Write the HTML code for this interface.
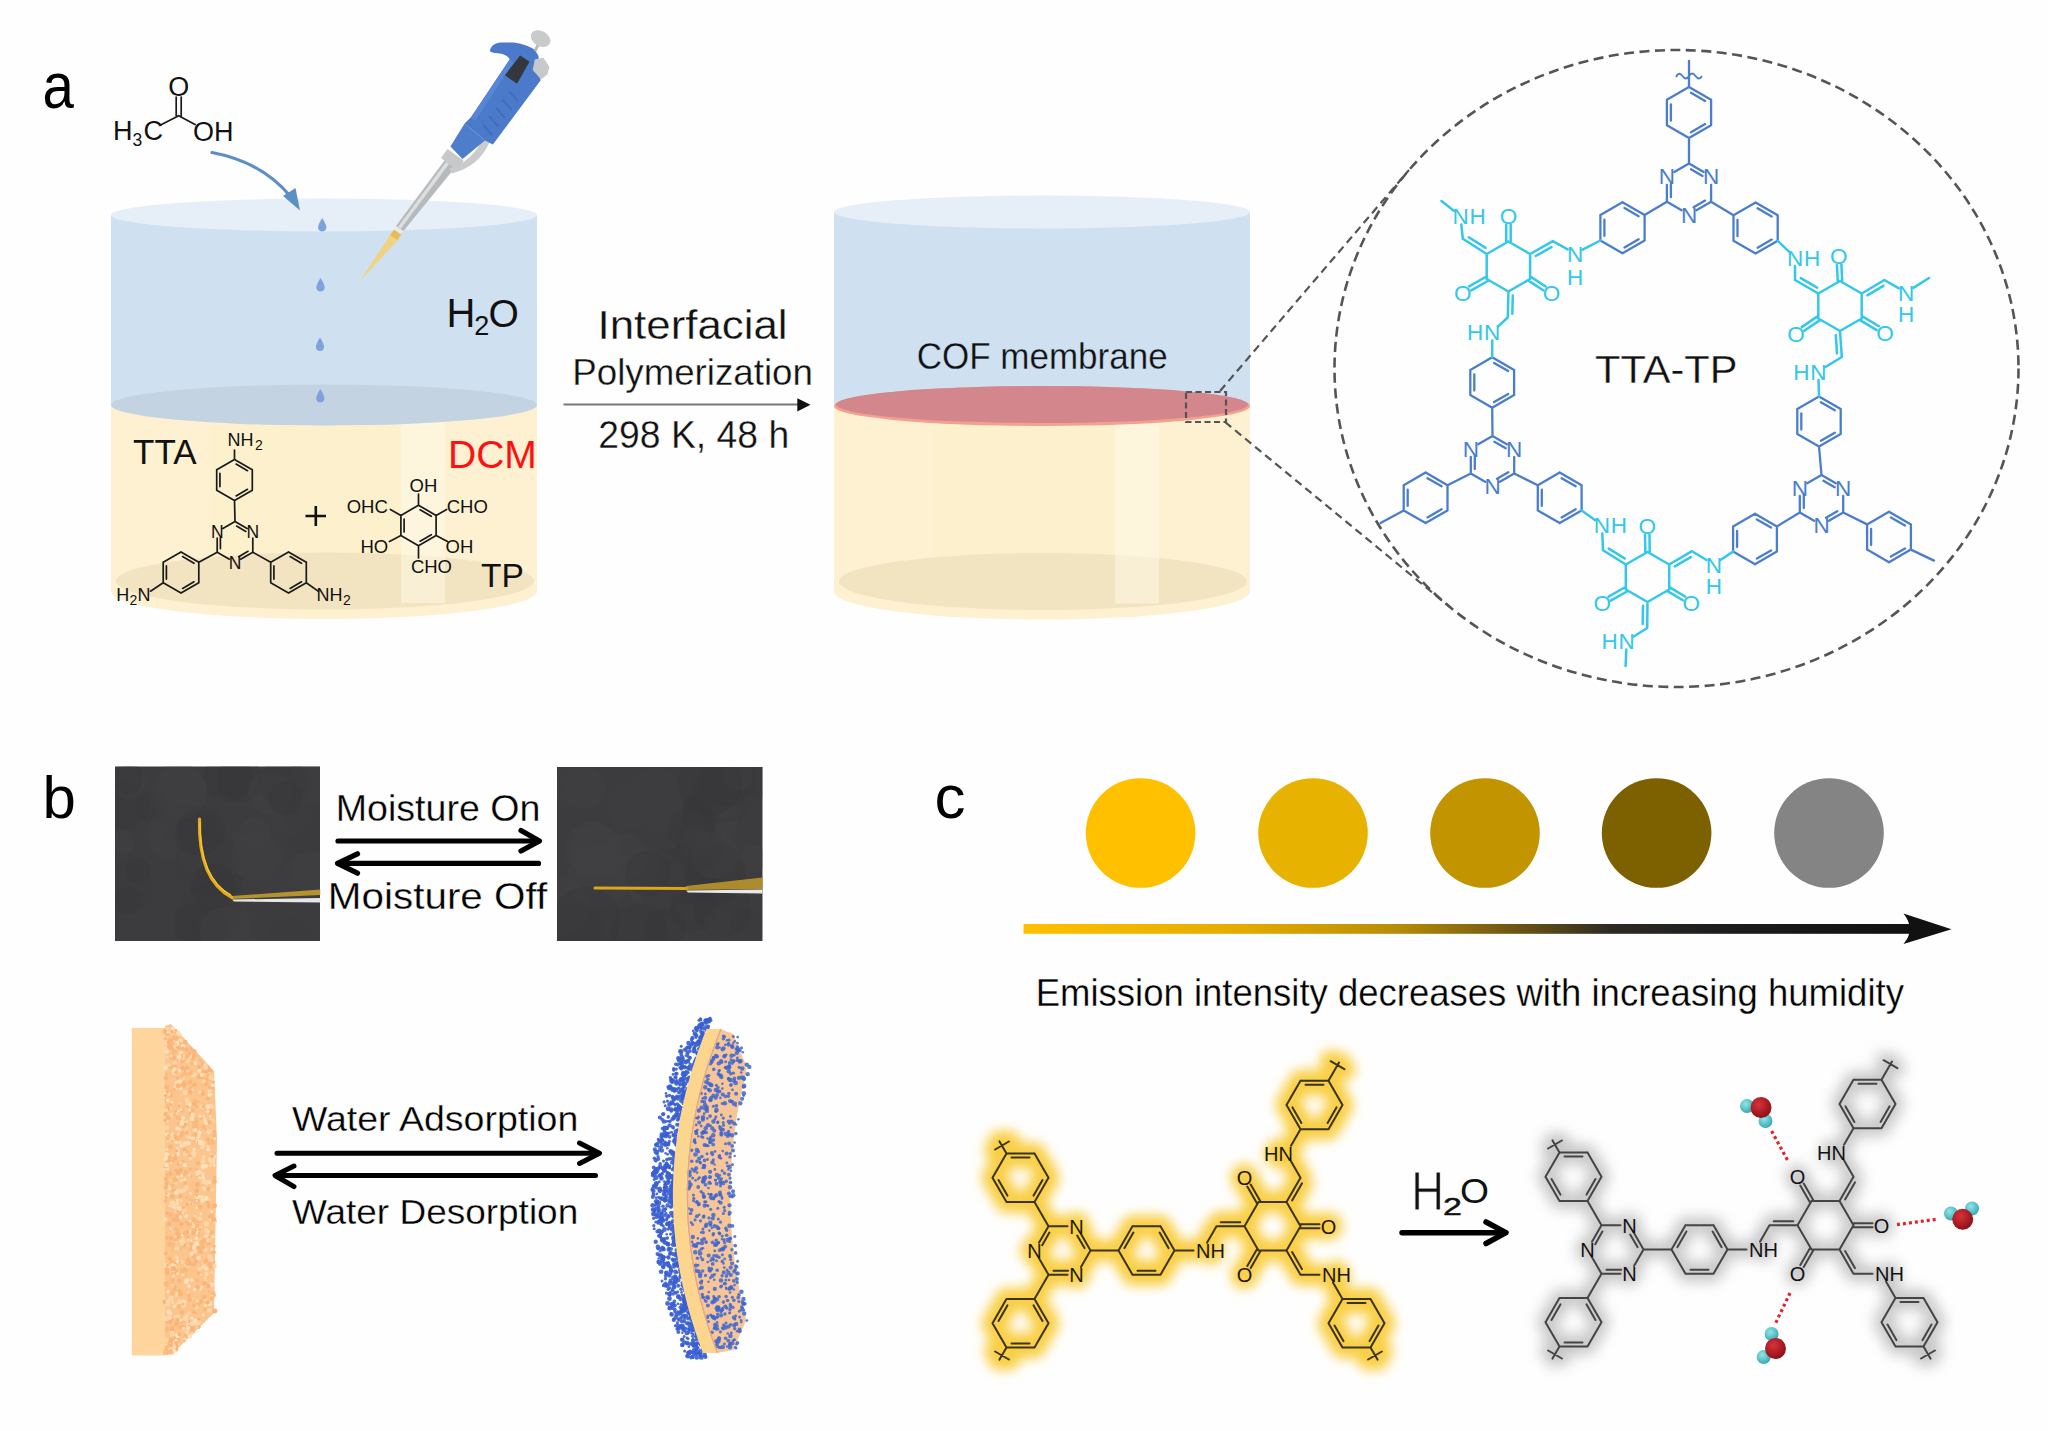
<!DOCTYPE html>
<html><head><meta charset="utf-8"><style>html,body{margin:0;padding:0;background:#fff;overflow:hidden}svg{display:block}</style></head>
<body><svg width="2048" height="1431" viewBox="0 0 2048 1431"><defs>
<linearGradient id="grad" x1="0" y1="0" x2="1" y2="0">
<stop offset="0" stop-color="#ffc000"/><stop offset="0.25" stop-color="#e4aa00"/><stop offset="0.42" stop-color="#b88c08"/><stop offset="0.55" stop-color="#6e5614"/><stop offset="0.66" stop-color="#2e2a22"/><stop offset="0.8" stop-color="#1c1c1c"/><stop offset="1" stop-color="#111"/>
</linearGradient>
<filter id="glowY" x="-20%" y="-20%" width="140%" height="140%"><feGaussianBlur stdDeviation="6"/></filter>
<filter id="glowG" x="-20%" y="-20%" width="140%" height="140%"><feGaussianBlur stdDeviation="7"/></filter>
<filter id="soft" x="-10%" y="-10%" width="120%" height="120%"><feGaussianBlur stdDeviation="0.6"/></filter>
<radialGradient id="photoG" cx="0.5" cy="0.5" r="0.7"><stop offset="0" stop-color="#3a3a3b"/><stop offset="1" stop-color="#3f3f41"/></radialGradient>
<radialGradient id="oG" cx="0.4" cy="0.35" r="0.65"><stop offset="0" stop-color="#d8323a"/><stop offset="1" stop-color="#8e1018"/></radialGradient>
<radialGradient id="hG" cx="0.4" cy="0.35" r="0.65"><stop offset="0" stop-color="#8fe6e6"/><stop offset="1" stop-color="#3aa9b4"/></radialGradient>
</defs><rect x="0" y="0" width="2048" height="1431" fill="#fefefe"/><path d="M111 405L111 591A213 28 0 0 0 537 591L537 405Z" fill="#fdf1d2"/><rect x="211" y="405" width="190" height="186" fill="#fcefcc" opacity="0.9"/><ellipse cx="325" cy="581" rx="209" ry="28.5" fill="#f1e3bf" opacity="0.95"/><rect x="401" y="405" width="44" height="198" fill="#fff8e6" opacity="0.55"/><path d="M111 215L111 405L537 405L537 215Z" fill="#cfe0f1"/><ellipse cx="324" cy="215" rx="213" ry="16.5" fill="#e6eef8"/><ellipse cx="324" cy="405" rx="213" ry="20.5" fill="#c3d3e1"/><path d="M834 405L834 591.5A208 28 0 0 0 1250 591.5L1250 405Z" fill="#fdf1d2"/><rect x="934" y="405" width="181" height="186.5" fill="#fcefcc" opacity="0.9"/><ellipse cx="1043" cy="581.5" rx="204" ry="28.5" fill="#f1e3bf" opacity="0.95"/><rect x="1115" y="405" width="44" height="198.5" fill="#fff8e6" opacity="0.55"/><path d="M834 212L834 405L1250 405L1250 212Z" fill="#cfe0f1"/><ellipse cx="1042" cy="212" rx="208" ry="16.5" fill="#e6eef8"/><ellipse cx="1042" cy="406" rx="208" ry="20" fill="#f2a08f"/><ellipse cx="1042" cy="404.5" rx="206" ry="18.5" fill="#d4868d"/><g font-family="'Liberation Sans', sans-serif"><text transform="matrix(0.94 0 0 1.08 42.6 108.2)" font-size="60">a</text><text x="42.5" y="818" font-size="60" fill="#000" text-anchor="start" >b</text><text x="934.5" y="818.2" font-size="62" fill="#000" text-anchor="start" >c</text></g><rect x="115" y="766.5" width="205" height="174.5" fill="#3c3c3e"/><rect x="557" y="767" width="205.5" height="174" fill="#3c3c3e"/><circle cx="1140.6" cy="833" r="54.8" fill="#ffc000"/><circle cx="1313" cy="833" r="54.8" fill="#e8b300"/><circle cx="1485" cy="833" r="54.8" fill="#c29400"/><circle cx="1656.6" cy="833" r="54.8" fill="#7d6000"/><circle cx="1829" cy="833" r="54.8" fill="#848484"/><rect x="1023.5" y="924" width="890" height="9.8" fill="url(#grad)"/><path d="M1951.5 929.2L1903.5 913.5Q1916 929.2 1903.5 944Z" fill="#111"/><g font-family="'Liberation Sans', sans-serif"><text transform="matrix(1.0923 0 0 1 597.55 339.20)" x="0" y="0" font-size="40.14" fill="#111" stroke="#fefefe" stroke-width="0.3">Interfacial</text><text transform="matrix(1.0131 0 0 1 572.26 385.30)" x="0" y="0" font-size="36.23" fill="#111" stroke="#fefefe" stroke-width="0.3">Polymerization</text><text transform="matrix(0.9717 0 0 1 598.33 448.00)" x="0" y="0" font-size="38.41" fill="#111" stroke="#fefefe" stroke-width="0.3">298 K, 48 h</text><text transform="matrix(0.9290 0 0 1 916.75 369.00)" x="0" y="0" font-size="37.68" fill="#111" stroke="#cfe0f1" stroke-width="0.3">COF membrane</text><text transform="matrix(1.0794 0 0 1 1594.97 383.20)" x="0" y="0" font-size="38.55" fill="#111" stroke="#fefefe" stroke-width="0.3">TTA-TP</text><text transform="matrix(1.0054 0 0 1 335.74 821.00)" x="0" y="0" font-size="37.39" fill="#000" stroke="#fefefe" stroke-width="0.3">Moisture On</text><text transform="matrix(1.0813 0 0 1 327.87 908.90)" x="0" y="0" font-size="37.39" fill="#000" stroke="#fefefe" stroke-width="0.3">Moisture Off</text><text transform="matrix(1.0441 0 0 1 291.92 1131.00)" x="0" y="0" font-size="35.94" fill="#000" stroke="#fefefe" stroke-width="0.3">Water Adsorption</text><text transform="matrix(1.0291 0 0 1 291.93 1224.20)" x="0" y="0" font-size="35.94" fill="#000" stroke="#fefefe" stroke-width="0.3">Water Desorption</text><text transform="matrix(0.9616 0 0 1 1035.68 1005.50)" x="0" y="0" font-size="37.97" fill="#000" stroke="#fefefe" stroke-width="0.3">Emission intensity decreases with increasing humidity</text></g><path d="M563.5 404.5H800" stroke="#777" stroke-width="2"/><path d="M810.5 404.8L797.3 398.3V411.5Z" fill="#111"/><g stroke="#000" stroke-width="5.2" fill="none" stroke-linecap="round" stroke-linejoin="round"><path d="M338 841H538"/><path d="M521 830.5L539.5 841L521 851"/><path d="M339 863.4H538.5"/><path d="M357.5 853.8L337.5 863.4L357.5 873.2"/></g><g stroke="#000" stroke-width="5" fill="none" stroke-linecap="round" stroke-linejoin="round"><path d="M277 1153.2H598"/><path d="M579.5 1143L599.5 1153.2L579.5 1163.5"/><path d="M276 1175.5H595.5"/><path d="M294 1166L275 1175.5L294 1186.6"/></g><g stroke="#000" stroke-width="5.5" fill="none" stroke-linecap="round" stroke-linejoin="round"><path d="M1402 1232.7H1504"/><path d="M1486 1222L1506 1232.7L1486 1243.5"/></g><path d="M1689 163.5L1703.7 172M1691 169.3L1702.5 175.9M1711.1 184.8L1711.1 201.8M1711.1 201.8L1696.4 210.2M1705.1 200.6L1693.6 207.2M1681.6 210.2L1666.9 201.8M1666.9 201.8L1666.9 184.8M1670.9 197.2L1670.9 183.9M1674.3 172L1689 163.5M1689 87L1711.1 99.8M1691 92.8L1705.1 100.9M1711.1 99.8L1711.1 125.2M1711.1 125.2L1689 138M1705.1 124.1L1691 132.2M1689 138L1666.9 125.2M1666.9 125.2L1666.9 99.8M1670.9 120.7L1670.9 104.3M1666.9 99.8L1689 87M1689 163.5L1689 138M1689 87L1689 61M1622.5 202.2L1644.6 215M1624.5 208L1638.6 216.2M1644.6 215L1644.6 240.5M1644.6 240.5L1622.5 253.2M1638.6 239.3L1624.5 247.5M1622.5 253.2L1600.4 240.5M1600.4 240.5L1600.4 215M1604.4 235.9L1604.4 219.6M1600.4 215L1622.5 202.2M1666.9 201.8L1644.6 215M1755.6 202.5L1777.7 215.2M1757.6 208.3L1771.7 216.4M1777.7 215.2L1777.7 240.8M1777.7 240.8L1755.6 253.5M1771.7 239.6L1757.6 247.7M1755.6 253.5L1733.5 240.8M1733.5 240.8L1733.5 215.2M1737.5 236.2L1737.5 219.8M1733.5 215.2L1755.6 202.5M1711.1 201.8L1733.5 215.2M1492.2 357.2L1514.1 369.9M1494.1 362.9L1508.2 371M1514.1 369.9L1514.1 395.1M1514.1 395.1L1492.2 407.8M1508.2 394L1494.1 402.1M1492.2 407.8L1470.3 395.1M1470.3 395.1L1470.3 369.9M1474.3 390.6L1474.3 374.4M1470.3 369.9L1492.2 357.2M1492.5 436L1506.8 444.2M1494.4 441.7L1505.7 448.2M1514.2 457L1514.2 473.5M1514.2 473.5L1499.9 481.8M1508.3 472.3L1497 478.8M1485.1 481.8L1470.8 473.5M1470.8 473.5L1470.8 457M1474.8 469L1474.8 456M1478.2 444.2L1492.5 436M1492.2 407.8L1492.5 436M1425.6 472.5L1447.5 485.2M1427.5 478.2L1441.6 486.3M1447.5 485.2L1447.5 510.4M1447.5 510.4L1425.6 523.1M1441.6 509.3L1427.5 517.4M1425.6 523.1L1403.7 510.4M1403.7 510.4L1403.7 485.2M1407.7 505.9L1407.7 489.7M1403.7 485.2L1425.6 472.5M1470.8 473.5L1447.5 485.2M1403.7 510.4L1380.6 523M1559.7 472.5L1581.6 485.2M1561.6 478.2L1575.7 486.3M1581.6 485.2L1581.6 510.4M1581.6 510.4L1559.7 523.1M1575.7 509.3L1561.6 517.4M1559.7 523.1L1537.8 510.4M1537.8 510.4L1537.8 485.2M1541.8 505.9L1541.8 489.7M1537.8 485.2L1559.7 472.5M1514.2 473.5L1537.8 485.2M1755 513.7L1776.9 526.4M1756.9 519.4L1771 527.5M1776.9 526.4L1776.9 551.6M1776.9 551.6L1755 564.3M1771 550.5L1756.9 558.6M1755 564.3L1733.1 551.6M1733.1 551.6L1733.1 526.4M1737.1 547.1L1737.1 530.9M1733.1 526.4L1755 513.7M1821.5 475L1835.8 483.2M1823.4 480.7L1834.7 487.2M1843.2 496L1843.2 512.5M1843.2 512.5L1828.9 520.8M1837.3 511.3L1826 517.8M1814.1 520.8L1799.8 512.5M1799.8 512.5L1799.8 496M1803.8 508L1803.8 495M1807.2 483.2L1821.5 475M1776.9 526.4L1799.8 512.5M1889 511.7L1910.9 524.4M1890.9 517.4L1905 525.5M1910.9 524.4L1910.9 549.6M1910.9 549.6L1889 562.3M1905 548.5L1890.9 556.6M1889 562.3L1867.1 549.6M1867.1 549.6L1867.1 524.4M1871.1 545.1L1871.1 528.9M1867.1 524.4L1889 511.7M1843.2 512.5L1867.1 524.4M1910.9 549.6L1934 560.6M1819 396.5L1840.7 409M1820.9 402.2L1834.8 410.2M1840.7 409L1840.7 434M1840.7 434L1819 446.5M1834.8 432.8L1820.9 440.8M1819 446.5L1797.3 434M1797.3 434L1797.3 409M1801.3 429.5L1801.3 413.5M1797.3 409L1819 396.5M1819 446.5L1821.5 475" stroke="#4a7ecd" stroke-width="2.3" fill="none" stroke-linecap="round"/><path d="M1508.4 241.5L1530.1 254M1530.1 254L1530.1 279M1530.1 279L1508.4 291.5M1508.4 291.5L1486.7 279M1486.7 279L1486.7 254M1486.7 254L1508.4 241.5M1600.4 240.5L1582.6 249.6M1552.8 241.2L1567.6 249.4M1530.1 254L1552.8 241.2M1535.7 256L1551.5 247.1M1510.7 241.5L1510.7 224.5M1506.2 241.5L1506.2 224.5M1485.6 277L1469.1 286.4M1487.9 281L1471.3 290.3M1528.8 280.9L1543.2 290.2M1531.3 277.1L1545.6 286.5M1486.7 254L1462.8 238.8M1485.6 247.9L1468.8 237.2M1462.8 238.8L1461.3 224.5M1453.8 210.7L1441.5 201M1508.4 291.5L1507.8 317.5M1512.8 295.5L1512.3 313.7M1507.8 317.5L1498.4 326.2M1492.2 340.5L1492.2 357.2M1581.6 510.4L1595 520M1647.5 552L1669.2 564.5M1669.2 564.5L1669.2 589.5M1669.2 589.5L1647.5 602M1647.5 602L1625.8 589.5M1625.8 589.5L1625.8 564.5M1625.8 564.5L1647.5 552M1602.3 533.5L1603 550.3M1625.8 564.5L1603 550.3M1624.8 558.5L1608.8 548.6M1649.7 552L1649.5 534.5M1645.3 552L1645 534.5M1624.7 587.5L1608.5 596.7M1627 591.5L1610.7 600.6M1668 591.4L1682.8 600.3M1670.3 587.6L1685.1 596.5M1669.2 564.5L1692 551.2M1674.8 566.4L1690.8 557.1M1692 551.2L1706.5 560M1647.5 602L1647.2 628M1643 605.8L1642.7 624M1647.2 628L1633.8 636.5M1626.3 649.5L1625.6 666M1720.8 559.7L1733.1 551.6M1819 396.5L1818.5 380M1840 281L1861.7 293.5M1861.7 293.5L1861.7 318.5M1861.7 318.5L1840 331M1840 331L1818.3 318.5M1818.3 318.5L1818.3 293.5M1818.3 293.5L1840 281M1825.5 367L1841.8 357M1840 331L1841.8 357M1835.8 335.2L1837 353.4M1842.2 280.9L1841.4 264.6M1837.8 281.1L1836.9 264.9M1817.1 316.6L1801.8 327.1M1819.6 320.4L1804.3 330.8M1860.5 320.4L1876.6 330.1M1862.8 316.6L1878.9 326.2M1818.3 293.5L1795 280M1817.1 287.6L1800.8 278.1M1795 280L1795 266M1777.7 240.8L1788.9 251.6M1861.7 293.5L1884.4 280M1867.4 295.3L1883.3 285.9M1884.4 280L1898.9 288.3M1913.4 287.9L1929 278" stroke="#33c7e9" stroke-width="2.5" fill="none" stroke-linecap="round"/><path d="M1676 77Q1679 71 1682.5 76T1689 76T1695.5 76T1702 76" stroke="#4a7ecd" stroke-width="1.8" fill="none"/><g font-family="'Liberation Sans', sans-serif" font-size="22.5" text-anchor="middle"><text x="1711.1" y="184.3" fill="#4a7ecd">N</text><text x="1689" y="222.6" fill="#4a7ecd">N</text><text x="1666.9" y="184.3" fill="#4a7ecd">N</text><text x="1575" y="261.6" fill="#33c7e9">N</text><text x="1575" y="284.6" fill="#33c7e9">H</text><text x="1508.4" y="224.1" fill="#33c7e9">O</text><text x="1462.8" y="300.6" fill="#33c7e9">O</text><text x="1551.5" y="301.1" fill="#33c7e9">O</text><text x="1460.5" y="224.1" fill="#33c7e9">N</text><text x="1477.5" y="224.1" fill="#33c7e9">H</text><text x="1492.2" y="340.1" fill="#33c7e9">N</text><text x="1475.2" y="340.1" fill="#33c7e9">H</text><text x="1514.2" y="456.6" fill="#4a7ecd">N</text><text x="1492.5" y="494.1" fill="#4a7ecd">N</text><text x="1470.8" y="456.6" fill="#4a7ecd">N</text><text x="1601.9" y="533.1" fill="#33c7e9">N</text><text x="1618.9" y="533.1" fill="#33c7e9">H</text><text x="1647.2" y="534.1" fill="#33c7e9">O</text><text x="1602.2" y="610.9" fill="#33c7e9">O</text><text x="1691.2" y="610.9" fill="#33c7e9">O</text><text x="1713.8" y="572.5" fill="#33c7e9">N</text><text x="1713.8" y="593.5" fill="#33c7e9">H</text><text x="1626.6" y="649.1" fill="#33c7e9">N</text><text x="1609.6" y="649.1" fill="#33c7e9">H</text><text x="1843.2" y="495.6" fill="#4a7ecd">N</text><text x="1821.5" y="533.1" fill="#4a7ecd">N</text><text x="1799.8" y="495.6" fill="#4a7ecd">N</text><text x="1818.3" y="379.6" fill="#33c7e9">N</text><text x="1801.3" y="379.6" fill="#33c7e9">H</text><text x="1838.8" y="264.4" fill="#33c7e9">O</text><text x="1796" y="341.9" fill="#33c7e9">O</text><text x="1885" y="340.6" fill="#33c7e9">O</text><text x="1795" y="265.6" fill="#33c7e9">N</text><text x="1812" y="265.6" fill="#33c7e9">H</text><text x="1906.2" y="300.6" fill="#33c7e9">N</text><text x="1906.2" y="321.6" fill="#33c7e9">H</text></g><ellipse cx="1676.5" cy="368.5" rx="342" ry="318.5" fill="none" stroke="#555" stroke-width="2.6" stroke-dasharray="10 5.5"/><rect x="1186" y="392" width="40" height="30" fill="none" stroke="#555" stroke-width="2.2" stroke-dasharray="6 3.5"/><path d="M1220 391L1409 170M1225 422L1450.1 607.2" stroke="#555" stroke-width="2.2" stroke-dasharray="8 5" fill="none"/><path d="M161.5 124.5L178.7 115.7M178.7 115.7L195 124.5M181.2 115.7L181.2 97M176.2 115.7L176.2 97M235 521.5L247.1 528.5M236.6 526.1L245.8 531.4M252.8 538.2L252.8 552.2M252.8 552.2L240.6 559.2M248 551.3L238.7 556.7M229.4 559.2L217.2 552.2M217.2 552.2L217.2 538.2M220.4 548.6L220.4 537.9M222.9 528.5L235 521.5M234.5 459.5L252.3 469.8M236.1 464.1L247.5 470.7M252.3 469.8L252.3 490.2M252.3 490.2L234.5 500.5M247.5 489.3L236.1 495.9M234.5 500.5L216.7 490.2M216.7 490.2L216.7 469.8M219.9 486.6L219.9 473.4M216.7 469.8L234.5 459.5M235 521.5L234.5 500.5M234.5 459.5L234.5 450M181 552L198.8 562.2M182.6 556.6L194 563.2M198.8 562.2L198.8 582.8M198.8 582.8L181 593M194 581.8L182.6 588.4M181 593L163.2 582.8M163.2 582.8L163.2 562.2M166.4 579.1L166.4 565.9M163.2 562.2L181 552M217.2 552.2L198.8 562.2M163.2 582.8L150.5 591.2M288.5 552L306.3 562.2M290.1 556.6L301.5 563.2M306.3 562.2L306.3 582.8M306.3 582.8L288.5 593M301.5 581.8L290.1 588.4M288.5 593L270.7 582.8M270.7 582.8L270.7 562.2M273.9 579.1L273.9 565.9M270.7 562.2L288.5 552M252.8 552.2L270.7 562.2M306.3 582.8L318.1 591.1M418.5 505.2L436.1 515.4M420.1 509.8L431.3 516.3M436.1 515.4L436.1 535.6M436.1 535.6L418.5 545.8M431.3 534.7L420.1 541.2M418.5 545.8L400.9 535.6M400.9 535.6L400.9 515.4M404.1 532L404.1 519M400.9 515.4L418.5 505.2M418.5 505.2L418.5 494M400.9 515.4L390.4 509.5M436.1 515.4L446.6 509.5M400.9 535.6L389.5 541.5M436.1 535.6L447.5 541.5M418.5 545.8L418.5 558" stroke="#1a1a1a" stroke-width="1.7" fill="none" stroke-linecap="round"/><g font-family="'Liberation Sans', sans-serif" fill="#111"><text x="113" y="140" font-size="27" text-anchor="start">H</text><text x="132.5" y="145.5" font-size="17.5" text-anchor="start">3</text><text x="143.5" y="140" font-size="27" text-anchor="start">C</text><text x="178.7" y="96" font-size="27" text-anchor="middle">O</text><text x="193" y="140.5" font-size="27" text-anchor="start">OH</text><text x="252.8" y="538" font-size="17.5" text-anchor="middle">N</text><text x="235" y="568.7" font-size="17.5" text-anchor="middle">N</text><text x="217.2" y="538" font-size="17.5" text-anchor="middle">N</text><text x="227.4" y="446.1" font-size="18" text-anchor="start">NH</text><text x="255" y="450.2" font-size="14" text-anchor="start">2</text><text x="116.3" y="600.8" font-size="18" text-anchor="start">H</text><text x="129.5" y="604.5" font-size="14" text-anchor="start">2</text><text x="137.5" y="600.8" font-size="18" text-anchor="start">N</text><text x="316.6" y="600.8" font-size="18" text-anchor="start">NH</text><text x="343" y="604.5" font-size="14" text-anchor="start">2</text><text x="409.6" y="491.5" font-size="18.5" text-anchor="start">OH</text><text x="346.7" y="512.8" font-size="18.5" text-anchor="start">OHC</text><text x="446.7" y="512.8" font-size="18.5" text-anchor="start">CHO</text><text x="360.5" y="552.5" font-size="18.5" text-anchor="start">HO</text><text x="445.5" y="552.5" font-size="18.5" text-anchor="start">OH</text><text x="410.9" y="573.3" font-size="18.5" text-anchor="start">CHO</text><text x="133" y="463.5" font-size="35" text-anchor="start">TTA</text><text x="481" y="587" font-size="33.5" text-anchor="start">TP</text><text x="448" y="467.5" font-size="39" fill="#ff1010">DCM</text><text x="446.4" y="326.8" font-size="40" text-anchor="start">H</text><text x="474.2" y="335.3" font-size="27" text-anchor="start">2</text><text x="488.5" y="326.8" font-size="39" text-anchor="start">O</text></g><path d="M305.5 516H326M315.8 506V526" stroke="#111" stroke-width="2.6"/><path d="M212 152.5Q262 162 290 196" stroke="#5d8fc6" stroke-width="3.2" fill="none" stroke-linecap="round"/><path d="M300 210.5L283 196L295.5 188Z" fill="#5d8fc6"/><path d="M322.2 218Q327.2 226 326.2 228.5A4.2 4.2 0 0 1 318.2 228.5Q317.2 226 322.2 218Z" fill="#7ea2dc"/><path d="M320.5 278Q325.5 286 324.5 288.5A4.2 4.2 0 0 1 316.5 288.5Q315.5 286 320.5 278Z" fill="#7ea2dc"/><path d="M320 337.5Q325 345.5 324 348A4.2 4.2 0 0 1 316 348Q315 345.5 320 337.5Z" fill="#7ea2dc"/><path d="M320.3 389Q325.3 397 324.3 399.5A4.2 4.2 0 0 1 316.3 399.5Q315.3 397 320.3 389Z" fill="#7ea2dc"/><path d="M359.6 281.5L391.5 233L399 238.5Z" fill="#f1d27e"/><path d="M390 235L395.5 228L402.5 233L397.5 240Z" fill="#e6bd55"/><path d="M394 229.5L397 225.5L404 230.5L401 234.5Z" fill="#e9e9e9"/><path d="M396 226L444.5 160.5L455.5 167L403.5 231Z" fill="#b7babd"/><path d="M398 227L446 162L449 164L400.5 229Z" fill="#dcdee0"/><path d="M490 141Q480 166 452 173.5L449.5 168.5Q473 161 483.5 137.5Z" fill="#c9cbcd"/><path d="M441 158L447.5 149L463.5 160.5L457 170Z" fill="#c6c8ca"/><path d="M450.4 146.6L464.6 123.5L485 140.5L462.5 159.1Z" fill="#4e7ecb"/><path d="M470.9 117.2L509.6 59.6Q508 54.5 498 53.3Q491 52.5 489.7 51.2Q491 44 500 42.6L514 42.6Q528 45 535 50.1L538.5 56L540.5 80.5L492.9 144.5L485 140.5L464.6 123.5Z" fill="#4b7acb"/><path d="M471 117.5L509.6 59.6L514 62L475 121Z" fill="#5b8ad6" opacity="0.8"/><path d="M520.1 55.4L529.5 61.7L517 83.7L504.9 75.3Z" fill="#34383d"/><path d="M483.0 125.0L492.0 135.0" stroke="#3e68b4" stroke-width="2.2" opacity="0.7"/><path d="M489.5 116.5L498.5 126.5" stroke="#3e68b4" stroke-width="2.2" opacity="0.7"/><path d="M496.0 108.0L505.0 118.0" stroke="#3e68b4" stroke-width="2.2" opacity="0.7"/><path d="M502.5 99.5L511.5 109.5" stroke="#3e68b4" stroke-width="2.2" opacity="0.7"/><path d="M509.0 91.0L518.0 101.0" stroke="#3e68b4" stroke-width="2.2" opacity="0.7"/><path d="M534.8 59.6L543.2 57.5L549.5 66.9L547.4 74.3L541.1 79.5L532.7 70.1Z" fill="#c8c9cb"/><path d="M535 51L540 41" stroke="#b9b9b9" stroke-width="3"/><ellipse cx="540.6" cy="38.6" rx="10.5" ry="7.5" transform="rotate(30 540.6 38.6)" fill="#c9cacc"/><defs><clipPath id="clip115"><rect x="115" y="766.5" width="205" height="174.5"/></clipPath><clipPath id="clip557"><rect x="557" y="767" width="205.5" height="174"/></clipPath></defs><g clip-path="url(#clip115)"><circle cx="181.4" cy="792.7" r="26.3" fill="#434345" opacity="0.35"/><circle cx="283.4" cy="782.9" r="24.6" fill="#363638" opacity="0.35"/><circle cx="122.7" cy="842" r="11.7" fill="#434345" opacity="0.35"/><circle cx="228" cy="776.8" r="24.1" fill="#363638" opacity="0.35"/><circle cx="244.3" cy="867.9" r="11.5" fill="#39393b" opacity="0.35"/><circle cx="125.2" cy="805" r="23.9" fill="#363638" opacity="0.35"/><circle cx="174.4" cy="791.6" r="12.9" fill="#404042" opacity="0.35"/><circle cx="229.9" cy="885.2" r="12.6" fill="#363638" opacity="0.35"/><circle cx="191.3" cy="861.8" r="11.6" fill="#434345" opacity="0.35"/><circle cx="241.9" cy="852.9" r="23.3" fill="#404042" opacity="0.35"/><circle cx="210.4" cy="927.2" r="19" fill="#363638" opacity="0.35"/><circle cx="277.8" cy="888.1" r="16.1" fill="#404042" opacity="0.35"/><circle cx="222.7" cy="918.8" r="28.2" fill="#404042" opacity="0.35"/><circle cx="239.8" cy="779.2" r="22.8" fill="#363638" opacity="0.35"/><circle cx="270.2" cy="792.9" r="22.2" fill="#434345" opacity="0.35"/><circle cx="312.2" cy="780" r="24" fill="#404042" opacity="0.35"/><circle cx="184.7" cy="827.4" r="22.4" fill="#39393b" opacity="0.35"/><circle cx="129.1" cy="782.8" r="16.7" fill="#434345" opacity="0.35"/><circle cx="127.4" cy="888.6" r="26.2" fill="#39393b" opacity="0.35"/><circle cx="173.3" cy="833.6" r="26.7" fill="#434345" opacity="0.35"/><circle cx="307.8" cy="828.4" r="25.3" fill="#39393b" opacity="0.35"/><circle cx="127.1" cy="900.2" r="13.2" fill="#363638" opacity="0.35"/><circle cx="196.6" cy="926" r="22.4" fill="#363638" opacity="0.35"/><circle cx="207.1" cy="862.1" r="32.1" fill="#39393b" opacity="0.35"/><circle cx="292.1" cy="814.9" r="20.4" fill="#404042" opacity="0.35"/><circle cx="255" cy="832.7" r="15.8" fill="#434345" opacity="0.35"/><circle cx="151.1" cy="806.9" r="15.8" fill="#39393b" opacity="0.35"/><circle cx="285.4" cy="798.2" r="17" fill="#363638" opacity="0.35"/><circle cx="200.9" cy="830.8" r="24.2" fill="#363638" opacity="0.35"/><circle cx="256.6" cy="856.2" r="25.4" fill="#434345" opacity="0.35"/><circle cx="208.6" cy="918.1" r="33.8" fill="#39393b" opacity="0.35"/><circle cx="196.6" cy="835.1" r="22" fill="#39393b" opacity="0.35"/><circle cx="127.8" cy="778.2" r="15.2" fill="#363638" opacity="0.35"/><circle cx="137.5" cy="871" r="12.6" fill="#363638" opacity="0.35"/><circle cx="225" cy="931.6" r="25.3" fill="#434345" opacity="0.35"/><circle cx="294.2" cy="873.3" r="13.7" fill="#404042" opacity="0.35"/><circle cx="310.9" cy="871.3" r="21.9" fill="#434345" opacity="0.35"/><circle cx="289" cy="939.3" r="21.6" fill="#39393b" opacity="0.35"/><circle cx="178.9" cy="791.6" r="28.7" fill="#404042" opacity="0.35"/><circle cx="213.1" cy="886.9" r="22.9" fill="#363638" opacity="0.35"/></g><g clip-path="url(#clip557)"><circle cx="752" cy="858.9" r="13.7" fill="#434345" opacity="0.35"/><circle cx="712.4" cy="818.9" r="26.1" fill="#434345" opacity="0.35"/><circle cx="699.7" cy="812.4" r="19.2" fill="#363638" opacity="0.35"/><circle cx="629.9" cy="805.8" r="23.5" fill="#404042" opacity="0.35"/><circle cx="687.5" cy="873.7" r="29.7" fill="#363638" opacity="0.35"/><circle cx="722.2" cy="909.4" r="28.5" fill="#363638" opacity="0.35"/><circle cx="598" cy="852.7" r="28.3" fill="#434345" opacity="0.35"/><circle cx="719" cy="849.2" r="14.8" fill="#404042" opacity="0.35"/><circle cx="648.7" cy="930" r="34.7" fill="#404042" opacity="0.35"/><circle cx="573.5" cy="784.8" r="21.8" fill="#404042" opacity="0.35"/><circle cx="598.9" cy="875.6" r="32.5" fill="#434345" opacity="0.35"/><circle cx="655.3" cy="880.6" r="30" fill="#434345" opacity="0.35"/><circle cx="728.1" cy="787.9" r="19.7" fill="#363638" opacity="0.35"/><circle cx="655" cy="798.1" r="29.7" fill="#404042" opacity="0.35"/><circle cx="574.8" cy="931.6" r="28" fill="#39393b" opacity="0.35"/><circle cx="639.3" cy="931.7" r="28.1" fill="#363638" opacity="0.35"/><circle cx="760.6" cy="771.8" r="24.8" fill="#39393b" opacity="0.35"/><circle cx="722.3" cy="792.4" r="30.7" fill="#39393b" opacity="0.35"/><circle cx="691.7" cy="828" r="23.7" fill="#363638" opacity="0.35"/><circle cx="561.4" cy="906.1" r="28.2" fill="#434345" opacity="0.35"/><circle cx="664.9" cy="929.5" r="20.8" fill="#363638" opacity="0.35"/><circle cx="726.4" cy="803.7" r="16.3" fill="#404042" opacity="0.35"/><circle cx="659.7" cy="899.9" r="18.1" fill="#39393b" opacity="0.35"/><circle cx="728" cy="777.6" r="28.5" fill="#39393b" opacity="0.35"/><circle cx="692.8" cy="908.8" r="22.9" fill="#363638" opacity="0.35"/><circle cx="666" cy="858.1" r="10.5" fill="#39393b" opacity="0.35"/><circle cx="716.2" cy="872.9" r="29.4" fill="#363638" opacity="0.35"/><circle cx="592.3" cy="849.4" r="28.1" fill="#434345" opacity="0.35"/><circle cx="623.8" cy="857.2" r="23.9" fill="#434345" opacity="0.35"/><circle cx="738.1" cy="776.9" r="14.8" fill="#434345" opacity="0.35"/><circle cx="715.3" cy="855.3" r="24" fill="#434345" opacity="0.35"/><circle cx="647.9" cy="873.6" r="22.6" fill="#363638" opacity="0.35"/><circle cx="699" cy="845.7" r="23.3" fill="#39393b" opacity="0.35"/><circle cx="661.1" cy="810.1" r="23.1" fill="#404042" opacity="0.35"/><circle cx="746.2" cy="922.3" r="15.1" fill="#39393b" opacity="0.35"/><circle cx="585.1" cy="788.2" r="21.1" fill="#434345" opacity="0.35"/><circle cx="694.6" cy="841.5" r="15.3" fill="#404042" opacity="0.35"/><circle cx="717.7" cy="923.1" r="13.9" fill="#404042" opacity="0.35"/><circle cx="586.3" cy="920.6" r="34.2" fill="#363638" opacity="0.35"/><circle cx="710.1" cy="783.4" r="32.1" fill="#363638" opacity="0.35"/></g><path d="M232 896L320.3 889.5L320.3 895L232 899Z" fill="#c9a12a" opacity="0.85"/><path d="M232 899.5L320.3 898L320.3 902.5L234 901.5Z" fill="#e6e6e6"/><path d="M199.5 819Q198 880 232 897.5" stroke="#e3a91a" stroke-width="3.2" fill="none" stroke-linecap="round"/><path d="M200 822Q199.5 878 231 895" stroke="#f7c838" stroke-width="1.2" fill="none"/><path d="M595 888L687 888.5" stroke="#d9a61c" stroke-width="3.2" stroke-linecap="round"/><path d="M686 886L762.4 877.5L762.4 889L686 890Z" fill="#c19a2c" opacity="0.85"/><path d="M686 890.5L762.4 889.5L762.4 893.5L688 892.5Z" fill="#e8e8e8"/><rect x="131.8" y="1028" width="33.5" height="327.5" fill="#fdd59d"/><polygon points="165,1026 171,1024 214,1071 217,1140 214,1313 172,1354 165,1355" fill="#fcc58e"/><circle cx="173.6" cy="1350.7" r="2.2" fill="#fdd7a8"/><circle cx="168.6" cy="1352.1" r="1.5" fill="#fee1bb"/><circle cx="201.1" cy="1131.8" r="1.7" fill="#fbb87d"/><circle cx="200.2" cy="1177.5" r="1.7" fill="#fee1bb"/><circle cx="190.6" cy="1231.4" r="1.4" fill="#fbb87d"/><circle cx="172.8" cy="1327.4" r="1.3" fill="#fbb87d"/><circle cx="210.3" cy="1116.6" r="1.6" fill="#fdd7a8"/><circle cx="185.4" cy="1070.2" r="1.8" fill="#f9b47a"/><circle cx="190.7" cy="1202.9" r="2.2" fill="#fee1bb"/><circle cx="167.1" cy="1057.2" r="1.8" fill="#fdd7a8"/><circle cx="194.3" cy="1051.6" r="2.3" fill="#fbb87d"/><circle cx="194.7" cy="1055.3" r="1.6" fill="#fbb87d"/><circle cx="165.5" cy="1067.7" r="2.5" fill="#fee1bb"/><circle cx="171.5" cy="1115.3" r="2.5" fill="#fdd7a8"/><circle cx="169.5" cy="1344" r="1.5" fill="#fdd7a8"/><circle cx="180.3" cy="1129.7" r="1.6" fill="#fdd7a8"/><circle cx="173.9" cy="1191" r="2.3" fill="#f9b47a"/><circle cx="165.3" cy="1352.2" r="2.2" fill="#fbb87d"/><circle cx="174.5" cy="1207.6" r="1.5" fill="#fee1bb"/><circle cx="197.9" cy="1173.7" r="2.1" fill="#fee1bb"/><circle cx="209.4" cy="1206" r="2.2" fill="#f9b47a"/><circle cx="169.4" cy="1348.3" r="1.8" fill="#fdd7a8"/><circle cx="167.7" cy="1141.3" r="1.2" fill="#fdd7a8"/><circle cx="209" cy="1231.9" r="1.4" fill="#fee1bb"/><circle cx="194.3" cy="1055.5" r="2" fill="#f9b47a"/><circle cx="167.3" cy="1253.8" r="1.4" fill="#fdd7a8"/><circle cx="178.2" cy="1173.3" r="2.6" fill="#f9b47a"/><circle cx="177.2" cy="1206.3" r="1.5" fill="#f9b47a"/><circle cx="181.8" cy="1087.6" r="1.9" fill="#fbb87d"/><circle cx="175" cy="1191.9" r="1.3" fill="#fbb87d"/><circle cx="172.2" cy="1294.4" r="1.8" fill="#fbb87d"/><circle cx="196.5" cy="1125.7" r="2" fill="#fbb87d"/><circle cx="202.5" cy="1200.5" r="2.3" fill="#fee1bb"/><circle cx="189.7" cy="1262.9" r="2.2" fill="#f9b47a"/><circle cx="167.2" cy="1237.7" r="2.2" fill="#fee1bb"/><circle cx="172" cy="1292.8" r="2.4" fill="#fbb87d"/><circle cx="209.6" cy="1218.4" r="1.3" fill="#fdd7a8"/><circle cx="179.1" cy="1041.6" r="1.7" fill="#fbb87d"/><circle cx="167.5" cy="1175.2" r="2.1" fill="#fbb87d"/><circle cx="189.5" cy="1249.9" r="1.8" fill="#fbb87d"/><circle cx="193.5" cy="1050.9" r="2.1" fill="#fbb87d"/><circle cx="186.6" cy="1049.5" r="2.3" fill="#f9b47a"/><circle cx="176.7" cy="1303.8" r="1.5" fill="#fdd7a8"/><circle cx="188" cy="1239.9" r="1.3" fill="#fee1bb"/><circle cx="175.6" cy="1324.8" r="2.1" fill="#fbb87d"/><circle cx="168.9" cy="1237.5" r="1.7" fill="#fdd7a8"/><circle cx="199.6" cy="1240.4" r="1.2" fill="#fdd7a8"/><circle cx="172.5" cy="1047.8" r="2.2" fill="#fbb87d"/><circle cx="179.5" cy="1248.3" r="1.9" fill="#f9b47a"/><circle cx="170.9" cy="1180" r="1.6" fill="#fdd7a8"/><circle cx="181.7" cy="1056" r="1.8" fill="#f9b47a"/><circle cx="213.4" cy="1295.3" r="2.6" fill="#fee1bb"/><circle cx="210.8" cy="1154.1" r="1.3" fill="#fdd7a8"/><circle cx="192.4" cy="1057.4" r="2.5" fill="#f9b47a"/><circle cx="206" cy="1071.2" r="2.4" fill="#f9b47a"/><circle cx="176.6" cy="1257.3" r="1.8" fill="#fee1bb"/><circle cx="212.5" cy="1079.9" r="1.8" fill="#fee1bb"/><circle cx="185.8" cy="1265.1" r="1.6" fill="#fee1bb"/><circle cx="165.1" cy="1301.9" r="2.4" fill="#f9b47a"/><circle cx="207.1" cy="1067.1" r="2.5" fill="#fbb87d"/><circle cx="183.6" cy="1122.5" r="1.7" fill="#fee1bb"/><circle cx="168.8" cy="1311.6" r="2.3" fill="#fee1bb"/><circle cx="179" cy="1306.5" r="2.4" fill="#fbb87d"/><circle cx="211.8" cy="1121.1" r="2.6" fill="#fdd7a8"/><circle cx="180.8" cy="1170.2" r="2.3" fill="#f9b47a"/><circle cx="166.5" cy="1167.4" r="2.5" fill="#fee1bb"/><circle cx="179.7" cy="1334.7" r="1.3" fill="#fbb87d"/><circle cx="187.5" cy="1266.7" r="2.1" fill="#fdd7a8"/><circle cx="167.4" cy="1121.3" r="1.4" fill="#fdd7a8"/><circle cx="179.1" cy="1163.2" r="2.2" fill="#f9b47a"/><circle cx="168.9" cy="1346.3" r="1.6" fill="#fdd7a8"/><circle cx="184.7" cy="1209.7" r="2.1" fill="#fdd7a8"/><circle cx="181.1" cy="1052.5" r="2" fill="#fee1bb"/><circle cx="181.6" cy="1175.7" r="1.8" fill="#fee1bb"/><circle cx="177.2" cy="1206.6" r="1.7" fill="#fdd7a8"/><circle cx="173.8" cy="1057.7" r="2.3" fill="#f9b47a"/><circle cx="166" cy="1093.9" r="1.7" fill="#fee1bb"/><circle cx="175.5" cy="1271.1" r="1.7" fill="#f9b47a"/><circle cx="172.8" cy="1048.2" r="1.4" fill="#f9b47a"/><circle cx="196.5" cy="1192.1" r="1.3" fill="#fdd7a8"/><circle cx="180.9" cy="1320.4" r="1.8" fill="#fee1bb"/><circle cx="205.7" cy="1129.7" r="1.4" fill="#fbb87d"/><circle cx="203.2" cy="1166.6" r="2.6" fill="#fee1bb"/><circle cx="168.7" cy="1187.7" r="2.6" fill="#fee1bb"/><circle cx="170.5" cy="1109" r="1.4" fill="#fdd7a8"/><circle cx="166.8" cy="1344.8" r="1.3" fill="#fee1bb"/><circle cx="165.1" cy="1281.3" r="1.5" fill="#fdd7a8"/><circle cx="186.8" cy="1327.9" r="2.5" fill="#f9b47a"/><circle cx="191.4" cy="1232.2" r="2.2" fill="#fee1bb"/><circle cx="168" cy="1064.6" r="1.7" fill="#fdd7a8"/><circle cx="195.1" cy="1100.9" r="2" fill="#fbb87d"/><circle cx="167.3" cy="1352.8" r="2.1" fill="#f9b47a"/><circle cx="186.8" cy="1316.1" r="2" fill="#fdd7a8"/><circle cx="172.6" cy="1037.5" r="1.3" fill="#f9b47a"/><circle cx="209.2" cy="1091.3" r="1.3" fill="#fee1bb"/><circle cx="186.2" cy="1102.3" r="1.5" fill="#f9b47a"/><circle cx="171.7" cy="1039.1" r="1.7" fill="#fee1bb"/><circle cx="165.3" cy="1157.2" r="2.2" fill="#f9b47a"/><circle cx="175.3" cy="1192.6" r="1.6" fill="#fdd7a8"/><circle cx="176.5" cy="1295.3" r="1.6" fill="#fdd7a8"/><circle cx="169.8" cy="1317.9" r="2.1" fill="#fee1bb"/><circle cx="185.2" cy="1320.3" r="2.5" fill="#fbb87d"/><circle cx="184.7" cy="1075.7" r="1.2" fill="#fdd7a8"/><circle cx="185.8" cy="1222.3" r="1.5" fill="#fbb87d"/><circle cx="200.6" cy="1174.6" r="2.2" fill="#f9b47a"/><circle cx="172.3" cy="1353.2" r="1.5" fill="#f9b47a"/><circle cx="191.2" cy="1240.7" r="1.2" fill="#fee1bb"/><circle cx="183.9" cy="1244.6" r="2.6" fill="#f9b47a"/><circle cx="170.4" cy="1172.2" r="1.6" fill="#fbb87d"/><circle cx="212.8" cy="1142.6" r="2" fill="#fbb87d"/><circle cx="184" cy="1275.4" r="2.4" fill="#f9b47a"/><circle cx="167.5" cy="1169" r="1.5" fill="#fee1bb"/><circle cx="187.3" cy="1204.5" r="1.7" fill="#f9b47a"/><circle cx="166.3" cy="1320.4" r="1.5" fill="#fee1bb"/><circle cx="185.2" cy="1231.9" r="1.2" fill="#fee1bb"/><circle cx="191.1" cy="1048.4" r="1.5" fill="#f9b47a"/><circle cx="182.2" cy="1048.5" r="1.6" fill="#f9b47a"/><circle cx="178" cy="1340.2" r="2.2" fill="#f9b47a"/><circle cx="211.2" cy="1252.8" r="1.2" fill="#f9b47a"/><circle cx="210.8" cy="1274.3" r="1.2" fill="#fbb87d"/><circle cx="188.8" cy="1104.2" r="2.5" fill="#fee1bb"/><circle cx="177.6" cy="1154" r="2.3" fill="#fee1bb"/><circle cx="189.8" cy="1071.3" r="2.3" fill="#fbb87d"/><circle cx="206.1" cy="1268.7" r="2.1" fill="#fdd7a8"/><circle cx="181" cy="1134.9" r="2.3" fill="#f9b47a"/><circle cx="190.6" cy="1222.2" r="2.3" fill="#fee1bb"/><circle cx="168.2" cy="1108.6" r="1.9" fill="#fbb87d"/><circle cx="173" cy="1205.5" r="2.4" fill="#fee1bb"/><circle cx="167.9" cy="1350" r="1.5" fill="#fbb87d"/><circle cx="214.4" cy="1165.3" r="1.4" fill="#fee1bb"/><circle cx="188" cy="1071.3" r="2.2" fill="#fdd7a8"/><circle cx="198.2" cy="1304.1" r="2.3" fill="#fbb87d"/><circle cx="179" cy="1123.8" r="1.7" fill="#f9b47a"/><circle cx="175" cy="1268.6" r="1.5" fill="#fdd7a8"/><circle cx="179.1" cy="1104.8" r="1.7" fill="#fdd7a8"/><circle cx="214.6" cy="1157.1" r="2.1" fill="#fdd7a8"/><circle cx="183.4" cy="1060.8" r="1.3" fill="#fbb87d"/><circle cx="206" cy="1182.8" r="2.5" fill="#fee1bb"/><circle cx="171.4" cy="1041.2" r="1.3" fill="#fbb87d"/><circle cx="206.4" cy="1223.8" r="2.5" fill="#fdd7a8"/><circle cx="208.3" cy="1149.3" r="2" fill="#fee1bb"/><circle cx="198.2" cy="1280.6" r="1.3" fill="#fbb87d"/><circle cx="196" cy="1222.3" r="1.3" fill="#fdd7a8"/><circle cx="167.2" cy="1138.8" r="1.3" fill="#f9b47a"/><circle cx="210.7" cy="1266.7" r="2.3" fill="#fbb87d"/><circle cx="183.6" cy="1161.3" r="1.3" fill="#f9b47a"/><circle cx="174.4" cy="1038.3" r="1.3" fill="#fee1bb"/><circle cx="180.8" cy="1061.1" r="2.1" fill="#fdd7a8"/><circle cx="171" cy="1057.7" r="1.8" fill="#f9b47a"/><circle cx="180.4" cy="1120.4" r="1.6" fill="#fbb87d"/><circle cx="182.9" cy="1212.7" r="1.2" fill="#fee1bb"/><circle cx="205.1" cy="1277.9" r="1.7" fill="#fdd7a8"/><circle cx="212.1" cy="1160" r="2.5" fill="#fee1bb"/><circle cx="206" cy="1166.1" r="2" fill="#fee1bb"/><circle cx="203.7" cy="1146.9" r="1.2" fill="#fdd7a8"/><circle cx="197" cy="1207.8" r="1.3" fill="#fee1bb"/><circle cx="183.5" cy="1230.8" r="1.4" fill="#fdd7a8"/><circle cx="191.1" cy="1120.4" r="1.4" fill="#fbb87d"/><circle cx="205.2" cy="1187.9" r="1.6" fill="#fdd7a8"/><circle cx="167.2" cy="1301" r="1.6" fill="#fee1bb"/><circle cx="196.8" cy="1226.1" r="2.5" fill="#fbb87d"/><circle cx="206.2" cy="1230.2" r="2.1" fill="#fdd7a8"/><circle cx="196.1" cy="1307.2" r="2.4" fill="#fdd7a8"/><circle cx="175.9" cy="1087.6" r="2.5" fill="#fee1bb"/><circle cx="183" cy="1079" r="1.5" fill="#fdd7a8"/><circle cx="209.9" cy="1264.3" r="2.4" fill="#fbb87d"/><circle cx="198.6" cy="1302.7" r="1.4" fill="#f9b47a"/><circle cx="192.5" cy="1223.4" r="2.1" fill="#f9b47a"/><circle cx="177.5" cy="1128.5" r="2.1" fill="#fee1bb"/><circle cx="186.9" cy="1173.7" r="1.2" fill="#fbb87d"/><circle cx="170.4" cy="1349.5" r="2.3" fill="#fee1bb"/><circle cx="187.9" cy="1282.3" r="2.3" fill="#fdd7a8"/><circle cx="168.4" cy="1158.5" r="1.8" fill="#f9b47a"/><circle cx="181.4" cy="1057.9" r="1.3" fill="#fbb87d"/><circle cx="209.7" cy="1070.5" r="2.3" fill="#f9b47a"/><circle cx="167.7" cy="1194.7" r="2.1" fill="#fee1bb"/><circle cx="166.3" cy="1283.7" r="2.6" fill="#fbb87d"/><circle cx="205.7" cy="1266.7" r="1.4" fill="#fdd7a8"/><circle cx="178" cy="1316.7" r="2.2" fill="#fdd7a8"/><circle cx="176.1" cy="1263.1" r="2.1" fill="#f9b47a"/><circle cx="181.2" cy="1110.2" r="2.5" fill="#f9b47a"/><circle cx="177.7" cy="1176.8" r="1.5" fill="#fee1bb"/><circle cx="190.3" cy="1113.7" r="1.7" fill="#f9b47a"/><circle cx="185.2" cy="1092.9" r="2.2" fill="#f9b47a"/><circle cx="172.1" cy="1319.9" r="1.4" fill="#f9b47a"/><circle cx="196.8" cy="1201" r="2.6" fill="#f9b47a"/><circle cx="191.1" cy="1175.7" r="1.6" fill="#fbb87d"/><circle cx="207.8" cy="1202.6" r="1.6" fill="#f9b47a"/><circle cx="170.9" cy="1350.9" r="1.7" fill="#f9b47a"/><circle cx="172.8" cy="1054.5" r="1.6" fill="#fbb87d"/><circle cx="180.5" cy="1196.3" r="2.2" fill="#f9b47a"/><circle cx="176.1" cy="1271.6" r="2.1" fill="#f9b47a"/><circle cx="190.6" cy="1168.9" r="1.4" fill="#fbb87d"/><circle cx="197.7" cy="1102.1" r="1.3" fill="#fbb87d"/><circle cx="180.2" cy="1212.9" r="1.9" fill="#f9b47a"/><circle cx="180.1" cy="1162.7" r="1.5" fill="#fdd7a8"/><circle cx="188.7" cy="1231.4" r="1.2" fill="#fdd7a8"/><circle cx="200.4" cy="1289.3" r="1.3" fill="#fee1bb"/><circle cx="208.6" cy="1236.1" r="1.8" fill="#f9b47a"/><circle cx="165.6" cy="1114.1" r="2" fill="#f9b47a"/><circle cx="195.1" cy="1216.6" r="1.5" fill="#fee1bb"/><circle cx="166.7" cy="1322.5" r="1.8" fill="#fbb87d"/><circle cx="167.9" cy="1105.5" r="1.2" fill="#fbb87d"/><circle cx="212" cy="1207.6" r="1.8" fill="#fdd7a8"/><circle cx="197.1" cy="1197" r="2.3" fill="#fee1bb"/><circle cx="180.5" cy="1084.9" r="2.1" fill="#f9b47a"/><circle cx="171.5" cy="1352.1" r="2.2" fill="#fee1bb"/><circle cx="174.8" cy="1030.1" r="1.3" fill="#fee1bb"/><circle cx="173.8" cy="1241.7" r="1.6" fill="#fbb87d"/><circle cx="171.2" cy="1238" r="2.2" fill="#f9b47a"/><circle cx="192.7" cy="1114.7" r="2.2" fill="#fee1bb"/><circle cx="198.7" cy="1327" r="2.1" fill="#f9b47a"/><circle cx="169" cy="1342.6" r="1.4" fill="#fbb87d"/><circle cx="197.7" cy="1322.9" r="2.5" fill="#fdd7a8"/><circle cx="181.3" cy="1271.2" r="1.7" fill="#fee1bb"/><circle cx="210.4" cy="1106" r="1.9" fill="#fee1bb"/><circle cx="165.3" cy="1201" r="1.8" fill="#fbb87d"/><circle cx="193.5" cy="1264.2" r="2.3" fill="#f9b47a"/><circle cx="194.3" cy="1155.6" r="1.4" fill="#fdd7a8"/><circle cx="166.9" cy="1036.8" r="1.7" fill="#fdd7a8"/><circle cx="166.4" cy="1074.2" r="1.4" fill="#fbb87d"/><circle cx="167.1" cy="1237.8" r="2.2" fill="#fbb87d"/><circle cx="182.3" cy="1049.4" r="1.5" fill="#f9b47a"/><circle cx="176.8" cy="1339.2" r="2.4" fill="#fbb87d"/><circle cx="200.6" cy="1274.4" r="1.3" fill="#fee1bb"/><circle cx="170.6" cy="1095.1" r="2.5" fill="#fbb87d"/><circle cx="192.7" cy="1325" r="2.4" fill="#fbb87d"/><circle cx="179.4" cy="1233.9" r="1.4" fill="#fbb87d"/><circle cx="197.3" cy="1286.2" r="1.6" fill="#f9b47a"/><circle cx="166" cy="1166.1" r="2.5" fill="#f9b47a"/><circle cx="183.3" cy="1043.8" r="2.3" fill="#f9b47a"/><circle cx="188.8" cy="1224.3" r="2.1" fill="#f9b47a"/><circle cx="172.8" cy="1038.1" r="1.9" fill="#fee1bb"/><circle cx="183.3" cy="1060" r="2" fill="#fbb87d"/><circle cx="208.1" cy="1098.6" r="2" fill="#fbb87d"/><circle cx="186.8" cy="1121.6" r="1.6" fill="#fdd7a8"/><circle cx="167.7" cy="1272.7" r="1.9" fill="#f9b47a"/><circle cx="204.8" cy="1188.2" r="2.6" fill="#fdd7a8"/><circle cx="212.9" cy="1221.2" r="2" fill="#f9b47a"/><circle cx="205.8" cy="1079.8" r="1.9" fill="#fdd7a8"/><circle cx="192" cy="1063.8" r="1.9" fill="#fbb87d"/><circle cx="170.6" cy="1351.1" r="2.1" fill="#fbb87d"/><circle cx="185.1" cy="1143.9" r="2.4" fill="#fee1bb"/><circle cx="186.1" cy="1270.9" r="1.7" fill="#fbb87d"/><circle cx="186.4" cy="1126.8" r="1.7" fill="#fdd7a8"/><circle cx="175.7" cy="1316.2" r="1.4" fill="#fee1bb"/><circle cx="199.5" cy="1221.7" r="1.7" fill="#fbb87d"/><circle cx="172.8" cy="1134.5" r="2.1" fill="#fee1bb"/><circle cx="173.5" cy="1269.9" r="2.2" fill="#fee1bb"/><circle cx="176.6" cy="1111.9" r="1.8" fill="#f9b47a"/><circle cx="175.8" cy="1316.6" r="1.6" fill="#fdd7a8"/><circle cx="206.3" cy="1274" r="2.2" fill="#fdd7a8"/><circle cx="176.2" cy="1345.8" r="1.4" fill="#f9b47a"/><circle cx="174.5" cy="1135" r="1.4" fill="#fbb87d"/><circle cx="174.8" cy="1242.5" r="2.6" fill="#fdd7a8"/><circle cx="201.7" cy="1287.1" r="1.6" fill="#fee1bb"/><circle cx="203.5" cy="1063.6" r="1.5" fill="#f9b47a"/><circle cx="166.7" cy="1154.6" r="2.4" fill="#fee1bb"/><circle cx="176.1" cy="1170.3" r="1.8" fill="#f9b47a"/><circle cx="195.2" cy="1074.2" r="1.2" fill="#fee1bb"/><circle cx="207.6" cy="1107" r="2.4" fill="#fee1bb"/><circle cx="197.6" cy="1245.7" r="2.2" fill="#fdd7a8"/><circle cx="187.7" cy="1237.1" r="1.6" fill="#f9b47a"/><circle cx="209.7" cy="1256.4" r="2.3" fill="#fdd7a8"/><circle cx="196.5" cy="1260.5" r="2.4" fill="#f9b47a"/><circle cx="166" cy="1185.4" r="1.9" fill="#fee1bb"/><circle cx="208.6" cy="1243.5" r="2.3" fill="#f9b47a"/><circle cx="189.5" cy="1154.7" r="1.3" fill="#fbb87d"/><circle cx="173" cy="1205.1" r="1.9" fill="#fdd7a8"/><circle cx="187.9" cy="1061" r="2.2" fill="#fdd7a8"/><circle cx="197" cy="1195" r="1.9" fill="#f9b47a"/><circle cx="212.4" cy="1161.8" r="2.6" fill="#fdd7a8"/><circle cx="190.7" cy="1087.9" r="2.2" fill="#fbb87d"/><circle cx="196.9" cy="1228.2" r="1.6" fill="#f9b47a"/><circle cx="165.7" cy="1158.3" r="2.5" fill="#fee1bb"/><circle cx="198.7" cy="1232.9" r="1.4" fill="#f9b47a"/><circle cx="185" cy="1126.9" r="2.6" fill="#fdd7a8"/><circle cx="174.3" cy="1341.2" r="1.4" fill="#fdd7a8"/><circle cx="205.5" cy="1281.2" r="1.9" fill="#fdd7a8"/><circle cx="176.3" cy="1211.2" r="1.7" fill="#fdd7a8"/><circle cx="205.9" cy="1236.2" r="1.9" fill="#fee1bb"/><circle cx="192.4" cy="1124" r="2.3" fill="#fdd7a8"/><circle cx="204.2" cy="1181" r="1.6" fill="#fdd7a8"/><circle cx="177.7" cy="1150.6" r="2.2" fill="#fee1bb"/><circle cx="205.3" cy="1185" r="1.7" fill="#f9b47a"/><circle cx="181" cy="1241.3" r="1.8" fill="#fee1bb"/><circle cx="198" cy="1235.8" r="1.4" fill="#f9b47a"/><circle cx="184.3" cy="1126.8" r="2.4" fill="#fbb87d"/><circle cx="195.2" cy="1323.3" r="1.9" fill="#fdd7a8"/><circle cx="194.1" cy="1140.5" r="1.5" fill="#fbb87d"/><circle cx="174.1" cy="1051.5" r="2" fill="#fbb87d"/><circle cx="174.3" cy="1306.5" r="1.7" fill="#fee1bb"/><circle cx="210.2" cy="1077.8" r="2.1" fill="#fdd7a8"/><circle cx="213.9" cy="1252.3" r="2.1" fill="#fbb87d"/><circle cx="198.4" cy="1319.4" r="1.5" fill="#f9b47a"/><circle cx="191.5" cy="1253.9" r="2.1" fill="#fee1bb"/><circle cx="170.3" cy="1066.1" r="1.5" fill="#fee1bb"/><circle cx="189.7" cy="1073.4" r="1.9" fill="#fbb87d"/><circle cx="192" cy="1323.2" r="1.9" fill="#fdd7a8"/><circle cx="208.1" cy="1203.9" r="1.4" fill="#fbb87d"/><circle cx="199.8" cy="1132.5" r="2.1" fill="#fee1bb"/><circle cx="183.7" cy="1302" r="2.6" fill="#fee1bb"/><circle cx="174" cy="1248.4" r="2.1" fill="#f9b47a"/><circle cx="176.1" cy="1037.3" r="2.3" fill="#f9b47a"/><circle cx="183.2" cy="1058.6" r="1.2" fill="#fdd7a8"/><circle cx="196.3" cy="1262.1" r="1.3" fill="#f9b47a"/><circle cx="182.1" cy="1242.8" r="1.6" fill="#fdd7a8"/><circle cx="177.6" cy="1139.5" r="2.4" fill="#fbb87d"/><circle cx="206.4" cy="1123.5" r="1.7" fill="#fee1bb"/><circle cx="175.7" cy="1348.9" r="2.6" fill="#f9b47a"/><circle cx="204.6" cy="1241.4" r="1.5" fill="#f9b47a"/><circle cx="171.4" cy="1260.5" r="2.3" fill="#fbb87d"/><circle cx="180.6" cy="1041.1" r="2" fill="#fee1bb"/><circle cx="172.4" cy="1044.2" r="1.3" fill="#fbb87d"/><circle cx="188.8" cy="1296" r="2.3" fill="#fbb87d"/><circle cx="187.7" cy="1324.6" r="2.1" fill="#fdd7a8"/><circle cx="194.8" cy="1255" r="1.5" fill="#fbb87d"/><circle cx="187.9" cy="1245.4" r="1.3" fill="#fdd7a8"/><circle cx="166.8" cy="1087.1" r="2.5" fill="#fbb87d"/><circle cx="183.4" cy="1241.8" r="2.3" fill="#fdd7a8"/><circle cx="177.9" cy="1211.2" r="1.5" fill="#f9b47a"/><circle cx="165.4" cy="1039.2" r="1.9" fill="#fbb87d"/><circle cx="206.2" cy="1198.2" r="2" fill="#fee1bb"/><circle cx="180.3" cy="1327.5" r="2.2" fill="#fbb87d"/><circle cx="214.7" cy="1221.6" r="1.9" fill="#fdd7a8"/><circle cx="170.1" cy="1162.4" r="1.5" fill="#fee1bb"/><circle cx="165.8" cy="1077.5" r="1.2" fill="#fbb87d"/><circle cx="214.3" cy="1246.2" r="1.5" fill="#fbb87d"/><circle cx="186.7" cy="1067.6" r="2.2" fill="#f9b47a"/><circle cx="201.7" cy="1107" r="2.5" fill="#fdd7a8"/><circle cx="202.4" cy="1147.3" r="2.2" fill="#fdd7a8"/><circle cx="186.9" cy="1055.5" r="1.8" fill="#fee1bb"/><circle cx="172.5" cy="1331.9" r="2.2" fill="#fbb87d"/><circle cx="165.2" cy="1031.7" r="1.7" fill="#fbb87d"/><circle cx="195" cy="1129.9" r="2.1" fill="#fee1bb"/><circle cx="212.4" cy="1131.1" r="1.9" fill="#fee1bb"/><circle cx="213.3" cy="1082.3" r="1.7" fill="#fbb87d"/><circle cx="196.5" cy="1238.2" r="1.9" fill="#fee1bb"/><circle cx="187.6" cy="1281.7" r="2.3" fill="#f9b47a"/><circle cx="179.6" cy="1212.8" r="2.1" fill="#fbb87d"/><circle cx="205.1" cy="1240.2" r="2.4" fill="#f9b47a"/><circle cx="165.8" cy="1264.6" r="2" fill="#fdd7a8"/><circle cx="186.4" cy="1128.6" r="1.7" fill="#fdd7a8"/><circle cx="195.1" cy="1251.3" r="2.3" fill="#fdd7a8"/><circle cx="165.1" cy="1120.4" r="1.6" fill="#f9b47a"/><circle cx="211" cy="1079.3" r="1.6" fill="#fbb87d"/><circle cx="209.5" cy="1073.9" r="1.6" fill="#fdd7a8"/><circle cx="205.4" cy="1305.5" r="1.7" fill="#fee1bb"/><circle cx="184.4" cy="1055.7" r="1.5" fill="#fee1bb"/><circle cx="211.6" cy="1272.6" r="1.6" fill="#fdd7a8"/><circle cx="175.6" cy="1046.8" r="2.5" fill="#fdd7a8"/><circle cx="165.5" cy="1219.2" r="1.8" fill="#fee1bb"/><circle cx="193.9" cy="1056.6" r="1.5" fill="#fbb87d"/><circle cx="209.8" cy="1216.9" r="1.9" fill="#f9b47a"/><circle cx="174.5" cy="1220.1" r="1.3" fill="#fdd7a8"/><circle cx="179.5" cy="1290.7" r="1.8" fill="#f9b47a"/><circle cx="172.5" cy="1196.6" r="2.5" fill="#fbb87d"/><circle cx="208.3" cy="1188.8" r="2.1" fill="#f9b47a"/><circle cx="172.8" cy="1284.7" r="1.7" fill="#fbb87d"/><circle cx="166" cy="1197.3" r="1.5" fill="#fbb87d"/><circle cx="193.3" cy="1311.9" r="1.6" fill="#fdd7a8"/><circle cx="186.3" cy="1282" r="2.3" fill="#fee1bb"/><circle cx="213.2" cy="1294.9" r="2.4" fill="#f9b47a"/><circle cx="214.7" cy="1138.5" r="1.3" fill="#fee1bb"/><circle cx="178.9" cy="1044.6" r="1.9" fill="#fee1bb"/><circle cx="209.7" cy="1303.7" r="2.5" fill="#fee1bb"/><circle cx="169.5" cy="1258.3" r="2" fill="#f9b47a"/><circle cx="212.8" cy="1236.8" r="1.5" fill="#fee1bb"/><circle cx="183.5" cy="1305" r="2.6" fill="#fdd7a8"/><circle cx="166.9" cy="1100.3" r="2.5" fill="#f9b47a"/><circle cx="180.1" cy="1047.3" r="2.4" fill="#fbb87d"/><circle cx="183.6" cy="1043.3" r="1.3" fill="#fee1bb"/><circle cx="202.7" cy="1075.2" r="2.1" fill="#fdd7a8"/><circle cx="194.6" cy="1125.4" r="1.9" fill="#fbb87d"/><circle cx="184.5" cy="1149.2" r="1.9" fill="#f9b47a"/><circle cx="176.9" cy="1083" r="2.5" fill="#fdd7a8"/><circle cx="185.1" cy="1318.8" r="2.3" fill="#fdd7a8"/><circle cx="206.6" cy="1079.2" r="2.5" fill="#fbb87d"/><circle cx="209.4" cy="1310.6" r="2.3" fill="#fdd7a8"/><circle cx="184.5" cy="1340.3" r="2.4" fill="#fee1bb"/><circle cx="187.6" cy="1232.8" r="1.7" fill="#f9b47a"/><circle cx="170.8" cy="1104.2" r="1.4" fill="#f9b47a"/><circle cx="167.8" cy="1100.3" r="2" fill="#fee1bb"/><circle cx="208.5" cy="1075.2" r="1.8" fill="#f9b47a"/><circle cx="166.3" cy="1108.4" r="1.7" fill="#f9b47a"/><circle cx="189.6" cy="1082.7" r="1.8" fill="#f9b47a"/><circle cx="172.7" cy="1185.3" r="2.1" fill="#fbb87d"/><circle cx="211.3" cy="1284.8" r="2.4" fill="#fee1bb"/><circle cx="199.1" cy="1066.9" r="1.8" fill="#f9b47a"/><circle cx="176.9" cy="1113.3" r="1.3" fill="#fdd7a8"/><circle cx="209.8" cy="1122.4" r="2.4" fill="#fbb87d"/><circle cx="167" cy="1347" r="1.8" fill="#fbb87d"/><circle cx="190.5" cy="1193.5" r="1.2" fill="#fee1bb"/><circle cx="191.3" cy="1299.3" r="1.7" fill="#fdd7a8"/><circle cx="173.9" cy="1041.2" r="2" fill="#f9b47a"/><circle cx="174" cy="1073" r="2.2" fill="#fdd7a8"/><circle cx="169" cy="1092.1" r="2.4" fill="#fbb87d"/><circle cx="203.1" cy="1266.3" r="1.5" fill="#fdd7a8"/><circle cx="200.4" cy="1227.7" r="2" fill="#fdd7a8"/><circle cx="168.3" cy="1093.9" r="2.4" fill="#fee1bb"/><circle cx="183.1" cy="1326.7" r="1.7" fill="#f9b47a"/><circle cx="208.2" cy="1302.5" r="1.3" fill="#fee1bb"/><circle cx="203.1" cy="1161.5" r="2.4" fill="#fdd7a8"/><circle cx="174.3" cy="1114.8" r="1.3" fill="#f9b47a"/><circle cx="193.7" cy="1256.9" r="1.7" fill="#fbb87d"/><circle cx="193.7" cy="1331.9" r="1.4" fill="#fbb87d"/><circle cx="205.8" cy="1261" r="2.3" fill="#f9b47a"/><circle cx="193.8" cy="1311" r="1.6" fill="#fbb87d"/><circle cx="195.5" cy="1063.1" r="1.9" fill="#fee1bb"/><circle cx="191.9" cy="1200.9" r="1.5" fill="#fbb87d"/><circle cx="187.3" cy="1056.9" r="1.3" fill="#fdd7a8"/><circle cx="205.9" cy="1109.6" r="1.2" fill="#fbb87d"/><circle cx="188.4" cy="1330" r="1.2" fill="#f9b47a"/><circle cx="193.8" cy="1223.4" r="2.2" fill="#fdd7a8"/><circle cx="200.1" cy="1061.5" r="1.3" fill="#fdd7a8"/><circle cx="187.9" cy="1068.1" r="1.4" fill="#f9b47a"/><circle cx="205.6" cy="1067.6" r="2.4" fill="#fdd7a8"/><circle cx="193.6" cy="1076" r="1.4" fill="#fee1bb"/><circle cx="211.9" cy="1297.3" r="2.2" fill="#fee1bb"/><circle cx="195.1" cy="1222.6" r="1.8" fill="#fbb87d"/><circle cx="185.7" cy="1334.9" r="1.8" fill="#f9b47a"/><circle cx="200.8" cy="1301.4" r="2.3" fill="#f9b47a"/><circle cx="167.7" cy="1304.3" r="2.5" fill="#fdd7a8"/><circle cx="172.2" cy="1332.6" r="2.1" fill="#fee1bb"/><circle cx="166.4" cy="1031.8" r="1.3" fill="#fdd7a8"/><circle cx="190.2" cy="1169.2" r="1.5" fill="#fbb87d"/><circle cx="184.9" cy="1165.2" r="2.1" fill="#fee1bb"/><circle cx="209.2" cy="1291.8" r="1.2" fill="#fbb87d"/><circle cx="178.3" cy="1237.2" r="2.1" fill="#f9b47a"/><circle cx="166.8" cy="1290.9" r="1.6" fill="#fbb87d"/><circle cx="186.7" cy="1197.6" r="1.6" fill="#fbb87d"/><circle cx="197.4" cy="1127.6" r="1.3" fill="#fbb87d"/><circle cx="184" cy="1340.7" r="1.3" fill="#f9b47a"/><circle cx="211.6" cy="1220.4" r="1.4" fill="#fee1bb"/><circle cx="179.3" cy="1070.8" r="2" fill="#fee1bb"/><circle cx="201.8" cy="1117.4" r="2.4" fill="#f9b47a"/><circle cx="193.5" cy="1226.8" r="1.5" fill="#fee1bb"/><circle cx="188" cy="1259.6" r="2.1" fill="#f9b47a"/><circle cx="180.5" cy="1180.9" r="1.7" fill="#fdd7a8"/><circle cx="192.3" cy="1089.6" r="1.2" fill="#fee1bb"/><circle cx="208.1" cy="1143" r="1.7" fill="#fdd7a8"/><circle cx="178.5" cy="1134.1" r="1.6" fill="#fdd7a8"/><circle cx="172.9" cy="1279.7" r="2" fill="#fbb87d"/><circle cx="197.9" cy="1141.4" r="2.4" fill="#fee1bb"/><circle cx="203.1" cy="1143.4" r="2.6" fill="#fdd7a8"/><circle cx="211.7" cy="1248.9" r="1.7" fill="#fee1bb"/><circle cx="198.8" cy="1142.9" r="2.3" fill="#f9b47a"/><circle cx="201.9" cy="1196.8" r="1.6" fill="#fee1bb"/><circle cx="196.6" cy="1233.6" r="1.8" fill="#fdd7a8"/><circle cx="181.6" cy="1061.7" r="1.9" fill="#fbb87d"/><circle cx="176.1" cy="1341.9" r="2.4" fill="#fee1bb"/><circle cx="196.1" cy="1119.1" r="1.7" fill="#fbb87d"/><circle cx="187.9" cy="1175.4" r="1.6" fill="#f9b47a"/><circle cx="192.8" cy="1155.4" r="2.1" fill="#fee1bb"/><circle cx="173.7" cy="1030.2" r="1.7" fill="#fee1bb"/><circle cx="191.8" cy="1125.8" r="1.8" fill="#fdd7a8"/><circle cx="176.6" cy="1150.9" r="1.7" fill="#f9b47a"/><circle cx="206.9" cy="1302.9" r="1.5" fill="#f9b47a"/><circle cx="210.5" cy="1167" r="1.2" fill="#fbb87d"/><circle cx="209.8" cy="1111.6" r="2.5" fill="#f9b47a"/><circle cx="191.9" cy="1280.2" r="1.9" fill="#fee1bb"/><circle cx="199.3" cy="1196.6" r="1.8" fill="#fee1bb"/><circle cx="179.7" cy="1041.3" r="2.5" fill="#fee1bb"/><circle cx="191.3" cy="1248.5" r="1.8" fill="#fbb87d"/><circle cx="197.4" cy="1191.3" r="2.4" fill="#fdd7a8"/><circle cx="174.2" cy="1342.4" r="2.3" fill="#fee1bb"/><circle cx="188.9" cy="1321.1" r="1.4" fill="#fbb87d"/><circle cx="213.9" cy="1131.7" r="1.9" fill="#f9b47a"/><circle cx="203.1" cy="1064" r="2.3" fill="#f9b47a"/><circle cx="174.1" cy="1350.8" r="2.1" fill="#fee1bb"/><circle cx="205.8" cy="1198.8" r="1.9" fill="#fdd7a8"/><circle cx="174.1" cy="1089.3" r="1.7" fill="#fbb87d"/><circle cx="170.8" cy="1352" r="2.2" fill="#fbb87d"/><circle cx="165" cy="1031.5" r="2.5" fill="#fbb87d"/><circle cx="169.9" cy="1157.6" r="2.1" fill="#fbb87d"/><circle cx="189.9" cy="1092.1" r="2.4" fill="#f9b47a"/><circle cx="186.5" cy="1320" r="2" fill="#fdd7a8"/><circle cx="171.1" cy="1162" r="1.9" fill="#fdd7a8"/><circle cx="166.5" cy="1194.1" r="1.4" fill="#fbb87d"/><circle cx="206.2" cy="1198.3" r="2.3" fill="#fee1bb"/><circle cx="165.4" cy="1048.2" r="1.4" fill="#f9b47a"/><circle cx="178.8" cy="1105.7" r="1.6" fill="#fbb87d"/><circle cx="200.5" cy="1060.4" r="1.7" fill="#fbb87d"/><circle cx="184.3" cy="1174.6" r="1.5" fill="#fbb87d"/><circle cx="203.2" cy="1157.1" r="1.8" fill="#fbb87d"/><circle cx="177.5" cy="1230.2" r="1.4" fill="#fbb87d"/><circle cx="173.7" cy="1219.4" r="2.5" fill="#fbb87d"/><circle cx="180.2" cy="1294" r="2.5" fill="#f9b47a"/><circle cx="212.5" cy="1189.5" r="2.1" fill="#fdd7a8"/><circle cx="194.2" cy="1248" r="1.6" fill="#fee1bb"/><circle cx="188.6" cy="1313.4" r="1.3" fill="#fdd7a8"/><circle cx="184" cy="1083.4" r="2.6" fill="#fbb87d"/><circle cx="193.1" cy="1122.8" r="1.7" fill="#fbb87d"/><circle cx="181.8" cy="1312.1" r="2.5" fill="#fbb87d"/><circle cx="210.6" cy="1165.7" r="1.7" fill="#fdd7a8"/><circle cx="182.2" cy="1180.2" r="1.2" fill="#fee1bb"/><circle cx="182.1" cy="1244.6" r="1.5" fill="#fdd7a8"/><circle cx="174.5" cy="1070.3" r="2" fill="#fdd7a8"/><circle cx="204.7" cy="1180.3" r="1.4" fill="#fdd7a8"/><circle cx="201.1" cy="1143.1" r="2.1" fill="#fee1bb"/><circle cx="179.9" cy="1217.3" r="1.9" fill="#fee1bb"/><circle cx="187.6" cy="1102.1" r="2.5" fill="#fdd7a8"/><circle cx="169.6" cy="1353.3" r="2" fill="#fee1bb"/><circle cx="177.3" cy="1148" r="1.4" fill="#fdd7a8"/><circle cx="198.9" cy="1272.7" r="2" fill="#fbb87d"/><circle cx="203.6" cy="1116.2" r="1.2" fill="#fee1bb"/><circle cx="172.3" cy="1262.1" r="1.7" fill="#fbb87d"/><circle cx="171.3" cy="1056" r="1.6" fill="#fdd7a8"/><circle cx="170.4" cy="1244.1" r="2.3" fill="#f9b47a"/><circle cx="174.6" cy="1275.3" r="1.3" fill="#f9b47a"/><circle cx="205.8" cy="1122.1" r="1.6" fill="#fee1bb"/><circle cx="210.4" cy="1159.5" r="2.5" fill="#fdd7a8"/><circle cx="183.3" cy="1085.5" r="2.5" fill="#f9b47a"/><circle cx="177.1" cy="1036.2" r="1.5" fill="#fee1bb"/><circle cx="182.6" cy="1304" r="1.5" fill="#fbb87d"/><circle cx="205.2" cy="1065.6" r="2.2" fill="#fdd7a8"/><circle cx="165.9" cy="1041.2" r="1.8" fill="#fdd7a8"/><circle cx="172.8" cy="1274.8" r="2" fill="#fbb87d"/><circle cx="212.1" cy="1233.2" r="2" fill="#fdd7a8"/><circle cx="177.7" cy="1261.6" r="2.1" fill="#fee1bb"/><circle cx="211.8" cy="1215.5" r="2.4" fill="#fbb87d"/><circle cx="179.3" cy="1281.1" r="2.4" fill="#fbb87d"/><circle cx="199.8" cy="1218.8" r="2.2" fill="#fdd7a8"/><circle cx="171.6" cy="1040.1" r="2.2" fill="#f9b47a"/><circle cx="189.6" cy="1056.1" r="2.6" fill="#fee1bb"/><circle cx="176" cy="1228.6" r="1.7" fill="#fbb87d"/><circle cx="175.5" cy="1337.6" r="2.2" fill="#f9b47a"/><circle cx="206.5" cy="1268.8" r="1.9" fill="#fee1bb"/><circle cx="175.3" cy="1248.6" r="1.9" fill="#fdd7a8"/><circle cx="212.6" cy="1089.7" r="1.4" fill="#f9b47a"/><circle cx="204" cy="1081.4" r="2" fill="#fdd7a8"/><circle cx="168" cy="1109.4" r="1.7" fill="#f9b47a"/><circle cx="188.7" cy="1058.2" r="1.4" fill="#fdd7a8"/><circle cx="198.5" cy="1258.5" r="2.2" fill="#fdd7a8"/><circle cx="172.9" cy="1029.9" r="2.5" fill="#fdd7a8"/><circle cx="180" cy="1142.6" r="2" fill="#fdd7a8"/><circle cx="196.5" cy="1106.5" r="2" fill="#fbb87d"/><circle cx="173.5" cy="1275.9" r="2" fill="#fdd7a8"/><circle cx="203.3" cy="1178.3" r="1.4" fill="#fdd7a8"/><circle cx="183" cy="1122.3" r="1.3" fill="#fdd7a8"/><circle cx="177.7" cy="1320" r="2.2" fill="#fbb87d"/><circle cx="170.6" cy="1174.1" r="1.8" fill="#f9b47a"/><circle cx="179.5" cy="1213.6" r="1.3" fill="#fbb87d"/><circle cx="214" cy="1180.7" r="1.3" fill="#fee1bb"/><circle cx="214" cy="1261.8" r="1.4" fill="#f9b47a"/><circle cx="186.7" cy="1187.4" r="2.3" fill="#fdd7a8"/><circle cx="183" cy="1132.9" r="2.1" fill="#fbb87d"/><circle cx="211.8" cy="1232.6" r="2.1" fill="#f9b47a"/><circle cx="189.6" cy="1053.5" r="2.3" fill="#fbb87d"/><circle cx="179.8" cy="1301.7" r="2.5" fill="#fdd7a8"/><circle cx="209.8" cy="1199.3" r="1.3" fill="#fdd7a8"/><circle cx="180.5" cy="1262.3" r="1.7" fill="#f9b47a"/><circle cx="182.8" cy="1239" r="1.7" fill="#fdd7a8"/><circle cx="183.5" cy="1207.7" r="1.5" fill="#f9b47a"/><circle cx="177.5" cy="1041.4" r="2.5" fill="#fee1bb"/><circle cx="177.6" cy="1336" r="2.2" fill="#fee1bb"/><circle cx="170.1" cy="1352.6" r="1.4" fill="#fbb87d"/><circle cx="171.9" cy="1102.2" r="1.3" fill="#fee1bb"/><circle cx="174.5" cy="1041" r="1.5" fill="#fdd7a8"/><circle cx="166.6" cy="1149.4" r="1.4" fill="#fee1bb"/><circle cx="166.7" cy="1051.5" r="2.4" fill="#fee1bb"/><circle cx="165.2" cy="1048.4" r="2.5" fill="#fdd7a8"/><circle cx="179.8" cy="1081.6" r="2.3" fill="#fee1bb"/><circle cx="193.4" cy="1248.1" r="1.3" fill="#fee1bb"/><circle cx="188" cy="1133.5" r="2.6" fill="#fdd7a8"/><circle cx="177.2" cy="1341.6" r="2.2" fill="#fbb87d"/><circle cx="197.9" cy="1136.1" r="2.5" fill="#fee1bb"/><circle cx="197.4" cy="1184.7" r="2.4" fill="#f9b47a"/><circle cx="196.7" cy="1200.9" r="1.5" fill="#fdd7a8"/><circle cx="199.6" cy="1269.1" r="2.1" fill="#fdd7a8"/><circle cx="194" cy="1149.3" r="1.7" fill="#fee1bb"/><circle cx="187.1" cy="1106.3" r="1.4" fill="#f9b47a"/><circle cx="209.5" cy="1086.8" r="1.5" fill="#fbb87d"/><circle cx="197.5" cy="1301" r="1.9" fill="#fdd7a8"/><circle cx="189.5" cy="1110" r="1.5" fill="#fee1bb"/><circle cx="170.7" cy="1214.7" r="2.4" fill="#fbb87d"/><circle cx="205" cy="1249.5" r="2.4" fill="#fdd7a8"/><circle cx="200.7" cy="1207.5" r="2.1" fill="#fbb87d"/><circle cx="175.4" cy="1341.1" r="2.4" fill="#fee1bb"/><circle cx="173.6" cy="1155.8" r="2" fill="#fdd7a8"/><circle cx="171.8" cy="1280.6" r="1.8" fill="#fbb87d"/><circle cx="166" cy="1043.4" r="1.8" fill="#fdd7a8"/><circle cx="171.2" cy="1067.3" r="2.1" fill="#fbb87d"/><circle cx="193.1" cy="1312.3" r="1.4" fill="#f9b47a"/><circle cx="182.1" cy="1271" r="2.4" fill="#fbb87d"/><circle cx="182.3" cy="1068" r="2.2" fill="#f9b47a"/><circle cx="178.7" cy="1042.2" r="1.7" fill="#fbb87d"/><circle cx="195.2" cy="1134.7" r="2.5" fill="#fbb87d"/><circle cx="177.7" cy="1248.1" r="2.2" fill="#fdd7a8"/><circle cx="180.8" cy="1034.9" r="1.4" fill="#fee1bb"/><circle cx="166.8" cy="1034.8" r="1.5" fill="#f9b47a"/><circle cx="179.5" cy="1208.7" r="2.4" fill="#fee1bb"/><circle cx="177.5" cy="1219.8" r="2.5" fill="#f9b47a"/><circle cx="169.7" cy="1032.5" r="1.9" fill="#fdd7a8"/><circle cx="166.6" cy="1185.8" r="1.3" fill="#fbb87d"/><circle cx="197.2" cy="1230.3" r="2.4" fill="#fee1bb"/><circle cx="177.4" cy="1343.4" r="1.8" fill="#fee1bb"/><circle cx="195.5" cy="1312.6" r="1.7" fill="#fbb87d"/><circle cx="180.6" cy="1200.2" r="2" fill="#fdd7a8"/><circle cx="168.8" cy="1042.2" r="2.2" fill="#f9b47a"/><circle cx="188.4" cy="1136" r="1.6" fill="#f9b47a"/><circle cx="189.2" cy="1137.4" r="1.2" fill="#fdd7a8"/><circle cx="214.3" cy="1177.8" r="2.1" fill="#fbb87d"/><circle cx="172.2" cy="1265" r="1.6" fill="#fee1bb"/><circle cx="178.1" cy="1191" r="2.6" fill="#fdd7a8"/><circle cx="176.1" cy="1039.1" r="2.4" fill="#fbb87d"/><circle cx="196.7" cy="1280.4" r="1.7" fill="#fbb87d"/><circle cx="204.8" cy="1119.8" r="2.2" fill="#fdd7a8"/><circle cx="203.2" cy="1127.1" r="1.9" fill="#f9b47a"/><circle cx="182.5" cy="1235.1" r="1.7" fill="#fee1bb"/><circle cx="198.6" cy="1257.6" r="1.9" fill="#fee1bb"/><circle cx="199.3" cy="1319.5" r="1.4" fill="#f9b47a"/><circle cx="209.4" cy="1094.9" r="1.8" fill="#fee1bb"/><circle cx="203.6" cy="1157.1" r="2" fill="#fdd7a8"/><circle cx="201" cy="1074.9" r="2.2" fill="#f9b47a"/><circle cx="211.9" cy="1207.7" r="1.3" fill="#f9b47a"/><circle cx="211.2" cy="1090" r="1.6" fill="#fdd7a8"/><circle cx="188.4" cy="1143.2" r="2.2" fill="#fee1bb"/><circle cx="192.7" cy="1328.6" r="2.5" fill="#f9b47a"/><circle cx="177.9" cy="1117.9" r="2.3" fill="#fbb87d"/><circle cx="176.8" cy="1232.2" r="1.5" fill="#fbb87d"/><circle cx="175" cy="1158.3" r="2.4" fill="#f9b47a"/><circle cx="174.8" cy="1239.3" r="2.5" fill="#fbb87d"/><circle cx="169" cy="1223.9" r="2.2" fill="#f9b47a"/><circle cx="168" cy="1029.6" r="2.1" fill="#fbb87d"/><circle cx="172" cy="1328.9" r="2.4" fill="#f9b47a"/><circle cx="173.6" cy="1036.8" r="1.4" fill="#f9b47a"/><circle cx="204.8" cy="1309.4" r="2.1" fill="#fbb87d"/><circle cx="189.7" cy="1137.1" r="1.6" fill="#fee1bb"/><circle cx="165.7" cy="1179.1" r="2" fill="#f9b47a"/><circle cx="165.6" cy="1349.9" r="1.4" fill="#f9b47a"/><circle cx="168.2" cy="1034.1" r="1.7" fill="#fbb87d"/><circle cx="182.2" cy="1145.9" r="2.1" fill="#fdd7a8"/><circle cx="181.5" cy="1224.1" r="2.3" fill="#f9b47a"/><circle cx="166.6" cy="1183.7" r="2.1" fill="#f9b47a"/><circle cx="200.3" cy="1207.1" r="1.7" fill="#f9b47a"/><circle cx="178.7" cy="1200.7" r="1.2" fill="#f9b47a"/><circle cx="197.8" cy="1183.1" r="1.4" fill="#f9b47a"/><circle cx="185" cy="1233" r="2.5" fill="#fbb87d"/><circle cx="171.1" cy="1231.6" r="2" fill="#fdd7a8"/><circle cx="212" cy="1087.3" r="2.2" fill="#f9b47a"/><circle cx="199.3" cy="1322.3" r="1.9" fill="#fdd7a8"/><circle cx="200.5" cy="1142.4" r="2.6" fill="#fee1bb"/><circle cx="196.8" cy="1190.7" r="2.5" fill="#f9b47a"/><circle cx="175.6" cy="1154.8" r="1.4" fill="#fbb87d"/><circle cx="168.3" cy="1267.1" r="2.1" fill="#fee1bb"/><circle cx="176.4" cy="1142.3" r="1.8" fill="#fee1bb"/><circle cx="197.1" cy="1327.6" r="1.2" fill="#fdd7a8"/><circle cx="176.2" cy="1034.8" r="1.5" fill="#fdd7a8"/><circle cx="203" cy="1094.2" r="1.6" fill="#f9b47a"/><circle cx="166.9" cy="1352.1" r="1.9" fill="#fdd7a8"/><circle cx="187.4" cy="1332.4" r="2.4" fill="#fdd7a8"/><circle cx="181.6" cy="1120.1" r="2.4" fill="#fee1bb"/><circle cx="181" cy="1109.4" r="1.5" fill="#fee1bb"/><circle cx="184.7" cy="1045" r="1.3" fill="#f9b47a"/><circle cx="187" cy="1280.3" r="2.4" fill="#fee1bb"/><circle cx="167.6" cy="1352.3" r="2.3" fill="#fbb87d"/><circle cx="210.6" cy="1077.5" r="2.5" fill="#fdd7a8"/><circle cx="201.8" cy="1077.2" r="2.3" fill="#fbb87d"/><circle cx="184.9" cy="1179.4" r="1.7" fill="#fee1bb"/><circle cx="189.5" cy="1327.4" r="2.6" fill="#f9b47a"/><circle cx="169.6" cy="1038.7" r="1.3" fill="#fbb87d"/><circle cx="176.6" cy="1192.6" r="2.2" fill="#fee1bb"/><circle cx="167.4" cy="1265.5" r="1.3" fill="#f9b47a"/><circle cx="205.7" cy="1064" r="1.9" fill="#fdd7a8"/><circle cx="167.3" cy="1028.8" r="2.1" fill="#fdd7a8"/><circle cx="214.7" cy="1205.8" r="2.4" fill="#f9b47a"/><circle cx="166.6" cy="1340.1" r="2.4" fill="#fdd7a8"/><circle cx="168.7" cy="1344.9" r="1.6" fill="#fbb87d"/><circle cx="178.2" cy="1085.8" r="2.6" fill="#fbb87d"/><circle cx="167.4" cy="1092" r="1.6" fill="#f9b47a"/><circle cx="167.1" cy="1134.2" r="2" fill="#fee1bb"/><circle cx="199.5" cy="1206.9" r="1.8" fill="#f9b47a"/><circle cx="186" cy="1131.8" r="1.7" fill="#fdd7a8"/><circle cx="185.5" cy="1153.6" r="2.5" fill="#fdd7a8"/><circle cx="177" cy="1235" r="2.2" fill="#f9b47a"/><circle cx="214.6" cy="1266" r="2.1" fill="#fdd7a8"/><circle cx="187.1" cy="1056.3" r="2.5" fill="#fbb87d"/><circle cx="182" cy="1044.1" r="2.2" fill="#f9b47a"/><circle cx="198.4" cy="1172.2" r="2.6" fill="#fee1bb"/><circle cx="172.4" cy="1028.3" r="1.9" fill="#fee1bb"/><circle cx="214.7" cy="1221.1" r="2.4" fill="#fdd7a8"/><circle cx="208.5" cy="1286" r="2.2" fill="#f9b47a"/><circle cx="191.3" cy="1156.3" r="1.3" fill="#f9b47a"/><circle cx="198.2" cy="1287.9" r="1.6" fill="#f9b47a"/><circle cx="207.9" cy="1302.2" r="1.9" fill="#f9b47a"/><circle cx="176.1" cy="1183.4" r="1.3" fill="#fdd7a8"/><circle cx="183.2" cy="1274.9" r="1.9" fill="#fdd7a8"/><circle cx="176.9" cy="1293.2" r="1.4" fill="#fdd7a8"/><circle cx="173.9" cy="1243.8" r="1.7" fill="#fbb87d"/><circle cx="208.2" cy="1145.9" r="1.4" fill="#fee1bb"/><circle cx="177.6" cy="1078.2" r="1.7" fill="#fbb87d"/><circle cx="191.1" cy="1244.1" r="1.8" fill="#f9b47a"/><circle cx="179.2" cy="1056.7" r="2.2" fill="#fee1bb"/><circle cx="188.9" cy="1174.5" r="2.3" fill="#fdd7a8"/><circle cx="199" cy="1076.9" r="1.9" fill="#f9b47a"/><circle cx="196.1" cy="1243.2" r="2.3" fill="#f9b47a"/><circle cx="192.8" cy="1110.4" r="2" fill="#fbb87d"/><circle cx="169.8" cy="1046.8" r="2.5" fill="#f9b47a"/><circle cx="178.3" cy="1111.3" r="1.3" fill="#fee1bb"/><circle cx="207.9" cy="1235.4" r="1.4" fill="#fdd7a8"/><circle cx="171.1" cy="1340.4" r="2.5" fill="#f9b47a"/><circle cx="183.8" cy="1261.9" r="2.2" fill="#fbb87d"/><circle cx="185.4" cy="1124.3" r="1.7" fill="#f9b47a"/><circle cx="193.9" cy="1153.6" r="2.6" fill="#fdd7a8"/><circle cx="194" cy="1305.7" r="2.1" fill="#fbb87d"/><circle cx="168.5" cy="1135.4" r="1.7" fill="#fee1bb"/><circle cx="189.8" cy="1199.4" r="1.4" fill="#fbb87d"/><circle cx="211.8" cy="1211.7" r="1.8" fill="#fee1bb"/><circle cx="209.5" cy="1182.4" r="1.8" fill="#fee1bb"/><circle cx="202.6" cy="1072.1" r="2.1" fill="#fbb87d"/><circle cx="185.1" cy="1269.4" r="2.5" fill="#fbb87d"/><circle cx="181.5" cy="1123.8" r="2.3" fill="#fee1bb"/><circle cx="174.9" cy="1066.5" r="2" fill="#fbb87d"/><circle cx="172.1" cy="1033" r="2" fill="#fdd7a8"/><circle cx="182.7" cy="1045.9" r="1.9" fill="#f9b47a"/><circle cx="183" cy="1045.9" r="2.4" fill="#fee1bb"/><circle cx="185.3" cy="1073.7" r="2.4" fill="#fbb87d"/><circle cx="181.7" cy="1075.4" r="1.5" fill="#fbb87d"/><circle cx="191" cy="1203.7" r="1.6" fill="#fbb87d"/><circle cx="207.9" cy="1111.1" r="1.9" fill="#fee1bb"/><circle cx="167.6" cy="1165" r="1.5" fill="#f9b47a"/><circle cx="186.8" cy="1152" r="1.6" fill="#f9b47a"/><circle cx="175.2" cy="1071" r="2.5" fill="#f9b47a"/><circle cx="200.5" cy="1242" r="1.7" fill="#fdd7a8"/><circle cx="175" cy="1289.3" r="2.2" fill="#fbb87d"/><circle cx="165.8" cy="1030.8" r="1.2" fill="#f9b47a"/><circle cx="187" cy="1099.6" r="2.2" fill="#fdd7a8"/><circle cx="194.6" cy="1289.6" r="1.8" fill="#fee1bb"/><circle cx="175.2" cy="1265.3" r="1.3" fill="#fdd7a8"/><circle cx="197" cy="1169.4" r="1.4" fill="#fbb87d"/><circle cx="203.3" cy="1314.9" r="1.5" fill="#fee1bb"/><circle cx="183.5" cy="1328.7" r="1.9" fill="#fdd7a8"/><circle cx="198.7" cy="1247.7" r="2.3" fill="#f9b47a"/><circle cx="172.9" cy="1202.2" r="1.9" fill="#fdd7a8"/><circle cx="175.1" cy="1179.8" r="2.5" fill="#fbb87d"/><circle cx="197.9" cy="1163.2" r="2.2" fill="#f9b47a"/><circle cx="186.2" cy="1172.2" r="2.5" fill="#fbb87d"/><circle cx="173" cy="1071.5" r="1.6" fill="#fee1bb"/><circle cx="194.1" cy="1103.8" r="2.2" fill="#f9b47a"/><circle cx="180.5" cy="1262.5" r="1.7" fill="#f9b47a"/><circle cx="172.6" cy="1302.3" r="1.7" fill="#fdd7a8"/><circle cx="172.4" cy="1038.7" r="1.5" fill="#f9b47a"/><circle cx="169.7" cy="1205.9" r="1.4" fill="#fee1bb"/><circle cx="181.7" cy="1088" r="1.4" fill="#fee1bb"/><circle cx="171.1" cy="1298.1" r="2.6" fill="#fdd7a8"/><circle cx="179.3" cy="1334.3" r="1.9" fill="#f9b47a"/><circle cx="176.7" cy="1033.8" r="1.5" fill="#fbb87d"/><circle cx="180.1" cy="1119.3" r="1.5" fill="#fbb87d"/><circle cx="203.4" cy="1181.4" r="2" fill="#fdd7a8"/><circle cx="194" cy="1125.8" r="2.6" fill="#fbb87d"/><circle cx="212.2" cy="1140.2" r="1.3" fill="#f9b47a"/><circle cx="187.5" cy="1136.6" r="1.7" fill="#fdd7a8"/><circle cx="170.5" cy="1146.7" r="2.3" fill="#f9b47a"/><circle cx="187.7" cy="1263.9" r="2.3" fill="#fbb87d"/><circle cx="188.1" cy="1222.2" r="1.3" fill="#fbb87d"/><circle cx="185.7" cy="1216.8" r="1.8" fill="#fdd7a8"/><circle cx="168.8" cy="1300.9" r="1.7" fill="#fdd7a8"/><circle cx="169.5" cy="1244.1" r="2.4" fill="#fbb87d"/><circle cx="189" cy="1312.7" r="1.6" fill="#fdd7a8"/><circle cx="174.9" cy="1062.7" r="1.9" fill="#fdd7a8"/><circle cx="170.9" cy="1202.7" r="1.5" fill="#fee1bb"/><circle cx="167.1" cy="1213.3" r="1.7" fill="#f9b47a"/><circle cx="185.2" cy="1092.5" r="2.6" fill="#fdd7a8"/><circle cx="192.3" cy="1324.1" r="2.4" fill="#fdd7a8"/><circle cx="178.4" cy="1032.9" r="2.3" fill="#fee1bb"/><circle cx="175.5" cy="1256.7" r="1.3" fill="#fdd7a8"/><circle cx="207.1" cy="1083.8" r="1.8" fill="#fbb87d"/><circle cx="170.5" cy="1231.5" r="1.3" fill="#fbb87d"/><circle cx="176.7" cy="1216.6" r="2.3" fill="#fbb87d"/><circle cx="175.6" cy="1051.8" r="1.3" fill="#fbb87d"/><circle cx="199.6" cy="1229.5" r="1.7" fill="#f9b47a"/><circle cx="188.1" cy="1292.2" r="1.2" fill="#fdd7a8"/><circle cx="176.1" cy="1334.5" r="1.2" fill="#fee1bb"/><circle cx="172.4" cy="1285.1" r="1.4" fill="#fdd7a8"/><circle cx="172" cy="1140.2" r="2.5" fill="#fdd7a8"/><circle cx="200.4" cy="1251.6" r="2.6" fill="#fbb87d"/><circle cx="189" cy="1286.1" r="1.9" fill="#fee1bb"/><circle cx="168.5" cy="1135.6" r="1.5" fill="#fbb87d"/><circle cx="207.3" cy="1231.8" r="1.3" fill="#fee1bb"/><circle cx="182.5" cy="1261.9" r="2.3" fill="#fdd7a8"/><circle cx="203.6" cy="1188.6" r="1.4" fill="#fee1bb"/><circle cx="211.9" cy="1298.1" r="2.2" fill="#fbb87d"/><circle cx="205.1" cy="1299.4" r="1.8" fill="#fdd7a8"/><circle cx="204.2" cy="1297" r="2.2" fill="#f9b47a"/><circle cx="197.8" cy="1221.5" r="1.3" fill="#fbb87d"/><circle cx="205.1" cy="1283.3" r="1.5" fill="#fdd7a8"/><circle cx="193.1" cy="1219.6" r="2" fill="#fee1bb"/><circle cx="191.1" cy="1332.2" r="1.7" fill="#fbb87d"/><circle cx="204.7" cy="1283.5" r="2.4" fill="#f9b47a"/><circle cx="169.4" cy="1160.4" r="2.1" fill="#f9b47a"/><circle cx="181.6" cy="1322.7" r="1.2" fill="#f9b47a"/><circle cx="165.8" cy="1187.4" r="2.4" fill="#fbb87d"/><circle cx="185.5" cy="1183" r="1.8" fill="#f9b47a"/><circle cx="175.7" cy="1137.3" r="1.8" fill="#f9b47a"/><circle cx="166.6" cy="1179.9" r="1.3" fill="#f9b47a"/><circle cx="200.1" cy="1116.3" r="1.8" fill="#fee1bb"/><circle cx="177.1" cy="1203.4" r="2.2" fill="#fdd7a8"/><circle cx="183.1" cy="1041.5" r="1.7" fill="#fdd7a8"/><circle cx="172.5" cy="1136.4" r="1.5" fill="#fdd7a8"/><circle cx="191.7" cy="1318.1" r="1.6" fill="#fee1bb"/><circle cx="208.8" cy="1131.8" r="2.4" fill="#fdd7a8"/><circle cx="171.9" cy="1343.7" r="1.2" fill="#fbb87d"/><circle cx="212.3" cy="1085.2" r="2" fill="#fee1bb"/><circle cx="201.8" cy="1242.2" r="2.6" fill="#fbb87d"/><circle cx="202.7" cy="1267.5" r="1.4" fill="#fee1bb"/><circle cx="177.7" cy="1273.6" r="1.3" fill="#fee1bb"/><circle cx="187.2" cy="1231.4" r="1.7" fill="#f9b47a"/><circle cx="196.6" cy="1243.5" r="2.5" fill="#fee1bb"/><circle cx="168" cy="1291.6" r="1.9" fill="#fee1bb"/><circle cx="165.9" cy="1253.5" r="2" fill="#fbb87d"/><circle cx="202.6" cy="1174" r="2.2" fill="#fdd7a8"/><circle cx="166.8" cy="1272.4" r="1.9" fill="#f9b47a"/><circle cx="176" cy="1030.3" r="1.4" fill="#f9b47a"/><circle cx="193.8" cy="1219.5" r="2.6" fill="#fbb87d"/><circle cx="194.5" cy="1084.6" r="2.1" fill="#f9b47a"/><circle cx="203.6" cy="1106.8" r="1.8" fill="#fbb87d"/><circle cx="174.3" cy="1346.9" r="1.9" fill="#fee1bb"/><circle cx="170.6" cy="1345.7" r="1.7" fill="#f9b47a"/><circle cx="189.8" cy="1299.7" r="2.3" fill="#fbb87d"/><circle cx="172" cy="1141.2" r="1.4" fill="#fbb87d"/><circle cx="173.5" cy="1268.7" r="2.5" fill="#f9b47a"/><circle cx="213.6" cy="1219.5" r="2.5" fill="#f9b47a"/><circle cx="180.5" cy="1089" r="1.5" fill="#fee1bb"/><circle cx="186.9" cy="1132.6" r="2.2" fill="#fbb87d"/><circle cx="181" cy="1145.9" r="1.6" fill="#fee1bb"/><circle cx="210.4" cy="1094.5" r="1.9" fill="#fee1bb"/><circle cx="173" cy="1161.1" r="1.3" fill="#f9b47a"/><circle cx="191.8" cy="1118.9" r="2.3" fill="#fee1bb"/><circle cx="183.1" cy="1117.8" r="1.9" fill="#fee1bb"/><circle cx="196.5" cy="1122" r="1.8" fill="#f9b47a"/><circle cx="172" cy="1031.8" r="1.7" fill="#f9b47a"/><circle cx="172.2" cy="1334.4" r="2.4" fill="#fdd7a8"/><circle cx="169.7" cy="1313.4" r="2.4" fill="#fee1bb"/><circle cx="211.5" cy="1260" r="2.1" fill="#fdd7a8"/><circle cx="176.4" cy="1343.3" r="2.3" fill="#fbb87d"/><circle cx="212" cy="1156.6" r="1.8" fill="#f9b47a"/><circle cx="181.8" cy="1190.9" r="2.2" fill="#fdd7a8"/><circle cx="201.8" cy="1074.8" r="2.1" fill="#fee1bb"/><circle cx="170.3" cy="1321.9" r="2.2" fill="#f9b47a"/><circle cx="167.2" cy="1329.4" r="2.4" fill="#fbb87d"/><circle cx="193.9" cy="1245.7" r="1.5" fill="#fee1bb"/><circle cx="204.3" cy="1265.6" r="1.4" fill="#fdd7a8"/><circle cx="202.7" cy="1246.9" r="2.5" fill="#fbb87d"/><circle cx="195.3" cy="1321" r="2.4" fill="#fee1bb"/><circle cx="199.4" cy="1070.8" r="2.1" fill="#fee1bb"/><circle cx="168.4" cy="1117.7" r="2.1" fill="#f9b47a"/><circle cx="177.1" cy="1322.7" r="2.1" fill="#f9b47a"/><circle cx="177.4" cy="1345.8" r="1.2" fill="#f9b47a"/><circle cx="171.1" cy="1196.6" r="1.5" fill="#f9b47a"/><circle cx="203.2" cy="1177.2" r="1.6" fill="#fee1bb"/><circle cx="177.2" cy="1047.3" r="1.3" fill="#fbb87d"/><circle cx="170.5" cy="1297.7" r="1.6" fill="#fdd7a8"/><circle cx="192.3" cy="1333.2" r="1.5" fill="#fdd7a8"/><circle cx="175.4" cy="1286.7" r="1.5" fill="#fbb87d"/><circle cx="205.5" cy="1084.4" r="1.8" fill="#f9b47a"/><circle cx="182.9" cy="1048.6" r="2" fill="#fbb87d"/><circle cx="190.6" cy="1158.4" r="1.5" fill="#fee1bb"/><circle cx="214.8" cy="1310.9" r="2.5" fill="#f9b47a"/><circle cx="214.3" cy="1135.4" r="2.1" fill="#fbb87d"/><circle cx="186.6" cy="1215.6" r="1.5" fill="#fee1bb"/><circle cx="170.6" cy="1228.7" r="1.6" fill="#fdd7a8"/><circle cx="201.8" cy="1091.3" r="1.8" fill="#fbb87d"/><circle cx="200.2" cy="1092.5" r="2.3" fill="#fdd7a8"/><circle cx="202.8" cy="1093.6" r="2.2" fill="#f9b47a"/><circle cx="187.3" cy="1337.1" r="1.3" fill="#fbb87d"/><circle cx="165.7" cy="1095" r="2" fill="#f9b47a"/><circle cx="193.3" cy="1232.6" r="2.6" fill="#f9b47a"/><circle cx="167.2" cy="1127.7" r="2.2" fill="#fdd7a8"/><circle cx="166.5" cy="1165.3" r="2.3" fill="#fee1bb"/><circle cx="207.9" cy="1139.8" r="2.3" fill="#f9b47a"/><circle cx="214.5" cy="1181.6" r="2.3" fill="#f9b47a"/><circle cx="206.1" cy="1183.3" r="2.4" fill="#fdd7a8"/><circle cx="177.6" cy="1200.2" r="1.5" fill="#fee1bb"/><circle cx="166.1" cy="1110.1" r="2.2" fill="#fdd7a8"/><circle cx="189.8" cy="1336.2" r="2.3" fill="#fee1bb"/><circle cx="173" cy="1264.6" r="1.4" fill="#fee1bb"/><circle cx="167.9" cy="1032.2" r="1.2" fill="#fee1bb"/><circle cx="213.7" cy="1293.1" r="1.8" fill="#fbb87d"/><circle cx="185.1" cy="1042.1" r="2.4" fill="#fbb87d"/><circle cx="193" cy="1138.3" r="1.9" fill="#fee1bb"/><circle cx="175.3" cy="1236.5" r="1.5" fill="#fdd7a8"/><circle cx="209" cy="1143.6" r="2" fill="#fbb87d"/><circle cx="174.5" cy="1069.2" r="2" fill="#fee1bb"/><circle cx="188" cy="1328.1" r="2.3" fill="#fee1bb"/><circle cx="201" cy="1213.9" r="1.4" fill="#fee1bb"/><circle cx="208.1" cy="1240.5" r="2.2" fill="#fdd7a8"/><circle cx="209" cy="1181.1" r="1.4" fill="#fdd7a8"/><circle cx="184.1" cy="1190.3" r="2.3" fill="#fdd7a8"/><circle cx="165.2" cy="1317.9" r="2.1" fill="#fdd7a8"/><circle cx="166.9" cy="1269.8" r="2.5" fill="#fbb87d"/><circle cx="165" cy="1093.2" r="1.3" fill="#fee1bb"/><circle cx="211.5" cy="1106.4" r="2.3" fill="#fdd7a8"/><circle cx="177.7" cy="1042.4" r="1.6" fill="#fee1bb"/><circle cx="165.9" cy="1078" r="2.3" fill="#fbb87d"/><circle cx="169.5" cy="1315.6" r="2.3" fill="#fdd7a8"/><circle cx="190.6" cy="1081.1" r="1.9" fill="#fbb87d"/><circle cx="173.2" cy="1339.9" r="1.3" fill="#fbb87d"/><circle cx="177" cy="1037.7" r="1.9" fill="#fbb87d"/><circle cx="194.7" cy="1230.1" r="2.2" fill="#fbb87d"/><polygon points="720,1029 716.8,1037.1 713.8,1045.2 710.9,1053.3 708.2,1061.4 705.6,1069.5 703.2,1077.6 701,1085.7 698.9,1093.8 697,1101.9 695.2,1110 693.6,1118.1 692.2,1126.2 690.9,1134.3 689.8,1142.4 688.8,1150.5 688,1158.6 687.4,1166.7 686.9,1174.8 686.6,1182.9 686.4,1191 686.4,1199.1 686.6,1207.2 686.9,1215.3 687.3,1223.4 688,1231.5 688.8,1239.6 689.7,1247.7 690.8,1255.8 692.1,1263.9 693.5,1272 695.1,1280.1 696.8,1288.2 698.7,1296.3 700.8,1304.4 703,1312.5 705.4,1320.6 707.9,1328.7 710.6,1336.8 713.5,1344.9 716.5,1353 733.6,1350 736.7,1342.1 740.1,1334.2 743.8,1326.3 746,1318.4 744,1310.5 742.2,1302.6 740.5,1294.7 738.9,1286.8 737.5,1278.9 736.2,1271 735,1263.1 734,1255.2 733.1,1247.3 732.3,1239.4 731.7,1231.5 731.2,1223.6 730.8,1215.7 730.5,1207.8 730.4,1199.9 730.4,1192 730.5,1184.1 730.8,1176.2 731.2,1168.3 731.7,1160.4 732.4,1152.5 733.1,1144.6 734,1136.7 735.1,1128.8 736.2,1120.9 737.5,1113 739,1105.1 740.6,1097.2 742.3,1089.3 744.1,1081.4 746.1,1073.5 746.5,1065.6 742.9,1057.7 739.5,1049.8 736.4,1041.9 733.6,1034" fill="#f6c699"/><circle cx="718.4" cy="1242.4" r="1.7" fill="#3f66cf" opacity="0.85"/><circle cx="716.3" cy="1245.3" r="1.4" fill="#3f66cf" opacity="0.85"/><circle cx="722.8" cy="1094.5" r="2.1" fill="#3f66cf" opacity="0.85"/><circle cx="730" cy="1101.1" r="2" fill="#3f66cf" opacity="0.85"/><circle cx="735.2" cy="1245.6" r="1.9" fill="#3f66cf" opacity="0.85"/><circle cx="729.7" cy="1062.9" r="1.9" fill="#3f66cf" opacity="0.85"/><circle cx="718.8" cy="1063.4" r="2.2" fill="#3f66cf" opacity="0.85"/><circle cx="717" cy="1342.9" r="1.5" fill="#3f66cf" opacity="0.85"/><circle cx="706.3" cy="1132.5" r="1.7" fill="#3f66cf" opacity="0.85"/><circle cx="703.9" cy="1215.8" r="1.4" fill="#3f66cf" opacity="0.85"/><circle cx="712" cy="1060.6" r="2" fill="#3f66cf" opacity="0.85"/><circle cx="705.5" cy="1275.4" r="1.6" fill="#3f66cf" opacity="0.85"/><circle cx="737.5" cy="1342.9" r="1.8" fill="#3f66cf" opacity="0.85"/><circle cx="732.1" cy="1101.8" r="2" fill="#3f66cf" opacity="0.85"/><circle cx="711.1" cy="1060.9" r="1.3" fill="#3f66cf" opacity="0.85"/><circle cx="723.5" cy="1263.5" r="1.3" fill="#3f66cf" opacity="0.85"/><circle cx="741.1" cy="1320.3" r="1.3" fill="#3f66cf" opacity="0.85"/><circle cx="702.9" cy="1229" r="1.5" fill="#3f66cf" opacity="0.85"/><circle cx="738.9" cy="1077.9" r="2.1" fill="#3f66cf" opacity="0.85"/><circle cx="725.3" cy="1044.8" r="1.4" fill="#3f66cf" opacity="0.85"/><circle cx="743.5" cy="1086.8" r="1.9" fill="#3f66cf" opacity="0.85"/><circle cx="716.6" cy="1183.7" r="2" fill="#3f66cf" opacity="0.85"/><circle cx="709.5" cy="1270.1" r="2.1" fill="#3f66cf" opacity="0.85"/><circle cx="729" cy="1040.1" r="1.6" fill="#3f66cf" opacity="0.85"/><circle cx="704.6" cy="1205.7" r="2.1" fill="#3f66cf" opacity="0.85"/><circle cx="733.3" cy="1036.5" r="1.5" fill="#3f66cf" opacity="0.85"/><circle cx="695.3" cy="1142.9" r="1.4" fill="#3f66cf" opacity="0.85"/><circle cx="737.5" cy="1047" r="1.7" fill="#3f66cf" opacity="0.85"/><circle cx="694.8" cy="1141.1" r="1.3" fill="#3f66cf" opacity="0.85"/><circle cx="698.2" cy="1178.9" r="1.3" fill="#3f66cf" opacity="0.85"/><circle cx="702" cy="1243" r="2.2" fill="#3f66cf" opacity="0.85"/><circle cx="728.6" cy="1326.6" r="2.1" fill="#3f66cf" opacity="0.85"/><circle cx="719" cy="1233" r="1.4" fill="#3f66cf" opacity="0.85"/><circle cx="734.2" cy="1271.6" r="2" fill="#3f66cf" opacity="0.85"/><circle cx="694.5" cy="1170.6" r="2.2" fill="#3f66cf" opacity="0.85"/><circle cx="717.1" cy="1226.5" r="1.4" fill="#3f66cf" opacity="0.85"/><circle cx="720.4" cy="1331.8" r="1.6" fill="#3f66cf" opacity="0.85"/><circle cx="734.6" cy="1142.6" r="1.3" fill="#3f66cf" opacity="0.85"/><circle cx="730.7" cy="1306.3" r="1.9" fill="#3f66cf" opacity="0.85"/><circle cx="723.9" cy="1240.7" r="1.4" fill="#3f66cf" opacity="0.85"/><circle cx="713.8" cy="1057.7" r="1.6" fill="#3f66cf" opacity="0.85"/><circle cx="737.2" cy="1060.3" r="1.8" fill="#3f66cf" opacity="0.85"/><circle cx="713.6" cy="1058.9" r="1.8" fill="#3f66cf" opacity="0.85"/><circle cx="722.3" cy="1261.4" r="1.8" fill="#3f66cf" opacity="0.85"/><circle cx="743.5" cy="1309.9" r="1.7" fill="#3f66cf" opacity="0.85"/><circle cx="717" cy="1316.8" r="1.6" fill="#3f66cf" opacity="0.85"/><circle cx="700.1" cy="1253.4" r="2.3" fill="#3f66cf" opacity="0.85"/><circle cx="741" cy="1310" r="1.7" fill="#3f66cf" opacity="0.85"/><circle cx="701.7" cy="1136.7" r="1.6" fill="#3f66cf" opacity="0.85"/><circle cx="701.9" cy="1280.8" r="1.4" fill="#3f66cf" opacity="0.85"/><circle cx="706.4" cy="1145.4" r="1.9" fill="#3f66cf" opacity="0.85"/><circle cx="704.7" cy="1299.8" r="1.3" fill="#3f66cf" opacity="0.85"/><circle cx="725.9" cy="1280.1" r="1.5" fill="#3f66cf" opacity="0.85"/><circle cx="697.7" cy="1118.1" r="1.7" fill="#3f66cf" opacity="0.85"/><circle cx="703.4" cy="1297.1" r="1.5" fill="#3f66cf" opacity="0.85"/><circle cx="732.3" cy="1063.8" r="1.3" fill="#3f66cf" opacity="0.85"/><circle cx="705.7" cy="1128.3" r="2.2" fill="#3f66cf" opacity="0.85"/><circle cx="722.6" cy="1328" r="1.8" fill="#3f66cf" opacity="0.85"/><circle cx="717.6" cy="1091" r="2" fill="#3f66cf" opacity="0.85"/><circle cx="698.2" cy="1151.6" r="1.9" fill="#3f66cf" opacity="0.85"/><circle cx="742.6" cy="1308.2" r="1.4" fill="#3f66cf" opacity="0.85"/><circle cx="736.6" cy="1273.4" r="1.2" fill="#3f66cf" opacity="0.85"/><circle cx="730.2" cy="1238.4" r="2" fill="#3f66cf" opacity="0.85"/><circle cx="712.5" cy="1302.2" r="2.2" fill="#3f66cf" opacity="0.85"/><circle cx="696" cy="1118" r="1.3" fill="#3f66cf" opacity="0.85"/><circle cx="707" cy="1153.8" r="1.5" fill="#3f66cf" opacity="0.85"/><circle cx="710.5" cy="1183.4" r="1.3" fill="#3f66cf" opacity="0.85"/><circle cx="710.7" cy="1209.3" r="1.6" fill="#3f66cf" opacity="0.85"/><circle cx="730" cy="1187.3" r="2.2" fill="#3f66cf" opacity="0.85"/><circle cx="692" cy="1168.9" r="1.4" fill="#3f66cf" opacity="0.85"/><circle cx="715" cy="1119" r="1.5" fill="#3f66cf" opacity="0.85"/><circle cx="694.5" cy="1141.6" r="1.8" fill="#3f66cf" opacity="0.85"/><circle cx="698.2" cy="1187" r="1.9" fill="#3f66cf" opacity="0.85"/><circle cx="735.9" cy="1348" r="1.6" fill="#3f66cf" opacity="0.85"/><circle cx="726.3" cy="1054.7" r="1.3" fill="#3f66cf" opacity="0.85"/><circle cx="711.4" cy="1198.7" r="1.5" fill="#3f66cf" opacity="0.85"/><circle cx="728.4" cy="1067.7" r="1.7" fill="#3f66cf" opacity="0.85"/><circle cx="737.2" cy="1331.2" r="1.3" fill="#3f66cf" opacity="0.85"/><circle cx="726.1" cy="1287.7" r="1.3" fill="#3f66cf" opacity="0.85"/><circle cx="729.5" cy="1123.6" r="1.3" fill="#3f66cf" opacity="0.85"/><circle cx="713.8" cy="1255.5" r="1.5" fill="#3f66cf" opacity="0.85"/><circle cx="716.6" cy="1195" r="2.1" fill="#3f66cf" opacity="0.85"/><circle cx="733.8" cy="1317.6" r="2" fill="#3f66cf" opacity="0.85"/><circle cx="732" cy="1046.1" r="2" fill="#3f66cf" opacity="0.85"/><circle cx="697.4" cy="1243.3" r="1.6" fill="#3f66cf" opacity="0.85"/><circle cx="729.9" cy="1156.9" r="1.6" fill="#3f66cf" opacity="0.85"/><circle cx="738.3" cy="1049" r="1.9" fill="#3f66cf" opacity="0.85"/><circle cx="721.9" cy="1239.1" r="1.2" fill="#3f66cf" opacity="0.85"/><circle cx="721.3" cy="1179" r="1.7" fill="#3f66cf" opacity="0.85"/><circle cx="714.2" cy="1301.2" r="2.3" fill="#3f66cf" opacity="0.85"/><circle cx="714.2" cy="1297.9" r="1.5" fill="#3f66cf" opacity="0.85"/><circle cx="702.7" cy="1098.2" r="1.2" fill="#3f66cf" opacity="0.85"/><circle cx="718" cy="1087.5" r="1.7" fill="#3f66cf" opacity="0.85"/><circle cx="724.3" cy="1056.5" r="2.1" fill="#3f66cf" opacity="0.85"/><circle cx="724.3" cy="1267.6" r="1.4" fill="#3f66cf" opacity="0.85"/><circle cx="714.9" cy="1318.7" r="1.7" fill="#3f66cf" opacity="0.85"/><circle cx="728" cy="1132.7" r="1.5" fill="#3f66cf" opacity="0.85"/><circle cx="734" cy="1340.2" r="1.2" fill="#3f66cf" opacity="0.85"/><circle cx="719.4" cy="1091.4" r="2" fill="#3f66cf" opacity="0.85"/><circle cx="723.4" cy="1213.4" r="1.5" fill="#3f66cf" opacity="0.85"/><circle cx="707.6" cy="1297.1" r="2.1" fill="#3f66cf" opacity="0.85"/><circle cx="710.7" cy="1225.3" r="1.8" fill="#3f66cf" opacity="0.85"/><circle cx="701.9" cy="1156.6" r="1.8" fill="#3f66cf" opacity="0.85"/><circle cx="713.4" cy="1121.5" r="2.2" fill="#3f66cf" opacity="0.85"/><circle cx="719.3" cy="1347.5" r="1.6" fill="#3f66cf" opacity="0.85"/><circle cx="702.7" cy="1271" r="1.7" fill="#3f66cf" opacity="0.85"/><circle cx="740.7" cy="1061" r="2.1" fill="#3f66cf" opacity="0.85"/><circle cx="721.3" cy="1115" r="1.4" fill="#3f66cf" opacity="0.85"/><circle cx="735.7" cy="1083" r="2.3" fill="#3f66cf" opacity="0.85"/><circle cx="697.4" cy="1258.2" r="1.7" fill="#3f66cf" opacity="0.85"/><circle cx="741.5" cy="1291.7" r="2.2" fill="#3f66cf" opacity="0.85"/><circle cx="737.5" cy="1058" r="1.4" fill="#3f66cf" opacity="0.85"/><circle cx="707.9" cy="1079.2" r="1.6" fill="#3f66cf" opacity="0.85"/><circle cx="723" cy="1129.7" r="2" fill="#3f66cf" opacity="0.85"/><circle cx="709" cy="1217.9" r="1.7" fill="#3f66cf" opacity="0.85"/><circle cx="719" cy="1201.5" r="1.6" fill="#3f66cf" opacity="0.85"/><circle cx="713.5" cy="1198.8" r="1.7" fill="#3f66cf" opacity="0.85"/><circle cx="700.5" cy="1220.8" r="1.6" fill="#3f66cf" opacity="0.85"/><circle cx="743.7" cy="1304.1" r="1.9" fill="#3f66cf" opacity="0.85"/><circle cx="732.5" cy="1164.6" r="1.5" fill="#3f66cf" opacity="0.85"/><circle cx="730.1" cy="1292.5" r="1.3" fill="#3f66cf" opacity="0.85"/><circle cx="701.3" cy="1248.9" r="1.6" fill="#3f66cf" opacity="0.85"/><circle cx="726" cy="1323.1" r="1.6" fill="#3f66cf" opacity="0.85"/><circle cx="737.6" cy="1273.4" r="2.2" fill="#3f66cf" opacity="0.85"/><circle cx="703.2" cy="1181.2" r="2.3" fill="#3f66cf" opacity="0.85"/><circle cx="716.5" cy="1341.2" r="2.3" fill="#3f66cf" opacity="0.85"/><circle cx="706.5" cy="1205.3" r="1.3" fill="#3f66cf" opacity="0.85"/><circle cx="711.3" cy="1269.1" r="2" fill="#3f66cf" opacity="0.85"/><circle cx="712.5" cy="1154.6" r="1.6" fill="#3f66cf" opacity="0.85"/><circle cx="730" cy="1347.3" r="2.2" fill="#3f66cf" opacity="0.85"/><circle cx="728.8" cy="1071.3" r="2.2" fill="#3f66cf" opacity="0.85"/><circle cx="718.6" cy="1228.2" r="1.7" fill="#3f66cf" opacity="0.85"/><circle cx="703.7" cy="1177.7" r="1.8" fill="#3f66cf" opacity="0.85"/><circle cx="725.5" cy="1143.7" r="1.5" fill="#3f66cf" opacity="0.85"/><circle cx="729.1" cy="1289.1" r="1.9" fill="#3f66cf" opacity="0.85"/><circle cx="714.2" cy="1279.7" r="1.3" fill="#3f66cf" opacity="0.85"/><circle cx="703.1" cy="1232.4" r="1.8" fill="#3f66cf" opacity="0.85"/><circle cx="710.3" cy="1099.7" r="1.9" fill="#3f66cf" opacity="0.85"/><circle cx="712.4" cy="1275.9" r="2.1" fill="#3f66cf" opacity="0.85"/><circle cx="697.9" cy="1238.4" r="1.3" fill="#3f66cf" opacity="0.85"/><circle cx="718.7" cy="1177.9" r="2" fill="#3f66cf" opacity="0.85"/><circle cx="739.8" cy="1050.2" r="1.9" fill="#3f66cf" opacity="0.85"/><circle cx="714.7" cy="1164.6" r="1.2" fill="#3f66cf" opacity="0.85"/><circle cx="734.5" cy="1285.1" r="1.3" fill="#3f66cf" opacity="0.85"/><circle cx="704.1" cy="1113.7" r="1.4" fill="#3f66cf" opacity="0.85"/><circle cx="739.6" cy="1317" r="1.5" fill="#3f66cf" opacity="0.85"/><circle cx="718.4" cy="1043.5" r="1.3" fill="#3f66cf" opacity="0.85"/><circle cx="720.4" cy="1097.9" r="1.3" fill="#3f66cf" opacity="0.85"/><circle cx="704.5" cy="1144.9" r="2" fill="#3f66cf" opacity="0.85"/><circle cx="718.2" cy="1308.9" r="2.2" fill="#3f66cf" opacity="0.85"/><circle cx="707.3" cy="1118.4" r="1.3" fill="#3f66cf" opacity="0.85"/><circle cx="742.8" cy="1052.3" r="1.3" fill="#3f66cf" opacity="0.85"/><circle cx="717.5" cy="1306.9" r="1.8" fill="#3f66cf" opacity="0.85"/><circle cx="730.5" cy="1080" r="2.3" fill="#3f66cf" opacity="0.85"/><circle cx="731.2" cy="1287.2" r="2.1" fill="#3f66cf" opacity="0.85"/><circle cx="702.6" cy="1167.9" r="1.2" fill="#3f66cf" opacity="0.85"/><circle cx="696.3" cy="1133.2" r="1.7" fill="#3f66cf" opacity="0.85"/><circle cx="716.9" cy="1056.5" r="2.1" fill="#3f66cf" opacity="0.85"/><circle cx="709.9" cy="1177.1" r="2.1" fill="#3f66cf" opacity="0.85"/><circle cx="726.7" cy="1230.2" r="1.7" fill="#3f66cf" opacity="0.85"/><circle cx="689.7" cy="1171.9" r="2.2" fill="#3f66cf" opacity="0.85"/><circle cx="735.3" cy="1103.3" r="1.7" fill="#3f66cf" opacity="0.85"/><circle cx="717.2" cy="1270.3" r="1.8" fill="#3f66cf" opacity="0.85"/><circle cx="694.7" cy="1139.5" r="1.5" fill="#3f66cf" opacity="0.85"/><circle cx="728.5" cy="1043.3" r="1.4" fill="#3f66cf" opacity="0.85"/><circle cx="713.5" cy="1260" r="1.4" fill="#3f66cf" opacity="0.85"/><circle cx="743.8" cy="1093.4" r="2.3" fill="#3f66cf" opacity="0.85"/><circle cx="711.7" cy="1316.4" r="1.3" fill="#3f66cf" opacity="0.85"/><circle cx="703.9" cy="1180.4" r="2" fill="#3f66cf" opacity="0.85"/><circle cx="723" cy="1248.5" r="2.1" fill="#3f66cf" opacity="0.85"/><circle cx="713.4" cy="1159.7" r="1.5" fill="#3f66cf" opacity="0.85"/><circle cx="710.4" cy="1277.7" r="1.5" fill="#3f66cf" opacity="0.85"/><circle cx="703" cy="1137.4" r="1.4" fill="#3f66cf" opacity="0.85"/><circle cx="701" cy="1232.4" r="1.2" fill="#3f66cf" opacity="0.85"/><circle cx="727.6" cy="1136" r="2" fill="#3f66cf" opacity="0.85"/><circle cx="732.9" cy="1307.4" r="1.7" fill="#3f66cf" opacity="0.85"/><circle cx="696.5" cy="1133" r="1.9" fill="#3f66cf" opacity="0.85"/><circle cx="709.4" cy="1230.6" r="1.3" fill="#3f66cf" opacity="0.85"/><circle cx="720.8" cy="1286.7" r="1.7" fill="#3f66cf" opacity="0.85"/><circle cx="742.4" cy="1301.9" r="1.7" fill="#3f66cf" opacity="0.85"/><circle cx="716.5" cy="1256" r="2.1" fill="#3f66cf" opacity="0.85"/><circle cx="707.7" cy="1262.1" r="1.3" fill="#3f66cf" opacity="0.85"/><circle cx="700.1" cy="1276" r="2.2" fill="#3f66cf" opacity="0.85"/><circle cx="742" cy="1077.5" r="2.2" fill="#3f66cf" opacity="0.85"/><circle cx="691.5" cy="1210" r="2" fill="#3f66cf" opacity="0.85"/><circle cx="732.4" cy="1047" r="2.1" fill="#3f66cf" opacity="0.85"/><circle cx="706.2" cy="1242.1" r="1.8" fill="#3f66cf" opacity="0.85"/><circle cx="734.2" cy="1081.2" r="2" fill="#3f66cf" opacity="0.85"/><circle cx="695.8" cy="1265.6" r="2.2" fill="#3f66cf" opacity="0.85"/><circle cx="715" cy="1245.1" r="2" fill="#3f66cf" opacity="0.85"/><circle cx="729.2" cy="1134.6" r="1.9" fill="#3f66cf" opacity="0.85"/><circle cx="700.4" cy="1162.8" r="1.6" fill="#3f66cf" opacity="0.85"/><circle cx="729.4" cy="1287.8" r="1.6" fill="#3f66cf" opacity="0.85"/><circle cx="724.9" cy="1314" r="1.8" fill="#3f66cf" opacity="0.85"/><circle cx="746.8" cy="1064.6" r="2.2" fill="#3f66cf" opacity="0.85"/><circle cx="710.6" cy="1260.7" r="1.4" fill="#3f66cf" opacity="0.85"/><circle cx="736.1" cy="1093.7" r="2" fill="#3f66cf" opacity="0.85"/><circle cx="699.1" cy="1158.7" r="2.1" fill="#3f66cf" opacity="0.85"/><circle cx="735.3" cy="1269.7" r="1.7" fill="#3f66cf" opacity="0.85"/><circle cx="725.3" cy="1306.6" r="2.1" fill="#3f66cf" opacity="0.85"/><circle cx="728.5" cy="1044.6" r="2.1" fill="#3f66cf" opacity="0.85"/><circle cx="735.6" cy="1252.9" r="1.9" fill="#3f66cf" opacity="0.85"/><circle cx="725.4" cy="1133.8" r="2.1" fill="#3f66cf" opacity="0.85"/><circle cx="721.1" cy="1249" r="1.3" fill="#3f66cf" opacity="0.85"/><circle cx="723.4" cy="1036" r="1.6" fill="#3f66cf" opacity="0.85"/><circle cx="708.5" cy="1281.7" r="1.2" fill="#3f66cf" opacity="0.85"/><circle cx="741.6" cy="1047.7" r="1.5" fill="#3f66cf" opacity="0.85"/><circle cx="732" cy="1135.2" r="2.2" fill="#3f66cf" opacity="0.85"/><circle cx="721" cy="1130.1" r="1.6" fill="#3f66cf" opacity="0.85"/><circle cx="736.2" cy="1124.6" r="1.2" fill="#3f66cf" opacity="0.85"/><circle cx="725.2" cy="1246.8" r="2" fill="#3f66cf" opacity="0.85"/><circle cx="729.7" cy="1212.9" r="2.1" fill="#3f66cf" opacity="0.85"/><circle cx="692.8" cy="1237" r="2.2" fill="#3f66cf" opacity="0.85"/><circle cx="708.5" cy="1089.5" r="1.5" fill="#3f66cf" opacity="0.85"/><circle cx="703.1" cy="1193.4" r="1.7" fill="#3f66cf" opacity="0.85"/><circle cx="703.9" cy="1131.8" r="2" fill="#3f66cf" opacity="0.85"/><circle cx="693.8" cy="1245.3" r="2.2" fill="#3f66cf" opacity="0.85"/><circle cx="715.7" cy="1089.9" r="2.1" fill="#3f66cf" opacity="0.85"/><circle cx="743.4" cy="1303.4" r="2.2" fill="#3f66cf" opacity="0.85"/><circle cx="729.5" cy="1205.3" r="2.1" fill="#3f66cf" opacity="0.85"/><circle cx="743.5" cy="1298.9" r="2.2" fill="#3f66cf" opacity="0.85"/><circle cx="709.4" cy="1182.7" r="2" fill="#3f66cf" opacity="0.85"/><circle cx="732.4" cy="1297.3" r="1.6" fill="#3f66cf" opacity="0.85"/><circle cx="715.9" cy="1056" r="2.2" fill="#3f66cf" opacity="0.85"/><circle cx="707.6" cy="1317.7" r="1.6" fill="#3f66cf" opacity="0.85"/><circle cx="711.9" cy="1227.9" r="1.3" fill="#3f66cf" opacity="0.85"/><circle cx="730.2" cy="1304.3" r="1.5" fill="#3f66cf" opacity="0.85"/><circle cx="705.5" cy="1184.7" r="1.9" fill="#3f66cf" opacity="0.85"/><circle cx="729.6" cy="1312.8" r="1.6" fill="#3f66cf" opacity="0.85"/><circle cx="729.1" cy="1143.6" r="2" fill="#3f66cf" opacity="0.85"/><circle cx="732.2" cy="1145.9" r="1.9" fill="#3f66cf" opacity="0.85"/><circle cx="735.4" cy="1347.3" r="1.3" fill="#3f66cf" opacity="0.85"/><circle cx="689.4" cy="1175.2" r="2.3" fill="#3f66cf" opacity="0.85"/><circle cx="707" cy="1106.9" r="1.8" fill="#3f66cf" opacity="0.85"/><circle cx="734.1" cy="1325.4" r="2.1" fill="#3f66cf" opacity="0.85"/><circle cx="716.2" cy="1240.3" r="1.7" fill="#3f66cf" opacity="0.85"/><circle cx="689.9" cy="1213.6" r="1.3" fill="#3f66cf" opacity="0.85"/><circle cx="720.3" cy="1347.6" r="1.5" fill="#3f66cf" opacity="0.85"/><circle cx="721.9" cy="1196.7" r="1.3" fill="#3f66cf" opacity="0.85"/><circle cx="724.1" cy="1283.7" r="1.3" fill="#3f66cf" opacity="0.85"/><circle cx="733" cy="1150.4" r="2" fill="#3f66cf" opacity="0.85"/><circle cx="730.6" cy="1085.2" r="1.3" fill="#3f66cf" opacity="0.85"/><circle cx="704.1" cy="1166" r="2.3" fill="#3f66cf" opacity="0.85"/><circle cx="732.1" cy="1196.8" r="1.7" fill="#3f66cf" opacity="0.85"/><circle cx="695.7" cy="1270.7" r="2.2" fill="#3f66cf" opacity="0.85"/><circle cx="706.4" cy="1224.7" r="2.1" fill="#3f66cf" opacity="0.85"/><circle cx="713.2" cy="1316.8" r="1.2" fill="#3f66cf" opacity="0.85"/><circle cx="729.8" cy="1238.6" r="1.3" fill="#3f66cf" opacity="0.85"/><circle cx="691.2" cy="1213.6" r="1.3" fill="#3f66cf" opacity="0.85"/><circle cx="729" cy="1193.5" r="2.1" fill="#3f66cf" opacity="0.85"/><circle cx="724.7" cy="1258.9" r="1.4" fill="#3f66cf" opacity="0.85"/><circle cx="695.6" cy="1180.3" r="1.4" fill="#3f66cf" opacity="0.85"/><circle cx="722.4" cy="1083.8" r="1.2" fill="#3f66cf" opacity="0.85"/><circle cx="734.4" cy="1078.5" r="1.9" fill="#3f66cf" opacity="0.85"/><circle cx="707" cy="1108.9" r="1.9" fill="#3f66cf" opacity="0.85"/><circle cx="736.9" cy="1052.9" r="2.1" fill="#3f66cf" opacity="0.85"/><circle cx="713.6" cy="1317.8" r="2.1" fill="#3f66cf" opacity="0.85"/><circle cx="698.9" cy="1204" r="2.1" fill="#3f66cf" opacity="0.85"/><circle cx="705.2" cy="1108.4" r="2.2" fill="#3f66cf" opacity="0.85"/><circle cx="733" cy="1340.5" r="1.3" fill="#3f66cf" opacity="0.85"/><circle cx="715.4" cy="1180.3" r="1.4" fill="#3f66cf" opacity="0.85"/><circle cx="719.1" cy="1296.8" r="1.8" fill="#3f66cf" opacity="0.85"/><circle cx="688.5" cy="1188.4" r="2.2" fill="#3f66cf" opacity="0.85"/><circle cx="741.8" cy="1307" r="1.8" fill="#3f66cf" opacity="0.85"/><circle cx="703.8" cy="1165.5" r="1.4" fill="#3f66cf" opacity="0.85"/><circle cx="722.3" cy="1103.5" r="1.6" fill="#3f66cf" opacity="0.85"/><circle cx="737.6" cy="1261.2" r="1.5" fill="#3f66cf" opacity="0.85"/><circle cx="718.8" cy="1307.2" r="1.7" fill="#3f66cf" opacity="0.85"/><circle cx="721.3" cy="1132.7" r="1.7" fill="#3f66cf" opacity="0.85"/><circle cx="729.7" cy="1080.5" r="1.3" fill="#3f66cf" opacity="0.85"/><circle cx="712.3" cy="1128.4" r="2.1" fill="#3f66cf" opacity="0.85"/><circle cx="722.1" cy="1275.8" r="1.7" fill="#3f66cf" opacity="0.85"/><circle cx="717.7" cy="1122.5" r="1.7" fill="#3f66cf" opacity="0.85"/><circle cx="710.9" cy="1194.8" r="1.5" fill="#3f66cf" opacity="0.85"/><circle cx="708.5" cy="1145.8" r="1.3" fill="#3f66cf" opacity="0.85"/><circle cx="739.2" cy="1067.3" r="1.6" fill="#3f66cf" opacity="0.85"/><circle cx="730" cy="1255.9" r="1.9" fill="#3f66cf" opacity="0.85"/><circle cx="726.2" cy="1181.2" r="1.8" fill="#3f66cf" opacity="0.85"/><circle cx="736.2" cy="1049" r="1.7" fill="#3f66cf" opacity="0.85"/><circle cx="720.4" cy="1194.8" r="1.9" fill="#3f66cf" opacity="0.85"/><circle cx="731.3" cy="1333" r="1.4" fill="#3f66cf" opacity="0.85"/><circle cx="724" cy="1239.5" r="1.2" fill="#3f66cf" opacity="0.85"/><circle cx="719.8" cy="1250.2" r="1.9" fill="#3f66cf" opacity="0.85"/><circle cx="704.5" cy="1160.4" r="1.8" fill="#3f66cf" opacity="0.85"/><circle cx="733.4" cy="1104.5" r="1.4" fill="#3f66cf" opacity="0.85"/><circle cx="717.8" cy="1208.2" r="1.5" fill="#3f66cf" opacity="0.85"/><circle cx="743.8" cy="1078.4" r="2.3" fill="#3f66cf" opacity="0.85"/><circle cx="725.8" cy="1228.3" r="1.7" fill="#3f66cf" opacity="0.85"/><circle cx="718" cy="1121.7" r="1.2" fill="#3f66cf" opacity="0.85"/><circle cx="724.2" cy="1207.3" r="1.6" fill="#3f66cf" opacity="0.85"/><circle cx="714.1" cy="1328.6" r="1.5" fill="#3f66cf" opacity="0.85"/><circle cx="714.8" cy="1226.2" r="2.1" fill="#3f66cf" opacity="0.85"/><circle cx="734.8" cy="1041.2" r="1.3" fill="#3f66cf" opacity="0.85"/><circle cx="726.2" cy="1288.8" r="1.2" fill="#3f66cf" opacity="0.85"/><circle cx="717.7" cy="1314.1" r="1.7" fill="#3f66cf" opacity="0.85"/><circle cx="723.4" cy="1329.1" r="1.3" fill="#3f66cf" opacity="0.85"/><circle cx="731.2" cy="1101.4" r="1.4" fill="#3f66cf" opacity="0.85"/><circle cx="702.8" cy="1133.1" r="1.7" fill="#3f66cf" opacity="0.85"/><circle cx="747.7" cy="1074.1" r="2.2" fill="#3f66cf" opacity="0.85"/><circle cx="713.8" cy="1069.4" r="1.8" fill="#3f66cf" opacity="0.85"/><circle cx="734.5" cy="1339.7" r="1.4" fill="#3f66cf" opacity="0.85"/><circle cx="702.7" cy="1297.3" r="1.7" fill="#3f66cf" opacity="0.85"/><circle cx="712.7" cy="1263.9" r="1.9" fill="#3f66cf" opacity="0.85"/><circle cx="700.9" cy="1257.2" r="1.3" fill="#3f66cf" opacity="0.85"/><circle cx="697.3" cy="1130.1" r="1.4" fill="#3f66cf" opacity="0.85"/><circle cx="723.6" cy="1048.2" r="2" fill="#3f66cf" opacity="0.85"/><circle cx="722.3" cy="1088.6" r="1.3" fill="#3f66cf" opacity="0.85"/><circle cx="715.6" cy="1097.6" r="2.2" fill="#3f66cf" opacity="0.85"/><circle cx="705.2" cy="1097.8" r="2.1" fill="#3f66cf" opacity="0.85"/><circle cx="710.7" cy="1137.5" r="1.7" fill="#3f66cf" opacity="0.85"/><circle cx="689.6" cy="1186.7" r="1.9" fill="#3f66cf" opacity="0.85"/><circle cx="713.3" cy="1316.9" r="2.2" fill="#3f66cf" opacity="0.85"/><circle cx="725.1" cy="1283.6" r="1.9" fill="#3f66cf" opacity="0.85"/><circle cx="716.9" cy="1175" r="2.2" fill="#3f66cf" opacity="0.85"/><circle cx="721" cy="1280.4" r="2.2" fill="#3f66cf" opacity="0.85"/><circle cx="726.9" cy="1040.3" r="1.2" fill="#3f66cf" opacity="0.85"/><circle cx="719.6" cy="1233.6" r="1.8" fill="#3f66cf" opacity="0.85"/><circle cx="706.1" cy="1082" r="2.1" fill="#3f66cf" opacity="0.85"/><circle cx="710.7" cy="1197.2" r="2" fill="#3f66cf" opacity="0.85"/><circle cx="731.1" cy="1084.9" r="1.8" fill="#3f66cf" opacity="0.85"/><circle cx="736.2" cy="1323.9" r="2.2" fill="#3f66cf" opacity="0.85"/><circle cx="717.1" cy="1299.5" r="2" fill="#3f66cf" opacity="0.85"/><circle cx="717.1" cy="1095" r="1.9" fill="#3f66cf" opacity="0.85"/><circle cx="713.5" cy="1140.1" r="1.8" fill="#3f66cf" opacity="0.85"/><circle cx="718.4" cy="1341.5" r="2.2" fill="#3f66cf" opacity="0.85"/><circle cx="743.6" cy="1095.5" r="1.4" fill="#3f66cf" opacity="0.85"/><circle cx="718.5" cy="1243.2" r="1.2" fill="#3f66cf" opacity="0.85"/><circle cx="703.6" cy="1216.9" r="1.9" fill="#3f66cf" opacity="0.85"/><circle cx="724.7" cy="1210.7" r="1.6" fill="#3f66cf" opacity="0.85"/><circle cx="713.4" cy="1215" r="2.2" fill="#3f66cf" opacity="0.85"/><circle cx="745" cy="1303.8" r="1.7" fill="#3f66cf" opacity="0.85"/><circle cx="702.3" cy="1294.5" r="1.7" fill="#3f66cf" opacity="0.85"/><circle cx="725.7" cy="1061.8" r="1.5" fill="#3f66cf" opacity="0.85"/><circle cx="720.1" cy="1194.4" r="1.2" fill="#3f66cf" opacity="0.85"/><circle cx="695.1" cy="1219.8" r="1.6" fill="#3f66cf" opacity="0.85"/><circle cx="730" cy="1309.5" r="1.7" fill="#3f66cf" opacity="0.85"/><circle cx="739.2" cy="1311.4" r="1.3" fill="#3f66cf" opacity="0.85"/><circle cx="705.4" cy="1176.1" r="1.2" fill="#3f66cf" opacity="0.85"/><circle cx="713.6" cy="1296.3" r="1.3" fill="#3f66cf" opacity="0.85"/><circle cx="730.4" cy="1116.5" r="1.4" fill="#3f66cf" opacity="0.85"/><circle cx="710.9" cy="1194.5" r="1.8" fill="#3f66cf" opacity="0.85"/><circle cx="726.5" cy="1275.9" r="1.9" fill="#3f66cf" opacity="0.85"/><circle cx="723.2" cy="1122.6" r="1.5" fill="#3f66cf" opacity="0.85"/><circle cx="722.8" cy="1249.2" r="2.3" fill="#3f66cf" opacity="0.85"/><circle cx="738.1" cy="1050.5" r="2.1" fill="#3f66cf" opacity="0.85"/><circle cx="720.5" cy="1128.1" r="2.2" fill="#3f66cf" opacity="0.85"/><circle cx="735.7" cy="1265.9" r="1.6" fill="#3f66cf" opacity="0.85"/><circle cx="738.9" cy="1301.6" r="1.5" fill="#3f66cf" opacity="0.85"/><circle cx="708.4" cy="1194" r="1.2" fill="#3f66cf" opacity="0.85"/><circle cx="739.8" cy="1061.5" r="2.2" fill="#3f66cf" opacity="0.85"/><circle cx="724.9" cy="1103.2" r="2.2" fill="#3f66cf" opacity="0.85"/><circle cx="721.1" cy="1061.1" r="2.1" fill="#3f66cf" opacity="0.85"/><circle cx="732.4" cy="1225.9" r="1.9" fill="#3f66cf" opacity="0.85"/><circle cx="723.8" cy="1272.4" r="2.1" fill="#3f66cf" opacity="0.85"/><circle cx="703" cy="1117.2" r="2.2" fill="#3f66cf" opacity="0.85"/><circle cx="735.7" cy="1105.6" r="1.4" fill="#3f66cf" opacity="0.85"/><circle cx="698.5" cy="1117" r="1.4" fill="#3f66cf" opacity="0.85"/><circle cx="722.7" cy="1347" r="2.3" fill="#3f66cf" opacity="0.85"/><circle cx="724.7" cy="1055.7" r="1.9" fill="#3f66cf" opacity="0.85"/><circle cx="719.1" cy="1338" r="1.7" fill="#3f66cf" opacity="0.85"/><circle cx="702.7" cy="1182.5" r="1.3" fill="#3f66cf" opacity="0.85"/><circle cx="719.5" cy="1155.7" r="1.7" fill="#3f66cf" opacity="0.85"/><circle cx="697.2" cy="1201.4" r="1.5" fill="#3f66cf" opacity="0.85"/><circle cx="693.8" cy="1198.4" r="1.6" fill="#3f66cf" opacity="0.85"/><circle cx="744.2" cy="1313.5" r="2.2" fill="#3f66cf" opacity="0.85"/><circle cx="730.6" cy="1182.5" r="1.8" fill="#3f66cf" opacity="0.85"/><circle cx="729.2" cy="1066.9" r="2.3" fill="#3f66cf" opacity="0.85"/><circle cx="707.6" cy="1138.5" r="1.3" fill="#3f66cf" opacity="0.85"/><circle cx="695.5" cy="1154.5" r="2.3" fill="#3f66cf" opacity="0.85"/><circle cx="701.1" cy="1191.6" r="1.6" fill="#3f66cf" opacity="0.85"/><circle cx="696.9" cy="1216.3" r="2" fill="#3f66cf" opacity="0.85"/><circle cx="713.2" cy="1135.2" r="2.3" fill="#3f66cf" opacity="0.85"/><circle cx="705.4" cy="1178" r="2.1" fill="#3f66cf" opacity="0.85"/><circle cx="734.8" cy="1328.7" r="1.7" fill="#3f66cf" opacity="0.85"/><circle cx="716.6" cy="1326" r="2.3" fill="#3f66cf" opacity="0.85"/><circle cx="699" cy="1243.4" r="1.4" fill="#3f66cf" opacity="0.85"/><circle cx="713.3" cy="1095.4" r="2" fill="#3f66cf" opacity="0.85"/><circle cx="719" cy="1257.3" r="1.7" fill="#3f66cf" opacity="0.85"/><circle cx="702.2" cy="1101.4" r="1.8" fill="#3f66cf" opacity="0.85"/><circle cx="724.6" cy="1242.7" r="1.5" fill="#3f66cf" opacity="0.85"/><circle cx="719.6" cy="1070.4" r="1.3" fill="#3f66cf" opacity="0.85"/><circle cx="725.5" cy="1096.3" r="1.9" fill="#3f66cf" opacity="0.85"/><circle cx="738.4" cy="1119.2" r="1.3" fill="#3f66cf" opacity="0.85"/><circle cx="734.2" cy="1123.5" r="2" fill="#3f66cf" opacity="0.85"/><circle cx="704.1" cy="1196.7" r="2" fill="#3f66cf" opacity="0.85"/><circle cx="696.6" cy="1202.2" r="1.8" fill="#3f66cf" opacity="0.85"/><circle cx="736.6" cy="1344.3" r="1.4" fill="#3f66cf" opacity="0.85"/><circle cx="704.4" cy="1101.7" r="1.8" fill="#3f66cf" opacity="0.85"/><circle cx="736.6" cy="1266.8" r="1.9" fill="#3f66cf" opacity="0.85"/><circle cx="734.7" cy="1155.9" r="1.2" fill="#3f66cf" opacity="0.85"/><circle cx="720.5" cy="1222.1" r="1.7" fill="#3f66cf" opacity="0.85"/><circle cx="738.9" cy="1294.8" r="1.8" fill="#3f66cf" opacity="0.85"/><circle cx="728.3" cy="1169.5" r="1.2" fill="#3f66cf" opacity="0.85"/><circle cx="717.4" cy="1044.5" r="1.7" fill="#3f66cf" opacity="0.85"/><circle cx="705.8" cy="1201.8" r="1.6" fill="#3f66cf" opacity="0.85"/><circle cx="696.9" cy="1150" r="2.2" fill="#3f66cf" opacity="0.85"/><circle cx="715" cy="1151.5" r="1.4" fill="#3f66cf" opacity="0.85"/><circle cx="708.4" cy="1083.3" r="2.1" fill="#3f66cf" opacity="0.85"/><circle cx="719.2" cy="1074.9" r="1.8" fill="#3f66cf" opacity="0.85"/><circle cx="729.1" cy="1066" r="1.7" fill="#3f66cf" opacity="0.85"/><circle cx="727.1" cy="1270" r="1.5" fill="#3f66cf" opacity="0.85"/><circle cx="744.3" cy="1079.8" r="1.2" fill="#3f66cf" opacity="0.85"/><circle cx="721" cy="1315.4" r="2.1" fill="#3f66cf" opacity="0.85"/><circle cx="726.1" cy="1296.5" r="1.7" fill="#3f66cf" opacity="0.85"/><circle cx="690.4" cy="1184.6" r="2.3" fill="#3f66cf" opacity="0.85"/><circle cx="716.9" cy="1345.7" r="2.3" fill="#3f66cf" opacity="0.85"/><circle cx="698.8" cy="1110.5" r="2.2" fill="#3f66cf" opacity="0.85"/><circle cx="711.2" cy="1097.8" r="2.1" fill="#3f66cf" opacity="0.85"/><circle cx="710.2" cy="1271.4" r="1.3" fill="#3f66cf" opacity="0.85"/><circle cx="698.6" cy="1271.4" r="2.1" fill="#3f66cf" opacity="0.85"/><circle cx="719.7" cy="1175.4" r="1.4" fill="#3f66cf" opacity="0.85"/><circle cx="731" cy="1170.8" r="1.3" fill="#3f66cf" opacity="0.85"/><circle cx="730.2" cy="1196.2" r="1.8" fill="#3f66cf" opacity="0.85"/><circle cx="733" cy="1191.3" r="2" fill="#3f66cf" opacity="0.85"/><circle cx="730.7" cy="1267.6" r="2.1" fill="#3f66cf" opacity="0.85"/><circle cx="696.2" cy="1124.9" r="1.3" fill="#3f66cf" opacity="0.85"/><circle cx="722.1" cy="1198.5" r="1.4" fill="#3f66cf" opacity="0.85"/><circle cx="700" cy="1162.2" r="1.4" fill="#3f66cf" opacity="0.85"/><circle cx="715.9" cy="1116.8" r="1.5" fill="#3f66cf" opacity="0.85"/><circle cx="720.2" cy="1181.7" r="1.9" fill="#3f66cf" opacity="0.85"/><circle cx="725.5" cy="1067.5" r="1.8" fill="#3f66cf" opacity="0.85"/><circle cx="710.4" cy="1125.8" r="1.5" fill="#3f66cf" opacity="0.85"/><circle cx="705.8" cy="1242.4" r="1.2" fill="#3f66cf" opacity="0.85"/><circle cx="727.4" cy="1166" r="1.3" fill="#3f66cf" opacity="0.85"/><circle cx="712" cy="1062.5" r="1.4" fill="#3f66cf" opacity="0.85"/><circle cx="723.3" cy="1118.1" r="1.6" fill="#3f66cf" opacity="0.85"/><circle cx="703" cy="1248.3" r="1.3" fill="#3f66cf" opacity="0.85"/><circle cx="730.6" cy="1324.6" r="1.7" fill="#3f66cf" opacity="0.85"/><circle cx="731.5" cy="1055.8" r="2.2" fill="#3f66cf" opacity="0.85"/><circle cx="708.7" cy="1075.6" r="1.7" fill="#3f66cf" opacity="0.85"/><circle cx="692.1" cy="1241.9" r="1.4" fill="#3f66cf" opacity="0.85"/><circle cx="732.4" cy="1343.3" r="2.1" fill="#3f66cf" opacity="0.85"/><circle cx="700.9" cy="1282.6" r="2.1" fill="#3f66cf" opacity="0.85"/><circle cx="706.8" cy="1110.9" r="2.2" fill="#3f66cf" opacity="0.85"/><circle cx="702.9" cy="1119.7" r="2.1" fill="#3f66cf" opacity="0.85"/><circle cx="726.8" cy="1162.9" r="1.4" fill="#3f66cf" opacity="0.85"/><circle cx="697.1" cy="1172.6" r="1.3" fill="#3f66cf" opacity="0.85"/><circle cx="707.9" cy="1205.7" r="1.5" fill="#3f66cf" opacity="0.85"/><circle cx="734.8" cy="1319.1" r="1.5" fill="#3f66cf" opacity="0.85"/><circle cx="741.2" cy="1072.5" r="1.3" fill="#3f66cf" opacity="0.85"/><circle cx="705" cy="1105" r="2.2" fill="#3f66cf" opacity="0.85"/><circle cx="721.6" cy="1062.3" r="1.8" fill="#3f66cf" opacity="0.85"/><circle cx="733.9" cy="1300.2" r="1.8" fill="#3f66cf" opacity="0.85"/><circle cx="725.7" cy="1327.5" r="2.2" fill="#3f66cf" opacity="0.85"/><circle cx="733.8" cy="1280.9" r="1.8" fill="#3f66cf" opacity="0.85"/><circle cx="702.2" cy="1133.1" r="2" fill="#3f66cf" opacity="0.85"/><circle cx="721" cy="1075.4" r="1.8" fill="#3f66cf" opacity="0.85"/><circle cx="729.8" cy="1344.8" r="1.9" fill="#3f66cf" opacity="0.85"/><circle cx="706.6" cy="1076.2" r="1.7" fill="#3f66cf" opacity="0.85"/><circle cx="691.2" cy="1222.5" r="1.5" fill="#3f66cf" opacity="0.85"/><circle cx="733.4" cy="1073.1" r="1.7" fill="#3f66cf" opacity="0.85"/><circle cx="711.9" cy="1153" r="2" fill="#3f66cf" opacity="0.85"/><circle cx="726.9" cy="1308" r="1.8" fill="#3f66cf" opacity="0.85"/><circle cx="730.7" cy="1127.4" r="1.2" fill="#3f66cf" opacity="0.85"/><circle cx="710.1" cy="1116.1" r="1.9" fill="#3f66cf" opacity="0.85"/><circle cx="732" cy="1263.5" r="2" fill="#3f66cf" opacity="0.85"/><circle cx="692.6" cy="1178" r="1.6" fill="#3f66cf" opacity="0.85"/><circle cx="727.6" cy="1240.1" r="2.3" fill="#3f66cf" opacity="0.85"/><circle cx="722.1" cy="1170.8" r="1.5" fill="#3f66cf" opacity="0.85"/><circle cx="691.6" cy="1150.3" r="1.8" fill="#3f66cf" opacity="0.85"/><circle cx="710" cy="1142.6" r="1.7" fill="#3f66cf" opacity="0.85"/><circle cx="729.4" cy="1225.8" r="2.2" fill="#3f66cf" opacity="0.85"/><circle cx="728.6" cy="1131.3" r="1.6" fill="#3f66cf" opacity="0.85"/><circle cx="720.9" cy="1183.3" r="2" fill="#3f66cf" opacity="0.85"/><circle cx="705.3" cy="1094" r="1.4" fill="#3f66cf" opacity="0.85"/><circle cx="707.8" cy="1315.7" r="1.3" fill="#3f66cf" opacity="0.85"/><circle cx="710.6" cy="1141.7" r="2.3" fill="#3f66cf" opacity="0.85"/><circle cx="701.1" cy="1126" r="1.4" fill="#3f66cf" opacity="0.85"/><circle cx="722.2" cy="1236.1" r="1.6" fill="#3f66cf" opacity="0.85"/><circle cx="734.2" cy="1054.9" r="1.5" fill="#3f66cf" opacity="0.85"/><circle cx="719.6" cy="1047.5" r="1.3" fill="#3f66cf" opacity="0.85"/><circle cx="696.1" cy="1168.3" r="2.1" fill="#3f66cf" opacity="0.85"/><circle cx="693.4" cy="1194.9" r="1.5" fill="#3f66cf" opacity="0.85"/><circle cx="733.2" cy="1195.3" r="2.3" fill="#3f66cf" opacity="0.85"/><circle cx="724.5" cy="1343.9" r="1.4" fill="#3f66cf" opacity="0.85"/><circle cx="729.1" cy="1280" r="1.3" fill="#3f66cf" opacity="0.85"/><circle cx="698.3" cy="1136.2" r="1.2" fill="#3f66cf" opacity="0.85"/><circle cx="702.5" cy="1259.6" r="1.8" fill="#3f66cf" opacity="0.85"/><circle cx="699.2" cy="1214.7" r="1.3" fill="#3f66cf" opacity="0.85"/><circle cx="730.5" cy="1256.9" r="1.5" fill="#3f66cf" opacity="0.85"/><circle cx="723.3" cy="1183" r="2.2" fill="#3f66cf" opacity="0.85"/><circle cx="730.7" cy="1073.8" r="1.8" fill="#3f66cf" opacity="0.85"/><circle cx="705.9" cy="1301.3" r="1.7" fill="#3f66cf" opacity="0.85"/><circle cx="716.5" cy="1110.1" r="2.3" fill="#3f66cf" opacity="0.85"/><circle cx="708.3" cy="1321.5" r="1.5" fill="#3f66cf" opacity="0.85"/><circle cx="710" cy="1139.6" r="1.9" fill="#3f66cf" opacity="0.85"/><circle cx="704.3" cy="1167.8" r="1.5" fill="#3f66cf" opacity="0.85"/><circle cx="713.4" cy="1233.7" r="1.8" fill="#3f66cf" opacity="0.85"/><circle cx="714.3" cy="1130.8" r="2" fill="#3f66cf" opacity="0.85"/><circle cx="689.2" cy="1182" r="1.9" fill="#3f66cf" opacity="0.85"/><circle cx="715.6" cy="1180.1" r="1.4" fill="#3f66cf" opacity="0.85"/><circle cx="710.3" cy="1222.9" r="2.3" fill="#3f66cf" opacity="0.85"/><circle cx="744.2" cy="1085.9" r="2.3" fill="#3f66cf" opacity="0.85"/><circle cx="728.4" cy="1272.7" r="2.2" fill="#3f66cf" opacity="0.85"/><circle cx="717.5" cy="1309.9" r="2.2" fill="#3f66cf" opacity="0.85"/><circle cx="695.3" cy="1252.3" r="2.2" fill="#3f66cf" opacity="0.85"/><circle cx="701.2" cy="1093.4" r="1.7" fill="#3f66cf" opacity="0.85"/><circle cx="730.1" cy="1178.1" r="1.6" fill="#3f66cf" opacity="0.85"/><circle cx="722.7" cy="1151" r="1.3" fill="#3f66cf" opacity="0.85"/><circle cx="693.6" cy="1200.7" r="1.5" fill="#3f66cf" opacity="0.85"/><circle cx="698.4" cy="1204.8" r="1.6" fill="#3f66cf" opacity="0.85"/><circle cx="727.6" cy="1300.5" r="1.8" fill="#3f66cf" opacity="0.85"/><circle cx="728.6" cy="1121.5" r="1.9" fill="#3f66cf" opacity="0.85"/><circle cx="730.6" cy="1259.6" r="1.6" fill="#3f66cf" opacity="0.85"/><circle cx="730.5" cy="1343.1" r="1.4" fill="#3f66cf" opacity="0.85"/><circle cx="696.6" cy="1246.3" r="1.4" fill="#3f66cf" opacity="0.85"/><circle cx="737.5" cy="1043.1" r="1.4" fill="#3f66cf" opacity="0.85"/><circle cx="737.7" cy="1037.1" r="1.4" fill="#3f66cf" opacity="0.85"/><circle cx="704.7" cy="1201.8" r="1.5" fill="#3f66cf" opacity="0.85"/><circle cx="732.4" cy="1089.8" r="1.4" fill="#3f66cf" opacity="0.85"/><circle cx="741.3" cy="1322.1" r="1.3" fill="#3f66cf" opacity="0.85"/><circle cx="730.2" cy="1153.5" r="1.6" fill="#3f66cf" opacity="0.85"/><circle cx="691.7" cy="1161.3" r="1.8" fill="#3f66cf" opacity="0.85"/><circle cx="721.8" cy="1285.9" r="1.3" fill="#3f66cf" opacity="0.85"/><circle cx="709.8" cy="1090.4" r="2.1" fill="#3f66cf" opacity="0.85"/><circle cx="720" cy="1192.5" r="2" fill="#3f66cf" opacity="0.85"/><circle cx="729.7" cy="1241.5" r="1.5" fill="#3f66cf" opacity="0.85"/><circle cx="720.7" cy="1202.7" r="2" fill="#3f66cf" opacity="0.85"/><circle cx="718.9" cy="1070.7" r="1.5" fill="#3f66cf" opacity="0.85"/><circle cx="742.1" cy="1098.8" r="2.1" fill="#3f66cf" opacity="0.85"/><circle cx="739.5" cy="1329.4" r="1.9" fill="#3f66cf" opacity="0.85"/><circle cx="708.8" cy="1267.8" r="1.3" fill="#3f66cf" opacity="0.85"/><circle cx="723.4" cy="1302.1" r="1.8" fill="#3f66cf" opacity="0.85"/><circle cx="705.2" cy="1087.2" r="2.2" fill="#3f66cf" opacity="0.85"/><circle cx="733.5" cy="1061.2" r="1.9" fill="#3f66cf" opacity="0.85"/><circle cx="714.8" cy="1250.9" r="1.4" fill="#3f66cf" opacity="0.85"/><circle cx="701.7" cy="1287.6" r="2.2" fill="#3f66cf" opacity="0.85"/><circle cx="711.9" cy="1332.3" r="1.9" fill="#3f66cf" opacity="0.85"/><circle cx="701.5" cy="1107.7" r="2.1" fill="#3f66cf" opacity="0.85"/><circle cx="699.5" cy="1177.6" r="1.4" fill="#3f66cf" opacity="0.85"/><circle cx="721.1" cy="1134" r="1.9" fill="#3f66cf" opacity="0.85"/><circle cx="721.3" cy="1077.1" r="2.2" fill="#3f66cf" opacity="0.85"/><circle cx="733.3" cy="1043" r="1.3" fill="#3f66cf" opacity="0.85"/><circle cx="722.4" cy="1254.8" r="1.5" fill="#3f66cf" opacity="0.85"/><circle cx="698.1" cy="1265.2" r="1.4" fill="#3f66cf" opacity="0.85"/><circle cx="730.4" cy="1336" r="2.3" fill="#3f66cf" opacity="0.85"/><circle cx="688.8" cy="1208.6" r="1.3" fill="#3f66cf" opacity="0.85"/><circle cx="708" cy="1125.3" r="2.2" fill="#3f66cf" opacity="0.85"/><circle cx="712.6" cy="1242.3" r="1.9" fill="#3f66cf" opacity="0.85"/><circle cx="721" cy="1311.6" r="1.8" fill="#3f66cf" opacity="0.85"/><circle cx="726.6" cy="1153.5" r="2.1" fill="#3f66cf" opacity="0.85"/><circle cx="717.9" cy="1329.1" r="1.5" fill="#3f66cf" opacity="0.85"/><circle cx="727.8" cy="1333.5" r="1.3" fill="#3f66cf" opacity="0.85"/><circle cx="695.4" cy="1131.4" r="1.3" fill="#3f66cf" opacity="0.85"/><circle cx="724.5" cy="1173.2" r="1.7" fill="#3f66cf" opacity="0.85"/><circle cx="713.2" cy="1144.6" r="1.9" fill="#3f66cf" opacity="0.85"/><circle cx="730.9" cy="1275" r="2" fill="#3f66cf" opacity="0.85"/><circle cx="697" cy="1161.2" r="1.7" fill="#3f66cf" opacity="0.85"/><circle cx="746.8" cy="1320.6" r="1.4" fill="#3f66cf" opacity="0.85"/><circle cx="714.6" cy="1274.5" r="1.4" fill="#3f66cf" opacity="0.85"/><circle cx="719.1" cy="1338.8" r="2.2" fill="#3f66cf" opacity="0.85"/><circle cx="701.9" cy="1240" r="1.8" fill="#3f66cf" opacity="0.85"/><circle cx="717.5" cy="1317.1" r="1.6" fill="#3f66cf" opacity="0.85"/><circle cx="718.4" cy="1073.8" r="1.9" fill="#3f66cf" opacity="0.85"/><circle cx="714.9" cy="1298.6" r="2.1" fill="#3f66cf" opacity="0.85"/><circle cx="716.7" cy="1308.2" r="2.1" fill="#3f66cf" opacity="0.85"/><circle cx="728.5" cy="1079" r="1.8" fill="#3f66cf" opacity="0.85"/><circle cx="735.7" cy="1316" r="1.4" fill="#3f66cf" opacity="0.85"/><circle cx="695.7" cy="1245.7" r="2.3" fill="#3f66cf" opacity="0.85"/><circle cx="710.1" cy="1171.8" r="2.1" fill="#3f66cf" opacity="0.85"/><circle cx="712.5" cy="1258.6" r="2.1" fill="#3f66cf" opacity="0.85"/><circle cx="710.7" cy="1084.7" r="2.2" fill="#3f66cf" opacity="0.85"/><circle cx="721.4" cy="1135.1" r="1.7" fill="#3f66cf" opacity="0.85"/><circle cx="699.2" cy="1122.6" r="2" fill="#3f66cf" opacity="0.85"/><circle cx="708.2" cy="1298.3" r="1.8" fill="#3f66cf" opacity="0.85"/><circle cx="728.4" cy="1096.3" r="1.7" fill="#3f66cf" opacity="0.85"/><circle cx="749.3" cy="1066.9" r="2.2" fill="#3f66cf" opacity="0.85"/><circle cx="728.9" cy="1174.6" r="1.9" fill="#3f66cf" opacity="0.85"/><circle cx="726.6" cy="1067.8" r="2.1" fill="#3f66cf" opacity="0.85"/><circle cx="730.2" cy="1343.6" r="1.9" fill="#3f66cf" opacity="0.85"/><circle cx="716.1" cy="1329.1" r="1.6" fill="#3f66cf" opacity="0.85"/><circle cx="742.2" cy="1068.5" r="2.3" fill="#3f66cf" opacity="0.85"/><circle cx="716.4" cy="1085.2" r="1.5" fill="#3f66cf" opacity="0.85"/><circle cx="733.8" cy="1289.5" r="1.3" fill="#3f66cf" opacity="0.85"/><circle cx="729.1" cy="1214.6" r="1.4" fill="#3f66cf" opacity="0.85"/><circle cx="710.5" cy="1100.2" r="2.1" fill="#3f66cf" opacity="0.85"/><circle cx="703.7" cy="1118" r="1.2" fill="#3f66cf" opacity="0.85"/><circle cx="717" cy="1322.4" r="1.5" fill="#3f66cf" opacity="0.85"/><circle cx="721.9" cy="1310" r="2" fill="#3f66cf" opacity="0.85"/><circle cx="707.9" cy="1305.4" r="2" fill="#3f66cf" opacity="0.85"/><circle cx="710.8" cy="1177.1" r="1.2" fill="#3f66cf" opacity="0.85"/><circle cx="713.4" cy="1106.3" r="1.5" fill="#3f66cf" opacity="0.85"/><circle cx="719.3" cy="1157.1" r="1.8" fill="#3f66cf" opacity="0.85"/><circle cx="716.4" cy="1105.8" r="1.9" fill="#3f66cf" opacity="0.85"/><circle cx="731.2" cy="1288.1" r="1.9" fill="#3f66cf" opacity="0.85"/><circle cx="712.8" cy="1218.5" r="2" fill="#3f66cf" opacity="0.85"/><circle cx="731.5" cy="1121.6" r="2.2" fill="#3f66cf" opacity="0.85"/><circle cx="708.8" cy="1292.1" r="1.3" fill="#3f66cf" opacity="0.85"/><circle cx="740.3" cy="1103.3" r="2.2" fill="#3f66cf" opacity="0.85"/><circle cx="727.2" cy="1346.5" r="1.3" fill="#3f66cf" opacity="0.85"/><circle cx="731.9" cy="1249.7" r="1.7" fill="#3f66cf" opacity="0.85"/><circle cx="723.4" cy="1038.8" r="1.7" fill="#3f66cf" opacity="0.85"/><circle cx="711.4" cy="1085.2" r="2.1" fill="#3f66cf" opacity="0.85"/><circle cx="722.5" cy="1308.9" r="1.9" fill="#3f66cf" opacity="0.85"/><circle cx="714.7" cy="1327.2" r="1.6" fill="#3f66cf" opacity="0.85"/><circle cx="724.5" cy="1036.8" r="1.6" fill="#3f66cf" opacity="0.85"/><circle cx="716.5" cy="1260.7" r="1.5" fill="#3f66cf" opacity="0.85"/><circle cx="713.2" cy="1057.2" r="1.3" fill="#3f66cf" opacity="0.85"/><circle cx="722.6" cy="1049.4" r="2.1" fill="#3f66cf" opacity="0.85"/><circle cx="699.3" cy="1250.8" r="1.3" fill="#3f66cf" opacity="0.85"/><circle cx="734.8" cy="1236.4" r="1.5" fill="#3f66cf" opacity="0.85"/><circle cx="736.9" cy="1279.1" r="2" fill="#3f66cf" opacity="0.85"/><circle cx="718.2" cy="1228.2" r="2" fill="#3f66cf" opacity="0.85"/><circle cx="710.8" cy="1315.3" r="1.7" fill="#3f66cf" opacity="0.85"/><circle cx="708.4" cy="1188" r="1.3" fill="#3f66cf" opacity="0.85"/><circle cx="723.4" cy="1324.8" r="1.4" fill="#3f66cf" opacity="0.85"/><circle cx="720.5" cy="1185.8" r="1.6" fill="#3f66cf" opacity="0.85"/><circle cx="713.4" cy="1198" r="2.1" fill="#3f66cf" opacity="0.85"/><circle cx="718.3" cy="1218.9" r="1.5" fill="#3f66cf" opacity="0.85"/><circle cx="714.6" cy="1324.4" r="1.6" fill="#3f66cf" opacity="0.85"/><circle cx="705.7" cy="1226.2" r="1.9" fill="#3f66cf" opacity="0.85"/><circle cx="708.4" cy="1089.4" r="1.5" fill="#3f66cf" opacity="0.85"/><circle cx="706.3" cy="1297.5" r="1.2" fill="#3f66cf" opacity="0.85"/><circle cx="733.1" cy="1061.5" r="1.9" fill="#3f66cf" opacity="0.85"/><circle cx="737.2" cy="1282.4" r="1.7" fill="#3f66cf" opacity="0.85"/><circle cx="700.4" cy="1274" r="2.1" fill="#3f66cf" opacity="0.85"/><circle cx="712.4" cy="1162.4" r="2.1" fill="#3f66cf" opacity="0.85"/><circle cx="714.8" cy="1288.9" r="2.1" fill="#3f66cf" opacity="0.85"/><circle cx="710.5" cy="1063.7" r="1.8" fill="#3f66cf" opacity="0.85"/><circle cx="726.7" cy="1235.2" r="1.8" fill="#3f66cf" opacity="0.85"/><circle cx="692.6" cy="1224.6" r="1.5" fill="#3f66cf" opacity="0.85"/><circle cx="725.6" cy="1338.3" r="1.8" fill="#3f66cf" opacity="0.85"/><circle cx="735.8" cy="1133.6" r="1.8" fill="#3f66cf" opacity="0.85"/><circle cx="728.3" cy="1340.7" r="1.9" fill="#3f66cf" opacity="0.85"/><circle cx="696" cy="1131.3" r="1.3" fill="#3f66cf" opacity="0.85"/><circle cx="714.9" cy="1169.5" r="1.4" fill="#3f66cf" opacity="0.85"/><circle cx="738.2" cy="1297.6" r="1.9" fill="#3f66cf" opacity="0.85"/><circle cx="719.6" cy="1126.3" r="1.2" fill="#3f66cf" opacity="0.85"/><circle cx="703.4" cy="1178.4" r="1.8" fill="#3f66cf" opacity="0.85"/><circle cx="713" cy="1235.2" r="1.3" fill="#3f66cf" opacity="0.85"/><circle cx="703.7" cy="1197.1" r="1.6" fill="#3f66cf" opacity="0.85"/><circle cx="729.8" cy="1134.8" r="1.5" fill="#3f66cf" opacity="0.85"/><circle cx="704.2" cy="1132.1" r="2.2" fill="#3f66cf" opacity="0.85"/><circle cx="715.2" cy="1196.1" r="1.9" fill="#3f66cf" opacity="0.85"/><circle cx="716" cy="1111.2" r="1.7" fill="#3f66cf" opacity="0.85"/><circle cx="739.6" cy="1331.2" r="2.1" fill="#3f66cf" opacity="0.85"/><circle cx="728.6" cy="1078.1" r="1.3" fill="#3f66cf" opacity="0.85"/><circle cx="699.6" cy="1288.7" r="1.5" fill="#3f66cf" opacity="0.85"/><circle cx="708.7" cy="1255.5" r="2" fill="#3f66cf" opacity="0.85"/><circle cx="724.2" cy="1326" r="1.4" fill="#3f66cf" opacity="0.85"/><circle cx="704.1" cy="1239" r="2.1" fill="#3f66cf" opacity="0.85"/><circle cx="728.8" cy="1093.5" r="1.8" fill="#3f66cf" opacity="0.85"/><circle cx="729.6" cy="1166.9" r="2.3" fill="#3f66cf" opacity="0.85"/><circle cx="720.8" cy="1158.3" r="1.4" fill="#3f66cf" opacity="0.85"/><circle cx="716.2" cy="1244" r="2.3" fill="#3f66cf" opacity="0.85"/><circle cx="723.5" cy="1125.2" r="1.6" fill="#3f66cf" opacity="0.85"/><circle cx="707.5" cy="1159.5" r="1.4" fill="#3f66cf" opacity="0.85"/><circle cx="703.6" cy="1195.8" r="1.8" fill="#3f66cf" opacity="0.85"/><circle cx="717.1" cy="1047.4" r="2" fill="#3f66cf" opacity="0.85"/><circle cx="730.9" cy="1059.7" r="1.4" fill="#3f66cf" opacity="0.85"/><circle cx="661.8" cy="1140.2" r="2.4" fill="#3a5fcf" opacity="0.9"/><circle cx="669.2" cy="1174.1" r="2" fill="#3a5fcf" opacity="0.9"/><circle cx="687.4" cy="1352.5" r="1.5" fill="#3a5fcf" opacity="0.9"/><circle cx="671.7" cy="1203.6" r="1.4" fill="#3a5fcf" opacity="0.9"/><circle cx="684.3" cy="1321.3" r="1.9" fill="#3a5fcf" opacity="0.9"/><circle cx="681.6" cy="1312" r="1.5" fill="#3a5fcf" opacity="0.9"/><circle cx="652.6" cy="1205.3" r="2.3" fill="#3a5fcf" opacity="0.9"/><circle cx="698.3" cy="1347.9" r="1.4" fill="#3a5fcf" opacity="0.9"/><circle cx="669.2" cy="1088" r="2.4" fill="#3a5fcf" opacity="0.9"/><circle cx="678.9" cy="1092.8" r="1.8" fill="#3a5fcf" opacity="0.9"/><circle cx="659.7" cy="1232.6" r="1.4" fill="#3a5fcf" opacity="0.9"/><circle cx="693" cy="1339.4" r="1.6" fill="#3a5fcf" opacity="0.9"/><circle cx="666.6" cy="1219.8" r="1.8" fill="#3a5fcf" opacity="0.9"/><circle cx="675.9" cy="1244.7" r="1.8" fill="#3a5fcf" opacity="0.9"/><circle cx="686.8" cy="1090.4" r="2" fill="#3a5fcf" opacity="0.9"/><circle cx="696.8" cy="1028.8" r="2.2" fill="#3a5fcf" opacity="0.9"/><circle cx="662.6" cy="1218.9" r="2" fill="#3a5fcf" opacity="0.9"/><circle cx="684.5" cy="1318.7" r="1.5" fill="#3a5fcf" opacity="0.9"/><circle cx="657.1" cy="1153.5" r="1.9" fill="#3a5fcf" opacity="0.9"/><circle cx="676.2" cy="1135.5" r="1.4" fill="#3a5fcf" opacity="0.9"/><circle cx="689.8" cy="1352.5" r="2.1" fill="#3a5fcf" opacity="0.9"/><circle cx="671.5" cy="1132.2" r="1.5" fill="#3a5fcf" opacity="0.9"/><circle cx="668.4" cy="1116.5" r="1.4" fill="#3a5fcf" opacity="0.9"/><circle cx="664.9" cy="1188.3" r="1.3" fill="#3a5fcf" opacity="0.9"/><circle cx="669.6" cy="1104.4" r="2.4" fill="#3a5fcf" opacity="0.9"/><circle cx="679.6" cy="1106.5" r="1.8" fill="#3a5fcf" opacity="0.9"/><circle cx="666.1" cy="1196.1" r="1.9" fill="#3a5fcf" opacity="0.9"/><circle cx="654.5" cy="1210.7" r="2.1" fill="#3a5fcf" opacity="0.9"/><circle cx="689.5" cy="1077.6" r="2.2" fill="#3a5fcf" opacity="0.9"/><circle cx="663.6" cy="1248.4" r="1.6" fill="#3a5fcf" opacity="0.9"/><circle cx="675.3" cy="1089.1" r="1.5" fill="#3a5fcf" opacity="0.9"/><circle cx="664.6" cy="1131.3" r="1.9" fill="#3a5fcf" opacity="0.9"/><circle cx="694.8" cy="1033.8" r="2.3" fill="#3a5fcf" opacity="0.9"/><circle cx="699.3" cy="1037.7" r="1.4" fill="#3a5fcf" opacity="0.9"/><circle cx="696.2" cy="1028.5" r="2.2" fill="#3a5fcf" opacity="0.9"/><circle cx="673" cy="1189.4" r="1.6" fill="#3a5fcf" opacity="0.9"/><circle cx="694.1" cy="1065" r="1.8" fill="#3a5fcf" opacity="0.9"/><circle cx="666.7" cy="1133.4" r="1.8" fill="#3a5fcf" opacity="0.9"/><circle cx="692.5" cy="1037.5" r="1.3" fill="#3a5fcf" opacity="0.9"/><circle cx="696.9" cy="1030.7" r="1.8" fill="#3a5fcf" opacity="0.9"/><circle cx="666" cy="1093.3" r="1.3" fill="#3a5fcf" opacity="0.9"/><circle cx="671.7" cy="1304.4" r="2.3" fill="#3a5fcf" opacity="0.9"/><circle cx="665.3" cy="1184.6" r="1.7" fill="#3a5fcf" opacity="0.9"/><circle cx="693.4" cy="1051.6" r="1.7" fill="#3a5fcf" opacity="0.9"/><circle cx="690" cy="1343.9" r="1.8" fill="#3a5fcf" opacity="0.9"/><circle cx="692.8" cy="1344" r="1.9" fill="#3a5fcf" opacity="0.9"/><circle cx="697.4" cy="1053.2" r="2.1" fill="#3a5fcf" opacity="0.9"/><circle cx="666.6" cy="1187.3" r="1.9" fill="#3a5fcf" opacity="0.9"/><circle cx="699.6" cy="1026.5" r="1.9" fill="#3a5fcf" opacity="0.9"/><circle cx="665.4" cy="1278.7" r="1.7" fill="#3a5fcf" opacity="0.9"/><circle cx="667.8" cy="1223.9" r="2" fill="#3a5fcf" opacity="0.9"/><circle cx="676.9" cy="1245.2" r="1.9" fill="#3a5fcf" opacity="0.9"/><circle cx="688.6" cy="1323.2" r="1.9" fill="#3a5fcf" opacity="0.9"/><circle cx="687.5" cy="1053.2" r="2" fill="#3a5fcf" opacity="0.9"/><circle cx="701.9" cy="1035.9" r="1.6" fill="#3a5fcf" opacity="0.9"/><circle cx="680.6" cy="1298.8" r="2.4" fill="#3a5fcf" opacity="0.9"/><circle cx="672.6" cy="1289.7" r="1.8" fill="#3a5fcf" opacity="0.9"/><circle cx="681" cy="1318.1" r="2" fill="#3a5fcf" opacity="0.9"/><circle cx="680.1" cy="1067.7" r="1.7" fill="#3a5fcf" opacity="0.9"/><circle cx="693.8" cy="1324.8" r="1.6" fill="#3a5fcf" opacity="0.9"/><circle cx="675" cy="1244.5" r="2.2" fill="#3a5fcf" opacity="0.9"/><circle cx="663.3" cy="1256.4" r="1.6" fill="#3a5fcf" opacity="0.9"/><circle cx="693.1" cy="1327.5" r="1.6" fill="#3a5fcf" opacity="0.9"/><circle cx="663.3" cy="1267.1" r="2.2" fill="#3a5fcf" opacity="0.9"/><circle cx="658.5" cy="1262.1" r="2.2" fill="#3a5fcf" opacity="0.9"/><circle cx="673.4" cy="1226.9" r="2.3" fill="#3a5fcf" opacity="0.9"/><circle cx="685.2" cy="1296.6" r="1.8" fill="#3a5fcf" opacity="0.9"/><circle cx="673.7" cy="1319.3" r="1.5" fill="#3a5fcf" opacity="0.9"/><circle cx="657" cy="1170.4" r="2.5" fill="#3a5fcf" opacity="0.9"/><circle cx="675.6" cy="1116.2" r="1.9" fill="#3a5fcf" opacity="0.9"/><circle cx="684" cy="1288.7" r="1.4" fill="#3a5fcf" opacity="0.9"/><circle cx="687.9" cy="1303" r="2.3" fill="#3a5fcf" opacity="0.9"/><circle cx="662.7" cy="1249.7" r="1.7" fill="#3a5fcf" opacity="0.9"/><circle cx="698.5" cy="1042.2" r="2.4" fill="#3a5fcf" opacity="0.9"/><circle cx="673.6" cy="1202.2" r="2.4" fill="#3a5fcf" opacity="0.9"/><circle cx="681.9" cy="1308.1" r="2.2" fill="#3a5fcf" opacity="0.9"/><circle cx="656.6" cy="1183.6" r="1.4" fill="#3a5fcf" opacity="0.9"/><circle cx="690.9" cy="1319.7" r="1.7" fill="#3a5fcf" opacity="0.9"/><circle cx="693.7" cy="1324.8" r="2.4" fill="#3a5fcf" opacity="0.9"/><circle cx="665.2" cy="1105.8" r="1.5" fill="#3a5fcf" opacity="0.9"/><circle cx="665.5" cy="1166.9" r="2.3" fill="#3a5fcf" opacity="0.9"/><circle cx="684.6" cy="1351" r="1.5" fill="#3a5fcf" opacity="0.9"/><circle cx="676.7" cy="1080.9" r="1.8" fill="#3a5fcf" opacity="0.9"/><circle cx="681.6" cy="1067.4" r="1.8" fill="#3a5fcf" opacity="0.9"/><circle cx="674.4" cy="1292" r="1.5" fill="#3a5fcf" opacity="0.9"/><circle cx="669.1" cy="1227" r="1.5" fill="#3a5fcf" opacity="0.9"/><circle cx="677.9" cy="1254.2" r="2.3" fill="#3a5fcf" opacity="0.9"/><circle cx="683.8" cy="1086.6" r="1.3" fill="#3a5fcf" opacity="0.9"/><circle cx="664.9" cy="1127.8" r="2.4" fill="#3a5fcf" opacity="0.9"/><circle cx="661" cy="1248.6" r="1.9" fill="#3a5fcf" opacity="0.9"/><circle cx="673.8" cy="1168.5" r="1.8" fill="#3a5fcf" opacity="0.9"/><circle cx="687.6" cy="1079.2" r="2.4" fill="#3a5fcf" opacity="0.9"/><circle cx="699.3" cy="1020.3" r="1.8" fill="#3a5fcf" opacity="0.9"/><circle cx="688.7" cy="1060.7" r="1.4" fill="#3a5fcf" opacity="0.9"/><circle cx="688.2" cy="1338.8" r="1.4" fill="#3a5fcf" opacity="0.9"/><circle cx="673.4" cy="1152.9" r="2" fill="#3a5fcf" opacity="0.9"/><circle cx="669.4" cy="1166.1" r="1.8" fill="#3a5fcf" opacity="0.9"/><circle cx="659.9" cy="1141.1" r="2.4" fill="#3a5fcf" opacity="0.9"/><circle cx="698.5" cy="1040.8" r="1.7" fill="#3a5fcf" opacity="0.9"/><circle cx="690" cy="1057.9" r="1.8" fill="#3a5fcf" opacity="0.9"/><circle cx="672.2" cy="1081.8" r="2.3" fill="#3a5fcf" opacity="0.9"/><circle cx="669" cy="1121.3" r="1.4" fill="#3a5fcf" opacity="0.9"/><circle cx="696.1" cy="1058.4" r="1.8" fill="#3a5fcf" opacity="0.9"/><circle cx="666.4" cy="1163.4" r="1.8" fill="#3a5fcf" opacity="0.9"/><circle cx="672.5" cy="1096.8" r="2.1" fill="#3a5fcf" opacity="0.9"/><circle cx="671.4" cy="1191.8" r="1.3" fill="#3a5fcf" opacity="0.9"/><circle cx="676" cy="1317.3" r="2.5" fill="#3a5fcf" opacity="0.9"/><circle cx="666.2" cy="1134.6" r="2" fill="#3a5fcf" opacity="0.9"/><circle cx="678.7" cy="1264" r="1.8" fill="#3a5fcf" opacity="0.9"/><circle cx="686.3" cy="1071" r="1.5" fill="#3a5fcf" opacity="0.9"/><circle cx="662.4" cy="1128.3" r="1.6" fill="#3a5fcf" opacity="0.9"/><circle cx="676.5" cy="1314.2" r="2" fill="#3a5fcf" opacity="0.9"/><circle cx="663.3" cy="1226.1" r="1.5" fill="#3a5fcf" opacity="0.9"/><circle cx="675.4" cy="1104.3" r="1.3" fill="#3a5fcf" opacity="0.9"/><circle cx="662.9" cy="1259.2" r="1.6" fill="#3a5fcf" opacity="0.9"/><circle cx="665.1" cy="1200.3" r="2.4" fill="#3a5fcf" opacity="0.9"/><circle cx="684.6" cy="1315.2" r="1.3" fill="#3a5fcf" opacity="0.9"/><circle cx="692.7" cy="1356.5" r="2.1" fill="#3a5fcf" opacity="0.9"/><circle cx="676.5" cy="1250" r="2.1" fill="#3a5fcf" opacity="0.9"/><circle cx="700.8" cy="1355.4" r="1.5" fill="#3a5fcf" opacity="0.9"/><circle cx="664.3" cy="1144.3" r="2.1" fill="#3a5fcf" opacity="0.9"/><circle cx="667.1" cy="1172.5" r="1.8" fill="#3a5fcf" opacity="0.9"/><circle cx="681.6" cy="1094.8" r="1.4" fill="#3a5fcf" opacity="0.9"/><circle cx="666.4" cy="1272.8" r="2.4" fill="#3a5fcf" opacity="0.9"/><circle cx="666.2" cy="1242.8" r="2.1" fill="#3a5fcf" opacity="0.9"/><circle cx="673.6" cy="1099.6" r="1.9" fill="#3a5fcf" opacity="0.9"/><circle cx="700.2" cy="1354.8" r="1.8" fill="#3a5fcf" opacity="0.9"/><circle cx="693.2" cy="1357.8" r="1.3" fill="#3a5fcf" opacity="0.9"/><circle cx="664.8" cy="1187.9" r="2.1" fill="#3a5fcf" opacity="0.9"/><circle cx="685.3" cy="1294.5" r="1.7" fill="#3a5fcf" opacity="0.9"/><circle cx="699.6" cy="1044.8" r="1.9" fill="#3a5fcf" opacity="0.9"/><circle cx="662.2" cy="1119.6" r="1.8" fill="#3a5fcf" opacity="0.9"/><circle cx="692.5" cy="1044.1" r="1.5" fill="#3a5fcf" opacity="0.9"/><circle cx="686.8" cy="1088.4" r="1.5" fill="#3a5fcf" opacity="0.9"/><circle cx="658.8" cy="1197.4" r="1.7" fill="#3a5fcf" opacity="0.9"/><circle cx="689.5" cy="1066.2" r="1.8" fill="#3a5fcf" opacity="0.9"/><circle cx="695.3" cy="1060.3" r="1.7" fill="#3a5fcf" opacity="0.9"/><circle cx="683.8" cy="1310.8" r="2.2" fill="#3a5fcf" opacity="0.9"/><circle cx="655.7" cy="1144.3" r="1.6" fill="#3a5fcf" opacity="0.9"/><circle cx="672.3" cy="1177" r="2.2" fill="#3a5fcf" opacity="0.9"/><circle cx="682.1" cy="1339.6" r="2.2" fill="#3a5fcf" opacity="0.9"/><circle cx="681.9" cy="1063.6" r="2.3" fill="#3a5fcf" opacity="0.9"/><circle cx="681.4" cy="1277.3" r="1.7" fill="#3a5fcf" opacity="0.9"/><circle cx="673.4" cy="1141.3" r="1.6" fill="#3a5fcf" opacity="0.9"/><circle cx="675.8" cy="1293.1" r="1.8" fill="#3a5fcf" opacity="0.9"/><circle cx="670.3" cy="1228.6" r="1.3" fill="#3a5fcf" opacity="0.9"/><circle cx="670.7" cy="1252.8" r="2.1" fill="#3a5fcf" opacity="0.9"/><circle cx="668.2" cy="1144.4" r="2" fill="#3a5fcf" opacity="0.9"/><circle cx="683.9" cy="1092.9" r="2.1" fill="#3a5fcf" opacity="0.9"/><circle cx="665.7" cy="1208.8" r="1.7" fill="#3a5fcf" opacity="0.9"/><circle cx="658.9" cy="1254.9" r="1.4" fill="#3a5fcf" opacity="0.9"/><circle cx="680.6" cy="1312.2" r="2.2" fill="#3a5fcf" opacity="0.9"/><circle cx="661" cy="1218.3" r="2.1" fill="#3a5fcf" opacity="0.9"/><circle cx="667.3" cy="1238.1" r="1.8" fill="#3a5fcf" opacity="0.9"/><circle cx="665" cy="1238.6" r="1.6" fill="#3a5fcf" opacity="0.9"/><circle cx="696.5" cy="1352.1" r="2.4" fill="#3a5fcf" opacity="0.9"/><circle cx="663.7" cy="1128.9" r="2.1" fill="#3a5fcf" opacity="0.9"/><circle cx="668.1" cy="1117.3" r="1.5" fill="#3a5fcf" opacity="0.9"/><circle cx="665.9" cy="1275.7" r="2" fill="#3a5fcf" opacity="0.9"/><circle cx="684.6" cy="1305.7" r="1.9" fill="#3a5fcf" opacity="0.9"/><circle cx="671.7" cy="1080.5" r="2.5" fill="#3a5fcf" opacity="0.9"/><circle cx="675.9" cy="1153.4" r="1.7" fill="#3a5fcf" opacity="0.9"/><circle cx="693.3" cy="1329.2" r="1.5" fill="#3a5fcf" opacity="0.9"/><circle cx="671.2" cy="1158.7" r="1.7" fill="#3a5fcf" opacity="0.9"/><circle cx="653.7" cy="1218.2" r="1.7" fill="#3a5fcf" opacity="0.9"/><circle cx="675.2" cy="1276.4" r="2.1" fill="#3a5fcf" opacity="0.9"/><circle cx="655.6" cy="1172.7" r="2.2" fill="#3a5fcf" opacity="0.9"/><circle cx="658" cy="1248.7" r="1.7" fill="#3a5fcf" opacity="0.9"/><circle cx="655.7" cy="1241.8" r="2.2" fill="#3a5fcf" opacity="0.9"/><circle cx="683.4" cy="1093.6" r="2.2" fill="#3a5fcf" opacity="0.9"/><circle cx="680.9" cy="1289.2" r="1.7" fill="#3a5fcf" opacity="0.9"/><circle cx="667.9" cy="1266" r="1.6" fill="#3a5fcf" opacity="0.9"/><circle cx="653.2" cy="1192.4" r="1.5" fill="#3a5fcf" opacity="0.9"/><circle cx="665.2" cy="1142.2" r="1.7" fill="#3a5fcf" opacity="0.9"/><circle cx="666.6" cy="1190.8" r="1.4" fill="#3a5fcf" opacity="0.9"/><circle cx="688.6" cy="1332.3" r="1.7" fill="#3a5fcf" opacity="0.9"/><circle cx="656.9" cy="1193.9" r="1.4" fill="#3a5fcf" opacity="0.9"/><circle cx="663.5" cy="1161.1" r="1.6" fill="#3a5fcf" opacity="0.9"/><circle cx="681.8" cy="1079.7" r="2.4" fill="#3a5fcf" opacity="0.9"/><circle cx="681.1" cy="1101" r="2.1" fill="#3a5fcf" opacity="0.9"/><circle cx="682" cy="1098.1" r="1.6" fill="#3a5fcf" opacity="0.9"/><circle cx="679.8" cy="1085" r="1.5" fill="#3a5fcf" opacity="0.9"/><circle cx="668.8" cy="1249.4" r="2.3" fill="#3a5fcf" opacity="0.9"/><circle cx="676.4" cy="1145" r="2.1" fill="#3a5fcf" opacity="0.9"/><circle cx="676.9" cy="1096.4" r="1.9" fill="#3a5fcf" opacity="0.9"/><circle cx="702.4" cy="1033.3" r="1.4" fill="#3a5fcf" opacity="0.9"/><circle cx="669.6" cy="1136.8" r="1.9" fill="#3a5fcf" opacity="0.9"/><circle cx="673.8" cy="1319.9" r="2.1" fill="#3a5fcf" opacity="0.9"/><circle cx="672.1" cy="1193.7" r="1.8" fill="#3a5fcf" opacity="0.9"/><circle cx="670" cy="1121.2" r="1.7" fill="#3a5fcf" opacity="0.9"/><circle cx="696.1" cy="1044.9" r="2.2" fill="#3a5fcf" opacity="0.9"/><circle cx="672.9" cy="1088.4" r="1.3" fill="#3a5fcf" opacity="0.9"/><circle cx="665.4" cy="1185.1" r="1.5" fill="#3a5fcf" opacity="0.9"/><circle cx="652.8" cy="1188.9" r="2.1" fill="#3a5fcf" opacity="0.9"/><circle cx="653.4" cy="1174.6" r="1.6" fill="#3a5fcf" opacity="0.9"/><circle cx="677" cy="1278" r="1.5" fill="#3a5fcf" opacity="0.9"/><circle cx="679.6" cy="1082.8" r="2.1" fill="#3a5fcf" opacity="0.9"/><circle cx="676.7" cy="1141" r="1.4" fill="#3a5fcf" opacity="0.9"/><circle cx="669.4" cy="1201.9" r="2.1" fill="#3a5fcf" opacity="0.9"/><circle cx="677.6" cy="1291.9" r="1.6" fill="#3a5fcf" opacity="0.9"/><circle cx="661.8" cy="1134.5" r="2.3" fill="#3a5fcf" opacity="0.9"/><circle cx="687.4" cy="1081.8" r="1.5" fill="#3a5fcf" opacity="0.9"/><circle cx="667.6" cy="1135.1" r="1.5" fill="#3a5fcf" opacity="0.9"/><circle cx="679.2" cy="1265.2" r="2.1" fill="#3a5fcf" opacity="0.9"/><circle cx="656.2" cy="1197.7" r="1.4" fill="#3a5fcf" opacity="0.9"/><circle cx="687.1" cy="1061" r="1.9" fill="#3a5fcf" opacity="0.9"/><circle cx="687.1" cy="1338" r="1.6" fill="#3a5fcf" opacity="0.9"/><circle cx="689.5" cy="1329.5" r="2" fill="#3a5fcf" opacity="0.9"/><circle cx="669.9" cy="1197.6" r="1.9" fill="#3a5fcf" opacity="0.9"/><circle cx="670.6" cy="1088.5" r="1.6" fill="#3a5fcf" opacity="0.9"/><circle cx="700.6" cy="1027.5" r="2.1" fill="#3a5fcf" opacity="0.9"/><circle cx="674.5" cy="1109.7" r="1.7" fill="#3a5fcf" opacity="0.9"/><circle cx="687" cy="1323.3" r="2.1" fill="#3a5fcf" opacity="0.9"/><circle cx="652.3" cy="1190.1" r="1.9" fill="#3a5fcf" opacity="0.9"/><circle cx="656.8" cy="1216.7" r="2.3" fill="#3a5fcf" opacity="0.9"/><circle cx="674.2" cy="1155.8" r="2.2" fill="#3a5fcf" opacity="0.9"/><circle cx="675.9" cy="1077.5" r="1.8" fill="#3a5fcf" opacity="0.9"/><circle cx="683.2" cy="1315.9" r="2.4" fill="#3a5fcf" opacity="0.9"/><circle cx="681.4" cy="1112.5" r="1.4" fill="#3a5fcf" opacity="0.9"/><circle cx="691.7" cy="1333.3" r="1.4" fill="#3a5fcf" opacity="0.9"/><circle cx="680" cy="1307.3" r="1.5" fill="#3a5fcf" opacity="0.9"/><circle cx="672.2" cy="1194" r="1.4" fill="#3a5fcf" opacity="0.9"/><circle cx="682.7" cy="1096.7" r="1.4" fill="#3a5fcf" opacity="0.9"/><circle cx="689.2" cy="1079.6" r="1.9" fill="#3a5fcf" opacity="0.9"/><circle cx="679.2" cy="1313.6" r="2.4" fill="#3a5fcf" opacity="0.9"/><circle cx="681" cy="1089.7" r="2.2" fill="#3a5fcf" opacity="0.9"/><circle cx="673.9" cy="1233.2" r="2.1" fill="#3a5fcf" opacity="0.9"/><circle cx="666.1" cy="1175.7" r="1.4" fill="#3a5fcf" opacity="0.9"/><circle cx="671.2" cy="1206.9" r="1.7" fill="#3a5fcf" opacity="0.9"/><circle cx="681.2" cy="1325.6" r="1.8" fill="#3a5fcf" opacity="0.9"/><circle cx="683.1" cy="1057.9" r="1.7" fill="#3a5fcf" opacity="0.9"/><circle cx="653.5" cy="1194.8" r="2" fill="#3a5fcf" opacity="0.9"/><circle cx="681" cy="1068.4" r="1.4" fill="#3a5fcf" opacity="0.9"/><circle cx="682.8" cy="1109.4" r="2" fill="#3a5fcf" opacity="0.9"/><circle cx="674.8" cy="1161.2" r="1.7" fill="#3a5fcf" opacity="0.9"/><circle cx="674.8" cy="1231.6" r="1.6" fill="#3a5fcf" opacity="0.9"/><circle cx="664.6" cy="1194.6" r="1.5" fill="#3a5fcf" opacity="0.9"/><circle cx="679" cy="1106.8" r="2" fill="#3a5fcf" opacity="0.9"/><circle cx="669.8" cy="1167.8" r="1.4" fill="#3a5fcf" opacity="0.9"/><circle cx="671.7" cy="1186.6" r="1.4" fill="#3a5fcf" opacity="0.9"/><circle cx="700.4" cy="1030.5" r="1.5" fill="#3a5fcf" opacity="0.9"/><circle cx="696.2" cy="1035.5" r="2.3" fill="#3a5fcf" opacity="0.9"/><circle cx="658" cy="1247" r="2.4" fill="#3a5fcf" opacity="0.9"/><circle cx="672.9" cy="1098" r="1.8" fill="#3a5fcf" opacity="0.9"/><circle cx="669.5" cy="1298.7" r="2.4" fill="#3a5fcf" opacity="0.9"/><circle cx="673.4" cy="1169.1" r="1.5" fill="#3a5fcf" opacity="0.9"/><circle cx="670.1" cy="1292.7" r="1.7" fill="#3a5fcf" opacity="0.9"/><circle cx="661.4" cy="1136.8" r="2.1" fill="#3a5fcf" opacity="0.9"/><circle cx="665" cy="1285.1" r="2.5" fill="#3a5fcf" opacity="0.9"/><circle cx="672.2" cy="1162.4" r="2.2" fill="#3a5fcf" opacity="0.9"/><circle cx="663.9" cy="1169.3" r="2.2" fill="#3a5fcf" opacity="0.9"/><circle cx="684.2" cy="1336.5" r="1.5" fill="#3a5fcf" opacity="0.9"/><circle cx="678.1" cy="1254.6" r="1.8" fill="#3a5fcf" opacity="0.9"/><circle cx="659.6" cy="1189.1" r="2.5" fill="#3a5fcf" opacity="0.9"/><circle cx="667" cy="1217.8" r="1.6" fill="#3a5fcf" opacity="0.9"/><circle cx="692.4" cy="1321.7" r="2" fill="#3a5fcf" opacity="0.9"/><circle cx="675" cy="1305.3" r="1.9" fill="#3a5fcf" opacity="0.9"/><circle cx="688.9" cy="1346.7" r="1.4" fill="#3a5fcf" opacity="0.9"/><circle cx="691" cy="1314.5" r="1.6" fill="#3a5fcf" opacity="0.9"/><circle cx="695.9" cy="1336.3" r="1.9" fill="#3a5fcf" opacity="0.9"/><circle cx="681.2" cy="1304.6" r="1.7" fill="#3a5fcf" opacity="0.9"/><circle cx="670.8" cy="1087.8" r="1.9" fill="#3a5fcf" opacity="0.9"/><circle cx="673.6" cy="1068.6" r="1.6" fill="#3a5fcf" opacity="0.9"/><circle cx="683.2" cy="1328.1" r="1.8" fill="#3a5fcf" opacity="0.9"/><circle cx="675.4" cy="1264.8" r="2.1" fill="#3a5fcf" opacity="0.9"/><circle cx="676.4" cy="1090.3" r="2" fill="#3a5fcf" opacity="0.9"/><circle cx="656.2" cy="1169" r="2.2" fill="#3a5fcf" opacity="0.9"/><circle cx="675.1" cy="1077" r="1.7" fill="#3a5fcf" opacity="0.9"/><circle cx="669.4" cy="1308" r="1.5" fill="#3a5fcf" opacity="0.9"/><circle cx="676.9" cy="1142.1" r="2.3" fill="#3a5fcf" opacity="0.9"/><circle cx="673.7" cy="1237.2" r="2.4" fill="#3a5fcf" opacity="0.9"/><circle cx="676.1" cy="1131.4" r="2.5" fill="#3a5fcf" opacity="0.9"/><circle cx="685.4" cy="1298.8" r="2.4" fill="#3a5fcf" opacity="0.9"/><circle cx="691.1" cy="1357.5" r="1.9" fill="#3a5fcf" opacity="0.9"/><circle cx="673" cy="1221.1" r="2.1" fill="#3a5fcf" opacity="0.9"/><circle cx="690.3" cy="1352.8" r="1.6" fill="#3a5fcf" opacity="0.9"/><circle cx="662.3" cy="1247" r="1.5" fill="#3a5fcf" opacity="0.9"/><circle cx="700.2" cy="1345.1" r="1.4" fill="#3a5fcf" opacity="0.9"/><circle cx="672.3" cy="1118.9" r="2" fill="#3a5fcf" opacity="0.9"/><circle cx="689.2" cy="1353.2" r="2.2" fill="#3a5fcf" opacity="0.9"/><circle cx="663.8" cy="1248.2" r="1.4" fill="#3a5fcf" opacity="0.9"/><circle cx="670.8" cy="1271.3" r="2.1" fill="#3a5fcf" opacity="0.9"/><circle cx="674.1" cy="1212.7" r="2" fill="#3a5fcf" opacity="0.9"/><circle cx="689.7" cy="1312.4" r="2.1" fill="#3a5fcf" opacity="0.9"/><circle cx="688.1" cy="1312.2" r="1.9" fill="#3a5fcf" opacity="0.9"/><circle cx="657.3" cy="1203.1" r="1.8" fill="#3a5fcf" opacity="0.9"/><circle cx="684.5" cy="1306.5" r="2.5" fill="#3a5fcf" opacity="0.9"/><circle cx="676" cy="1278.8" r="2.2" fill="#3a5fcf" opacity="0.9"/><circle cx="673.7" cy="1284" r="2.2" fill="#3a5fcf" opacity="0.9"/><circle cx="661.1" cy="1271.8" r="2.3" fill="#3a5fcf" opacity="0.9"/><circle cx="660.9" cy="1223.8" r="1.7" fill="#3a5fcf" opacity="0.9"/><circle cx="671.3" cy="1111.2" r="1.6" fill="#3a5fcf" opacity="0.9"/><circle cx="682.3" cy="1282.8" r="1.8" fill="#3a5fcf" opacity="0.9"/><circle cx="661.7" cy="1213.3" r="1.7" fill="#3a5fcf" opacity="0.9"/><circle cx="671.3" cy="1109.5" r="2.3" fill="#3a5fcf" opacity="0.9"/><circle cx="692.7" cy="1344.6" r="1.7" fill="#3a5fcf" opacity="0.9"/><circle cx="655.3" cy="1214.3" r="2" fill="#3a5fcf" opacity="0.9"/><circle cx="704.1" cy="1028.4" r="1.9" fill="#3a5fcf" opacity="0.9"/><circle cx="675.8" cy="1064.2" r="1.8" fill="#3a5fcf" opacity="0.9"/><circle cx="672.3" cy="1215.3" r="1.7" fill="#3a5fcf" opacity="0.9"/><circle cx="689.2" cy="1047.3" r="2.3" fill="#3a5fcf" opacity="0.9"/><circle cx="708.1" cy="1026.7" r="1.5" fill="#3a5fcf" opacity="0.9"/><circle cx="664" cy="1121.5" r="2.3" fill="#3a5fcf" opacity="0.9"/><circle cx="693.5" cy="1346.3" r="1.5" fill="#3a5fcf" opacity="0.9"/><circle cx="681.7" cy="1321.3" r="2" fill="#3a5fcf" opacity="0.9"/><circle cx="678.9" cy="1118.4" r="1.8" fill="#3a5fcf" opacity="0.9"/><circle cx="672.3" cy="1169.4" r="1.7" fill="#3a5fcf" opacity="0.9"/><circle cx="690.2" cy="1064.1" r="1.6" fill="#3a5fcf" opacity="0.9"/><circle cx="661.2" cy="1143.7" r="1.9" fill="#3a5fcf" opacity="0.9"/><circle cx="667" cy="1224.1" r="2.2" fill="#3a5fcf" opacity="0.9"/><circle cx="685.8" cy="1050.2" r="2" fill="#3a5fcf" opacity="0.9"/><circle cx="657.4" cy="1231.4" r="2" fill="#3a5fcf" opacity="0.9"/><circle cx="673.1" cy="1225.2" r="1.7" fill="#3a5fcf" opacity="0.9"/><circle cx="690.2" cy="1311.8" r="1.4" fill="#3a5fcf" opacity="0.9"/><circle cx="671.3" cy="1079.2" r="1.8" fill="#3a5fcf" opacity="0.9"/><circle cx="695.9" cy="1340.1" r="1.4" fill="#3a5fcf" opacity="0.9"/><circle cx="677.2" cy="1272.4" r="1.4" fill="#3a5fcf" opacity="0.9"/><circle cx="665.8" cy="1136.1" r="2.4" fill="#3a5fcf" opacity="0.9"/><circle cx="661.9" cy="1173.3" r="1.4" fill="#3a5fcf" opacity="0.9"/><circle cx="666.8" cy="1121.4" r="1.4" fill="#3a5fcf" opacity="0.9"/><circle cx="679.4" cy="1125" r="2.2" fill="#3a5fcf" opacity="0.9"/><circle cx="660.5" cy="1198.4" r="1.7" fill="#3a5fcf" opacity="0.9"/><circle cx="663" cy="1206.3" r="1.8" fill="#3a5fcf" opacity="0.9"/><circle cx="693.9" cy="1064.9" r="2.3" fill="#3a5fcf" opacity="0.9"/><circle cx="662" cy="1231.7" r="2.1" fill="#3a5fcf" opacity="0.9"/><circle cx="674.7" cy="1164.4" r="2.4" fill="#3a5fcf" opacity="0.9"/><circle cx="662.8" cy="1114.2" r="1.5" fill="#3a5fcf" opacity="0.9"/><circle cx="686.5" cy="1328.6" r="1.5" fill="#3a5fcf" opacity="0.9"/><circle cx="671.5" cy="1102.7" r="2.4" fill="#3a5fcf" opacity="0.9"/><circle cx="662.9" cy="1168.3" r="2.3" fill="#3a5fcf" opacity="0.9"/><circle cx="709.9" cy="1018.4" r="1.6" fill="#3a5fcf" opacity="0.9"/><circle cx="664.8" cy="1263.9" r="2.4" fill="#3a5fcf" opacity="0.9"/><circle cx="658.4" cy="1146.3" r="1.5" fill="#3a5fcf" opacity="0.9"/><circle cx="672.5" cy="1307.7" r="2.2" fill="#3a5fcf" opacity="0.9"/><circle cx="653.3" cy="1213.9" r="2.3" fill="#3a5fcf" opacity="0.9"/><circle cx="700.8" cy="1019.6" r="1.6" fill="#3a5fcf" opacity="0.9"/><circle cx="669.7" cy="1125.4" r="2.2" fill="#3a5fcf" opacity="0.9"/><circle cx="696.3" cy="1332.2" r="1.8" fill="#3a5fcf" opacity="0.9"/><circle cx="684.9" cy="1061" r="1.5" fill="#3a5fcf" opacity="0.9"/><circle cx="662" cy="1221.8" r="1.7" fill="#3a5fcf" opacity="0.9"/><circle cx="662.3" cy="1239.4" r="2.5" fill="#3a5fcf" opacity="0.9"/><circle cx="668.7" cy="1257.8" r="2" fill="#3a5fcf" opacity="0.9"/><circle cx="705.7" cy="1021" r="2.3" fill="#3a5fcf" opacity="0.9"/><circle cx="665.6" cy="1153.3" r="1.3" fill="#3a5fcf" opacity="0.9"/><circle cx="654.4" cy="1185.8" r="1.9" fill="#3a5fcf" opacity="0.9"/><circle cx="694.2" cy="1048.1" r="1.6" fill="#3a5fcf" opacity="0.9"/><circle cx="664.1" cy="1240.7" r="1.8" fill="#3a5fcf" opacity="0.9"/><circle cx="656.3" cy="1201.3" r="2.4" fill="#3a5fcf" opacity="0.9"/><circle cx="664.8" cy="1215.2" r="1.9" fill="#3a5fcf" opacity="0.9"/><circle cx="656.3" cy="1183.4" r="2.5" fill="#3a5fcf" opacity="0.9"/><circle cx="679.9" cy="1091.9" r="1.8" fill="#3a5fcf" opacity="0.9"/><circle cx="659.8" cy="1191.3" r="2" fill="#3a5fcf" opacity="0.9"/><circle cx="684.4" cy="1330.6" r="1.6" fill="#3a5fcf" opacity="0.9"/><circle cx="681.9" cy="1099.1" r="1.7" fill="#3a5fcf" opacity="0.9"/><circle cx="671.6" cy="1154.4" r="1.3" fill="#3a5fcf" opacity="0.9"/><circle cx="655.8" cy="1160.3" r="2.2" fill="#3a5fcf" opacity="0.9"/><circle cx="661.9" cy="1150.5" r="2.2" fill="#3a5fcf" opacity="0.9"/><circle cx="662.2" cy="1213.1" r="1.5" fill="#3a5fcf" opacity="0.9"/><circle cx="656.6" cy="1172.5" r="1.8" fill="#3a5fcf" opacity="0.9"/><circle cx="680.6" cy="1051.2" r="1.7" fill="#3a5fcf" opacity="0.9"/><circle cx="666.7" cy="1234.3" r="1.3" fill="#3a5fcf" opacity="0.9"/><circle cx="660.1" cy="1263.6" r="2.3" fill="#3a5fcf" opacity="0.9"/><circle cx="680" cy="1096.5" r="2" fill="#3a5fcf" opacity="0.9"/><circle cx="669.7" cy="1222.8" r="2" fill="#3a5fcf" opacity="0.9"/><circle cx="689.8" cy="1329.1" r="2.2" fill="#3a5fcf" opacity="0.9"/><circle cx="682.5" cy="1339.6" r="1.7" fill="#3a5fcf" opacity="0.9"/><circle cx="662.9" cy="1262" r="1.5" fill="#3a5fcf" opacity="0.9"/><circle cx="683.9" cy="1286.8" r="2.3" fill="#3a5fcf" opacity="0.9"/><circle cx="682.5" cy="1310.3" r="2.5" fill="#3a5fcf" opacity="0.9"/><circle cx="677" cy="1124.7" r="1.9" fill="#3a5fcf" opacity="0.9"/><circle cx="710" cy="1018.7" r="1.8" fill="#3a5fcf" opacity="0.9"/><circle cx="678.6" cy="1105.7" r="1.9" fill="#3a5fcf" opacity="0.9"/><circle cx="695.8" cy="1043.5" r="2.1" fill="#3a5fcf" opacity="0.9"/><circle cx="675.2" cy="1235.9" r="2" fill="#3a5fcf" opacity="0.9"/><circle cx="672.7" cy="1259.4" r="2" fill="#3a5fcf" opacity="0.9"/><circle cx="681.2" cy="1327.5" r="1.7" fill="#3a5fcf" opacity="0.9"/><circle cx="705.8" cy="1026.3" r="1.3" fill="#3a5fcf" opacity="0.9"/><circle cx="704.9" cy="1034.8" r="2" fill="#3a5fcf" opacity="0.9"/><circle cx="665.9" cy="1197.9" r="2" fill="#3a5fcf" opacity="0.9"/><circle cx="669.1" cy="1133" r="1.6" fill="#3a5fcf" opacity="0.9"/><circle cx="680.3" cy="1051.3" r="2.2" fill="#3a5fcf" opacity="0.9"/><circle cx="666.6" cy="1284.5" r="1.8" fill="#3a5fcf" opacity="0.9"/><circle cx="683.1" cy="1098.3" r="2.2" fill="#3a5fcf" opacity="0.9"/><circle cx="666.5" cy="1293.1" r="1.7" fill="#3a5fcf" opacity="0.9"/><circle cx="678.5" cy="1296.7" r="2.2" fill="#3a5fcf" opacity="0.9"/><circle cx="672.9" cy="1103.3" r="2" fill="#3a5fcf" opacity="0.9"/><circle cx="685.4" cy="1296.5" r="2.5" fill="#3a5fcf" opacity="0.9"/><circle cx="656" cy="1202.5" r="1.4" fill="#3a5fcf" opacity="0.9"/><circle cx="668.3" cy="1289.3" r="1.7" fill="#3a5fcf" opacity="0.9"/><circle cx="658.1" cy="1156.8" r="1.7" fill="#3a5fcf" opacity="0.9"/><circle cx="676.5" cy="1083.5" r="2.3" fill="#3a5fcf" opacity="0.9"/><circle cx="672.4" cy="1203.2" r="1.8" fill="#3a5fcf" opacity="0.9"/><circle cx="661.4" cy="1219.4" r="2.2" fill="#3a5fcf" opacity="0.9"/><circle cx="658.2" cy="1261" r="1.3" fill="#3a5fcf" opacity="0.9"/><circle cx="684" cy="1305.7" r="1.4" fill="#3a5fcf" opacity="0.9"/><circle cx="679.9" cy="1107.6" r="1.4" fill="#3a5fcf" opacity="0.9"/><circle cx="654.6" cy="1171.4" r="2.1" fill="#3a5fcf" opacity="0.9"/><circle cx="682.8" cy="1096" r="1.4" fill="#3a5fcf" opacity="0.9"/><circle cx="673.2" cy="1216.8" r="1.8" fill="#3a5fcf" opacity="0.9"/><circle cx="687.8" cy="1356.3" r="2.3" fill="#3a5fcf" opacity="0.9"/><circle cx="672.3" cy="1178.1" r="1.8" fill="#3a5fcf" opacity="0.9"/><circle cx="664.9" cy="1170.3" r="2.1" fill="#3a5fcf" opacity="0.9"/><circle cx="689.9" cy="1050.9" r="1.9" fill="#3a5fcf" opacity="0.9"/><circle cx="700" cy="1042.9" r="2.3" fill="#3a5fcf" opacity="0.9"/><circle cx="688.4" cy="1308" r="2.1" fill="#3a5fcf" opacity="0.9"/><circle cx="654.4" cy="1158.2" r="1.8" fill="#3a5fcf" opacity="0.9"/><circle cx="677.9" cy="1064.5" r="1.9" fill="#3a5fcf" opacity="0.9"/><circle cx="693.3" cy="1334.1" r="1.4" fill="#3a5fcf" opacity="0.9"/><circle cx="655.8" cy="1222" r="1.5" fill="#3a5fcf" opacity="0.9"/><circle cx="665.9" cy="1144.6" r="2.3" fill="#3a5fcf" opacity="0.9"/><circle cx="677.9" cy="1098.5" r="2.3" fill="#3a5fcf" opacity="0.9"/><circle cx="681.4" cy="1309.9" r="1.9" fill="#3a5fcf" opacity="0.9"/><circle cx="657.8" cy="1201.2" r="1.5" fill="#3a5fcf" opacity="0.9"/><circle cx="669.5" cy="1095.4" r="1.7" fill="#3a5fcf" opacity="0.9"/><circle cx="701.5" cy="1042.2" r="1.5" fill="#3a5fcf" opacity="0.9"/><circle cx="653.3" cy="1175.2" r="2.4" fill="#3a5fcf" opacity="0.9"/><circle cx="667.5" cy="1177.3" r="2" fill="#3a5fcf" opacity="0.9"/><circle cx="671.4" cy="1195.2" r="2.5" fill="#3a5fcf" opacity="0.9"/><circle cx="697" cy="1337.5" r="2.2" fill="#3a5fcf" opacity="0.9"/><circle cx="673.3" cy="1135" r="1.6" fill="#3a5fcf" opacity="0.9"/><circle cx="673.6" cy="1238.8" r="2.4" fill="#3a5fcf" opacity="0.9"/><circle cx="670.1" cy="1086.6" r="2.4" fill="#3a5fcf" opacity="0.9"/><circle cx="687.1" cy="1343" r="2.3" fill="#3a5fcf" opacity="0.9"/><circle cx="696" cy="1037.7" r="1.3" fill="#3a5fcf" opacity="0.9"/><circle cx="658.7" cy="1258.5" r="1.3" fill="#3a5fcf" opacity="0.9"/><circle cx="682.3" cy="1344.9" r="2.3" fill="#3a5fcf" opacity="0.9"/><circle cx="675.4" cy="1271.7" r="2.3" fill="#3a5fcf" opacity="0.9"/><circle cx="702.3" cy="1023.6" r="2" fill="#3a5fcf" opacity="0.9"/><circle cx="663.6" cy="1171.5" r="1.5" fill="#3a5fcf" opacity="0.9"/><circle cx="674.3" cy="1301.5" r="1.9" fill="#3a5fcf" opacity="0.9"/><circle cx="658.7" cy="1212.2" r="2.3" fill="#3a5fcf" opacity="0.9"/><circle cx="669.9" cy="1177.2" r="2.4" fill="#3a5fcf" opacity="0.9"/><circle cx="699.9" cy="1024.1" r="1.4" fill="#3a5fcf" opacity="0.9"/><circle cx="658.8" cy="1168.2" r="1.9" fill="#3a5fcf" opacity="0.9"/><circle cx="674.7" cy="1309.3" r="1.9" fill="#3a5fcf" opacity="0.9"/><circle cx="686.9" cy="1302.7" r="2.4" fill="#3a5fcf" opacity="0.9"/><circle cx="676.6" cy="1109.4" r="2.4" fill="#3a5fcf" opacity="0.9"/><circle cx="661.9" cy="1198.7" r="2.4" fill="#3a5fcf" opacity="0.9"/><circle cx="673" cy="1152.5" r="2.1" fill="#3a5fcf" opacity="0.9"/><circle cx="661.5" cy="1224.6" r="1.9" fill="#3a5fcf" opacity="0.9"/><circle cx="657.5" cy="1254" r="2" fill="#3a5fcf" opacity="0.9"/><circle cx="682.8" cy="1074.2" r="2.1" fill="#3a5fcf" opacity="0.9"/><circle cx="675.6" cy="1233.7" r="1.5" fill="#3a5fcf" opacity="0.9"/><circle cx="683.4" cy="1097.2" r="2.5" fill="#3a5fcf" opacity="0.9"/><circle cx="658.3" cy="1151.1" r="1.7" fill="#3a5fcf" opacity="0.9"/><circle cx="668" cy="1244.2" r="2.3" fill="#3a5fcf" opacity="0.9"/><circle cx="684.1" cy="1085.7" r="1.3" fill="#3a5fcf" opacity="0.9"/><circle cx="667.9" cy="1086.8" r="1.5" fill="#3a5fcf" opacity="0.9"/><circle cx="654.4" cy="1171.2" r="1.6" fill="#3a5fcf" opacity="0.9"/><circle cx="703" cy="1032" r="1.8" fill="#3a5fcf" opacity="0.9"/><circle cx="666.7" cy="1096.1" r="1.8" fill="#3a5fcf" opacity="0.9"/><circle cx="698.8" cy="1049" r="1.9" fill="#3a5fcf" opacity="0.9"/><circle cx="655.9" cy="1183.3" r="1.4" fill="#3a5fcf" opacity="0.9"/><circle cx="677.8" cy="1253.9" r="1.3" fill="#3a5fcf" opacity="0.9"/><circle cx="678.8" cy="1060.6" r="1.9" fill="#3a5fcf" opacity="0.9"/><circle cx="668.2" cy="1229.1" r="1.6" fill="#3a5fcf" opacity="0.9"/><circle cx="666.1" cy="1135.4" r="1.7" fill="#3a5fcf" opacity="0.9"/><circle cx="652.5" cy="1173.5" r="1.8" fill="#3a5fcf" opacity="0.9"/><circle cx="693.9" cy="1345.2" r="2.3" fill="#3a5fcf" opacity="0.9"/><circle cx="683.8" cy="1092.1" r="1.7" fill="#3a5fcf" opacity="0.9"/><circle cx="682.7" cy="1325.6" r="2" fill="#3a5fcf" opacity="0.9"/><circle cx="674.4" cy="1286.7" r="2.1" fill="#3a5fcf" opacity="0.9"/><circle cx="670.6" cy="1267.5" r="2.2" fill="#3a5fcf" opacity="0.9"/><circle cx="688.4" cy="1043" r="2.2" fill="#3a5fcf" opacity="0.9"/><circle cx="658.4" cy="1235.7" r="1.5" fill="#3a5fcf" opacity="0.9"/><circle cx="683" cy="1072.5" r="1.7" fill="#3a5fcf" opacity="0.9"/><circle cx="678.3" cy="1296.5" r="2.3" fill="#3a5fcf" opacity="0.9"/><circle cx="660.1" cy="1251.1" r="1.5" fill="#3a5fcf" opacity="0.9"/><circle cx="678.3" cy="1107.5" r="1.5" fill="#3a5fcf" opacity="0.9"/><circle cx="669.2" cy="1189.8" r="2" fill="#3a5fcf" opacity="0.9"/><circle cx="664.3" cy="1243.3" r="1.4" fill="#3a5fcf" opacity="0.9"/><circle cx="661.5" cy="1178.4" r="2.3" fill="#3a5fcf" opacity="0.9"/><circle cx="672.5" cy="1182.6" r="2.4" fill="#3a5fcf" opacity="0.9"/><circle cx="652.9" cy="1172.2" r="1.3" fill="#3a5fcf" opacity="0.9"/><circle cx="680.6" cy="1080.6" r="1.5" fill="#3a5fcf" opacity="0.9"/><circle cx="658.2" cy="1222.8" r="1.9" fill="#3a5fcf" opacity="0.9"/><circle cx="673.9" cy="1241.7" r="2" fill="#3a5fcf" opacity="0.9"/><circle cx="684.3" cy="1305.4" r="2.4" fill="#3a5fcf" opacity="0.9"/><circle cx="690.1" cy="1057.3" r="1.4" fill="#3a5fcf" opacity="0.9"/><circle cx="653.1" cy="1209.6" r="2.4" fill="#3a5fcf" opacity="0.9"/><circle cx="699.4" cy="1350.5" r="1.5" fill="#3a5fcf" opacity="0.9"/><circle cx="674.5" cy="1155.8" r="1.8" fill="#3a5fcf" opacity="0.9"/><circle cx="677.4" cy="1104" r="1.8" fill="#3a5fcf" opacity="0.9"/><circle cx="671.8" cy="1198.3" r="2.3" fill="#3a5fcf" opacity="0.9"/><circle cx="681.4" cy="1069" r="1.5" fill="#3a5fcf" opacity="0.9"/><circle cx="670.2" cy="1283.2" r="2.5" fill="#3a5fcf" opacity="0.9"/><circle cx="653.3" cy="1185.8" r="1.5" fill="#3a5fcf" opacity="0.9"/><circle cx="683.7" cy="1080.9" r="1.9" fill="#3a5fcf" opacity="0.9"/><circle cx="673.2" cy="1254.1" r="2.1" fill="#3a5fcf" opacity="0.9"/><circle cx="702.5" cy="1350.3" r="2.4" fill="#3a5fcf" opacity="0.9"/><circle cx="701.5" cy="1024.1" r="2" fill="#3a5fcf" opacity="0.9"/><circle cx="687.2" cy="1344" r="1.4" fill="#3a5fcf" opacity="0.9"/><circle cx="657.2" cy="1143.8" r="1.8" fill="#3a5fcf" opacity="0.9"/><circle cx="695.9" cy="1345.6" r="2.2" fill="#3a5fcf" opacity="0.9"/><circle cx="663.8" cy="1210.2" r="2.5" fill="#3a5fcf" opacity="0.9"/><circle cx="676" cy="1253.7" r="2.1" fill="#3a5fcf" opacity="0.9"/><circle cx="680.1" cy="1327.3" r="2.4" fill="#3a5fcf" opacity="0.9"/><circle cx="703" cy="1033.2" r="1.5" fill="#3a5fcf" opacity="0.9"/><circle cx="685.6" cy="1073.9" r="2.4" fill="#3a5fcf" opacity="0.9"/><circle cx="666.9" cy="1164.4" r="2.2" fill="#3a5fcf" opacity="0.9"/><circle cx="692.2" cy="1042.5" r="1.8" fill="#3a5fcf" opacity="0.9"/><circle cx="678.4" cy="1109.2" r="2.5" fill="#3a5fcf" opacity="0.9"/><circle cx="660.1" cy="1166.6" r="2.2" fill="#3a5fcf" opacity="0.9"/><circle cx="677.6" cy="1311.7" r="1.4" fill="#3a5fcf" opacity="0.9"/><circle cx="665" cy="1187.2" r="2.1" fill="#3a5fcf" opacity="0.9"/><circle cx="675.7" cy="1073.7" r="1.7" fill="#3a5fcf" opacity="0.9"/><circle cx="673.3" cy="1184.4" r="2.4" fill="#3a5fcf" opacity="0.9"/><circle cx="653.7" cy="1167.4" r="1.9" fill="#3a5fcf" opacity="0.9"/><circle cx="677.1" cy="1112.2" r="2" fill="#3a5fcf" opacity="0.9"/><circle cx="662.5" cy="1173.9" r="1.4" fill="#3a5fcf" opacity="0.9"/><circle cx="675.4" cy="1142.7" r="2.2" fill="#3a5fcf" opacity="0.9"/><circle cx="672.8" cy="1127" r="2" fill="#3a5fcf" opacity="0.9"/><circle cx="684.7" cy="1297" r="2.5" fill="#3a5fcf" opacity="0.9"/><circle cx="691.7" cy="1325.9" r="1.7" fill="#3a5fcf" opacity="0.9"/><circle cx="685.8" cy="1062.4" r="2" fill="#3a5fcf" opacity="0.9"/><circle cx="673.5" cy="1194.6" r="2" fill="#3a5fcf" opacity="0.9"/><circle cx="684.6" cy="1302.3" r="2.1" fill="#3a5fcf" opacity="0.9"/><circle cx="677.7" cy="1262.9" r="2.5" fill="#3a5fcf" opacity="0.9"/><circle cx="655" cy="1210" r="1.7" fill="#3a5fcf" opacity="0.9"/><circle cx="666.8" cy="1159.6" r="1.8" fill="#3a5fcf" opacity="0.9"/><circle cx="671.2" cy="1189.6" r="1.9" fill="#3a5fcf" opacity="0.9"/><circle cx="677.4" cy="1097.1" r="1.5" fill="#3a5fcf" opacity="0.9"/><circle cx="671.1" cy="1270.5" r="2.4" fill="#3a5fcf" opacity="0.9"/><circle cx="656.1" cy="1177.5" r="2.5" fill="#3a5fcf" opacity="0.9"/><circle cx="660.3" cy="1189.9" r="1.6" fill="#3a5fcf" opacity="0.9"/><circle cx="692.7" cy="1042.1" r="1.4" fill="#3a5fcf" opacity="0.9"/><circle cx="670.9" cy="1185.4" r="1.4" fill="#3a5fcf" opacity="0.9"/><circle cx="686" cy="1316.1" r="2.3" fill="#3a5fcf" opacity="0.9"/><circle cx="693.9" cy="1328.1" r="2.3" fill="#3a5fcf" opacity="0.9"/><circle cx="675.6" cy="1255.4" r="1.9" fill="#3a5fcf" opacity="0.9"/><circle cx="671.7" cy="1222.7" r="1.6" fill="#3a5fcf" opacity="0.9"/><circle cx="707.2" cy="1020.1" r="2.2" fill="#3a5fcf" opacity="0.9"/><circle cx="676.5" cy="1265" r="2.3" fill="#3a5fcf" opacity="0.9"/><circle cx="680.7" cy="1114.7" r="1.6" fill="#3a5fcf" opacity="0.9"/><circle cx="685.9" cy="1307.9" r="2.1" fill="#3a5fcf" opacity="0.9"/><circle cx="684" cy="1328.1" r="2" fill="#3a5fcf" opacity="0.9"/><circle cx="676.9" cy="1328.9" r="1.5" fill="#3a5fcf" opacity="0.9"/><circle cx="709" cy="1021.2" r="2.2" fill="#3a5fcf" opacity="0.9"/><circle cx="674.1" cy="1135.2" r="2.4" fill="#3a5fcf" opacity="0.9"/><circle cx="701.8" cy="1035.5" r="1.9" fill="#3a5fcf" opacity="0.9"/><circle cx="682.3" cy="1096.3" r="1.5" fill="#3a5fcf" opacity="0.9"/><circle cx="665.7" cy="1283" r="1.4" fill="#3a5fcf" opacity="0.9"/><circle cx="664.1" cy="1101.9" r="1.6" fill="#3a5fcf" opacity="0.9"/><circle cx="688.9" cy="1313.8" r="1.7" fill="#3a5fcf" opacity="0.9"/><circle cx="673.3" cy="1128.1" r="1.5" fill="#3a5fcf" opacity="0.9"/><circle cx="673.8" cy="1070.1" r="1.8" fill="#3a5fcf" opacity="0.9"/><circle cx="674.5" cy="1280.6" r="1.4" fill="#3a5fcf" opacity="0.9"/><circle cx="681.2" cy="1046.2" r="1.5" fill="#3a5fcf" opacity="0.9"/><circle cx="679.5" cy="1269.7" r="1.6" fill="#3a5fcf" opacity="0.9"/><circle cx="667" cy="1128" r="2.2" fill="#3a5fcf" opacity="0.9"/><circle cx="693.1" cy="1346.1" r="1.4" fill="#3a5fcf" opacity="0.9"/><circle cx="661.6" cy="1255.1" r="1.5" fill="#3a5fcf" opacity="0.9"/><circle cx="665.6" cy="1190.9" r="2.2" fill="#3a5fcf" opacity="0.9"/><circle cx="686.8" cy="1302.3" r="1.7" fill="#3a5fcf" opacity="0.9"/><circle cx="694.5" cy="1047.2" r="1.7" fill="#3a5fcf" opacity="0.9"/><circle cx="674.7" cy="1098" r="2" fill="#3a5fcf" opacity="0.9"/><circle cx="702.3" cy="1033.9" r="1.7" fill="#3a5fcf" opacity="0.9"/><circle cx="659.1" cy="1230.9" r="2.3" fill="#3a5fcf" opacity="0.9"/><circle cx="697.3" cy="1343.2" r="1.9" fill="#3a5fcf" opacity="0.9"/><circle cx="674.2" cy="1090.9" r="1.3" fill="#3a5fcf" opacity="0.9"/><circle cx="680.6" cy="1063.6" r="2.1" fill="#3a5fcf" opacity="0.9"/><circle cx="699.9" cy="1343.7" r="1.5" fill="#3a5fcf" opacity="0.9"/><circle cx="671.4" cy="1213.1" r="2.4" fill="#3a5fcf" opacity="0.9"/><circle cx="694.8" cy="1049.9" r="1.6" fill="#3a5fcf" opacity="0.9"/><circle cx="688.5" cy="1351.7" r="1.5" fill="#3a5fcf" opacity="0.9"/><circle cx="682.1" cy="1084.5" r="1.9" fill="#3a5fcf" opacity="0.9"/><circle cx="706.2" cy="1030.5" r="1.5" fill="#3a5fcf" opacity="0.9"/><circle cx="696" cy="1034.9" r="1.6" fill="#3a5fcf" opacity="0.9"/><circle cx="674.1" cy="1266.9" r="1.8" fill="#3a5fcf" opacity="0.9"/><circle cx="673.9" cy="1180" r="2.4" fill="#3a5fcf" opacity="0.9"/><circle cx="697.7" cy="1041.8" r="1.4" fill="#3a5fcf" opacity="0.9"/><circle cx="669.4" cy="1248.6" r="1.8" fill="#3a5fcf" opacity="0.9"/><circle cx="667.7" cy="1222.8" r="1.4" fill="#3a5fcf" opacity="0.9"/><circle cx="678" cy="1303.8" r="1.3" fill="#3a5fcf" opacity="0.9"/><circle cx="676.3" cy="1069.1" r="1.6" fill="#3a5fcf" opacity="0.9"/><circle cx="665" cy="1199.5" r="2.3" fill="#3a5fcf" opacity="0.9"/><circle cx="694.3" cy="1328.1" r="1.4" fill="#3a5fcf" opacity="0.9"/><circle cx="695.1" cy="1062.5" r="2.3" fill="#3a5fcf" opacity="0.9"/><circle cx="659.8" cy="1148.9" r="1.6" fill="#3a5fcf" opacity="0.9"/><circle cx="677.5" cy="1130" r="1.7" fill="#3a5fcf" opacity="0.9"/><circle cx="671.4" cy="1249" r="1.7" fill="#3a5fcf" opacity="0.9"/><circle cx="662.7" cy="1217.4" r="1.3" fill="#3a5fcf" opacity="0.9"/><circle cx="688" cy="1318.4" r="2" fill="#3a5fcf" opacity="0.9"/><circle cx="678.9" cy="1107.5" r="1.8" fill="#3a5fcf" opacity="0.9"/><circle cx="685" cy="1096.1" r="1.9" fill="#3a5fcf" opacity="0.9"/><circle cx="682.4" cy="1285.2" r="1.9" fill="#3a5fcf" opacity="0.9"/><circle cx="685.5" cy="1309.8" r="2.1" fill="#3a5fcf" opacity="0.9"/><circle cx="665.5" cy="1184.3" r="2.1" fill="#3a5fcf" opacity="0.9"/><circle cx="675.2" cy="1161.1" r="1.7" fill="#3a5fcf" opacity="0.9"/><circle cx="707.3" cy="1028.8" r="2.4" fill="#3a5fcf" opacity="0.9"/><circle cx="671.2" cy="1151.7" r="2.5" fill="#3a5fcf" opacity="0.9"/><circle cx="700.4" cy="1047.4" r="2" fill="#3a5fcf" opacity="0.9"/><circle cx="674.1" cy="1139.6" r="1.5" fill="#3a5fcf" opacity="0.9"/><circle cx="670.2" cy="1151.1" r="1.8" fill="#3a5fcf" opacity="0.9"/><circle cx="687.9" cy="1052.6" r="1.4" fill="#3a5fcf" opacity="0.9"/><circle cx="667.3" cy="1148.2" r="1.3" fill="#3a5fcf" opacity="0.9"/><circle cx="688.5" cy="1067.9" r="2.1" fill="#3a5fcf" opacity="0.9"/><circle cx="685.9" cy="1048.3" r="1.5" fill="#3a5fcf" opacity="0.9"/><circle cx="667.6" cy="1303.5" r="2.4" fill="#3a5fcf" opacity="0.9"/><circle cx="682.4" cy="1345.2" r="1.6" fill="#3a5fcf" opacity="0.9"/><circle cx="694.7" cy="1344.5" r="2.1" fill="#3a5fcf" opacity="0.9"/><circle cx="679.9" cy="1080" r="1.7" fill="#3a5fcf" opacity="0.9"/><circle cx="678.3" cy="1058.3" r="2.3" fill="#3a5fcf" opacity="0.9"/><circle cx="675.7" cy="1281.9" r="2.4" fill="#3a5fcf" opacity="0.9"/><circle cx="669.8" cy="1224.8" r="2.2" fill="#3a5fcf" opacity="0.9"/><circle cx="678.2" cy="1328.6" r="2.2" fill="#3a5fcf" opacity="0.9"/><circle cx="677.4" cy="1322.7" r="1.6" fill="#3a5fcf" opacity="0.9"/><circle cx="693" cy="1066.4" r="2.2" fill="#3a5fcf" opacity="0.9"/><circle cx="668.2" cy="1215.8" r="1.7" fill="#3a5fcf" opacity="0.9"/><circle cx="700" cy="1354" r="2.4" fill="#3a5fcf" opacity="0.9"/><circle cx="667.3" cy="1285.9" r="2.2" fill="#3a5fcf" opacity="0.9"/><circle cx="684.9" cy="1066.6" r="1.6" fill="#3a5fcf" opacity="0.9"/><circle cx="677.8" cy="1119.7" r="2" fill="#3a5fcf" opacity="0.9"/><circle cx="691.7" cy="1330.3" r="1.9" fill="#3a5fcf" opacity="0.9"/><circle cx="688" cy="1072.5" r="1.7" fill="#3a5fcf" opacity="0.9"/><circle cx="661.4" cy="1146.8" r="1.9" fill="#3a5fcf" opacity="0.9"/><circle cx="692.4" cy="1038.2" r="2.1" fill="#3a5fcf" opacity="0.9"/><circle cx="697.2" cy="1054.1" r="1.5" fill="#3a5fcf" opacity="0.9"/><circle cx="701.3" cy="1357.3" r="2.5" fill="#3a5fcf" opacity="0.9"/><circle cx="693.1" cy="1341.1" r="2.3" fill="#3a5fcf" opacity="0.9"/><circle cx="677.4" cy="1088.7" r="1.4" fill="#3a5fcf" opacity="0.9"/><circle cx="661.4" cy="1178.1" r="1.7" fill="#3a5fcf" opacity="0.9"/><circle cx="681.7" cy="1057" r="2.3" fill="#3a5fcf" opacity="0.9"/><circle cx="672.8" cy="1176.2" r="2.4" fill="#3a5fcf" opacity="0.9"/><circle cx="663.4" cy="1241" r="1.8" fill="#3a5fcf" opacity="0.9"/><circle cx="675" cy="1105.2" r="1.4" fill="#3a5fcf" opacity="0.9"/><circle cx="668.6" cy="1143.7" r="1.6" fill="#3a5fcf" opacity="0.9"/><circle cx="673.6" cy="1167.2" r="1.5" fill="#3a5fcf" opacity="0.9"/><circle cx="692.8" cy="1352.6" r="1.7" fill="#3a5fcf" opacity="0.9"/><circle cx="669.4" cy="1294.3" r="2.3" fill="#3a5fcf" opacity="0.9"/><circle cx="686.4" cy="1093.8" r="1.7" fill="#3a5fcf" opacity="0.9"/><circle cx="658.6" cy="1206.7" r="2" fill="#3a5fcf" opacity="0.9"/><circle cx="675.8" cy="1108.6" r="1.9" fill="#3a5fcf" opacity="0.9"/><circle cx="674.1" cy="1170.8" r="1.4" fill="#3a5fcf" opacity="0.9"/><circle cx="693.1" cy="1067.7" r="2.1" fill="#3a5fcf" opacity="0.9"/><circle cx="672.8" cy="1303.9" r="1.4" fill="#3a5fcf" opacity="0.9"/><circle cx="701.6" cy="1025.7" r="2.1" fill="#3a5fcf" opacity="0.9"/><circle cx="667.3" cy="1133.5" r="1.5" fill="#3a5fcf" opacity="0.9"/><circle cx="695" cy="1051.6" r="1.9" fill="#3a5fcf" opacity="0.9"/><circle cx="688.9" cy="1059.5" r="1.6" fill="#3a5fcf" opacity="0.9"/><circle cx="684.3" cy="1342.5" r="2.3" fill="#3a5fcf" opacity="0.9"/><circle cx="668.4" cy="1262.8" r="1.6" fill="#3a5fcf" opacity="0.9"/><circle cx="664.1" cy="1249.7" r="1.6" fill="#3a5fcf" opacity="0.9"/><circle cx="700" cy="1353.4" r="1.7" fill="#3a5fcf" opacity="0.9"/><circle cx="678.2" cy="1285.7" r="2" fill="#3a5fcf" opacity="0.9"/><circle cx="672.2" cy="1089.9" r="2" fill="#3a5fcf" opacity="0.9"/><circle cx="669.4" cy="1265.7" r="1.9" fill="#3a5fcf" opacity="0.9"/><circle cx="676" cy="1082.1" r="1.9" fill="#3a5fcf" opacity="0.9"/><circle cx="705.5" cy="1357" r="2" fill="#3a5fcf" opacity="0.9"/><circle cx="683" cy="1088.6" r="1.9" fill="#3a5fcf" opacity="0.9"/><circle cx="672.3" cy="1194.3" r="2.3" fill="#3a5fcf" opacity="0.9"/><circle cx="657.4" cy="1143.7" r="1.5" fill="#3a5fcf" opacity="0.9"/><circle cx="675.4" cy="1138.3" r="1.9" fill="#3a5fcf" opacity="0.9"/><circle cx="671.7" cy="1314.5" r="2.2" fill="#3a5fcf" opacity="0.9"/><circle cx="655.8" cy="1207.6" r="1.4" fill="#3a5fcf" opacity="0.9"/><circle cx="659.2" cy="1181.7" r="1.5" fill="#3a5fcf" opacity="0.9"/><circle cx="664.3" cy="1181.7" r="1.4" fill="#3a5fcf" opacity="0.9"/><circle cx="659.8" cy="1175.4" r="2" fill="#3a5fcf" opacity="0.9"/><circle cx="670.4" cy="1077.6" r="1.7" fill="#3a5fcf" opacity="0.9"/><circle cx="700.8" cy="1041.5" r="2.4" fill="#3a5fcf" opacity="0.9"/><circle cx="657" cy="1204" r="2" fill="#3a5fcf" opacity="0.9"/><circle cx="663" cy="1240.3" r="2.5" fill="#3a5fcf" opacity="0.9"/><circle cx="678.8" cy="1088" r="1.4" fill="#3a5fcf" opacity="0.9"/><circle cx="675.4" cy="1156.1" r="1.8" fill="#3a5fcf" opacity="0.9"/><circle cx="678.3" cy="1325.9" r="2.1" fill="#3a5fcf" opacity="0.9"/><circle cx="694.1" cy="1350.3" r="2.3" fill="#3a5fcf" opacity="0.9"/><circle cx="672.7" cy="1188.8" r="1.9" fill="#3a5fcf" opacity="0.9"/><circle cx="674" cy="1260.3" r="2.3" fill="#3a5fcf" opacity="0.9"/><circle cx="688.8" cy="1308.2" r="1.9" fill="#3a5fcf" opacity="0.9"/><circle cx="663" cy="1257.3" r="2.4" fill="#3a5fcf" opacity="0.9"/><circle cx="683.8" cy="1083.7" r="1.7" fill="#3a5fcf" opacity="0.9"/><circle cx="684.7" cy="1299.2" r="2.4" fill="#3a5fcf" opacity="0.9"/><circle cx="693.3" cy="1330.3" r="1.9" fill="#3a5fcf" opacity="0.9"/><circle cx="679.1" cy="1058.9" r="1.9" fill="#3a5fcf" opacity="0.9"/><circle cx="670.6" cy="1234.1" r="1.6" fill="#3a5fcf" opacity="0.9"/><circle cx="668.8" cy="1216.5" r="2" fill="#3a5fcf" opacity="0.9"/><circle cx="696.3" cy="1349.2" r="1.7" fill="#3a5fcf" opacity="0.9"/><circle cx="668.5" cy="1181.8" r="2" fill="#3a5fcf" opacity="0.9"/><circle cx="678.6" cy="1319.3" r="1.6" fill="#3a5fcf" opacity="0.9"/><circle cx="673" cy="1304.2" r="2.3" fill="#3a5fcf" opacity="0.9"/><circle cx="660.5" cy="1175.5" r="2.2" fill="#3a5fcf" opacity="0.9"/><circle cx="680.7" cy="1275" r="1.4" fill="#3a5fcf" opacity="0.9"/><circle cx="655.7" cy="1185.7" r="2.2" fill="#3a5fcf" opacity="0.9"/><circle cx="659.1" cy="1202.9" r="2.3" fill="#3a5fcf" opacity="0.9"/><circle cx="654.1" cy="1179.7" r="1.4" fill="#3a5fcf" opacity="0.9"/><circle cx="697.8" cy="1043.2" r="1.4" fill="#3a5fcf" opacity="0.9"/><circle cx="690" cy="1325.5" r="2.5" fill="#3a5fcf" opacity="0.9"/><circle cx="704.6" cy="1354.9" r="2.3" fill="#3a5fcf" opacity="0.9"/><circle cx="691.5" cy="1039.9" r="1.6" fill="#3a5fcf" opacity="0.9"/><circle cx="656.1" cy="1145.4" r="1.8" fill="#3a5fcf" opacity="0.9"/><circle cx="684.7" cy="1074.5" r="2.3" fill="#3a5fcf" opacity="0.9"/><circle cx="683.4" cy="1083.3" r="1.6" fill="#3a5fcf" opacity="0.9"/><circle cx="678.2" cy="1109.5" r="1.5" fill="#3a5fcf" opacity="0.9"/><circle cx="661.4" cy="1215.6" r="1.9" fill="#3a5fcf" opacity="0.9"/><circle cx="684.2" cy="1086.8" r="1.8" fill="#3a5fcf" opacity="0.9"/><circle cx="658.9" cy="1215.9" r="2.3" fill="#3a5fcf" opacity="0.9"/><circle cx="675.9" cy="1239.6" r="1.4" fill="#3a5fcf" opacity="0.9"/><circle cx="685.7" cy="1301.4" r="2.2" fill="#3a5fcf" opacity="0.9"/><circle cx="703" cy="1037.3" r="2.4" fill="#3a5fcf" opacity="0.9"/><circle cx="669.7" cy="1275.9" r="1.8" fill="#3a5fcf" opacity="0.9"/><circle cx="671.3" cy="1192.2" r="1.4" fill="#3a5fcf" opacity="0.9"/><circle cx="685.3" cy="1091.8" r="1.9" fill="#3a5fcf" opacity="0.9"/><circle cx="694.7" cy="1351.4" r="1.7" fill="#3a5fcf" opacity="0.9"/><circle cx="668.9" cy="1192.9" r="2.5" fill="#3a5fcf" opacity="0.9"/><circle cx="678.2" cy="1257.2" r="2.1" fill="#3a5fcf" opacity="0.9"/><circle cx="667.6" cy="1205.4" r="2.2" fill="#3a5fcf" opacity="0.9"/><circle cx="691.1" cy="1315.9" r="2.4" fill="#3a5fcf" opacity="0.9"/><circle cx="670.6" cy="1280.7" r="2.2" fill="#3a5fcf" opacity="0.9"/><circle cx="696.8" cy="1334.2" r="2.1" fill="#3a5fcf" opacity="0.9"/><circle cx="672.3" cy="1201.7" r="2.3" fill="#3a5fcf" opacity="0.9"/><circle cx="696.6" cy="1354.3" r="1.8" fill="#3a5fcf" opacity="0.9"/><circle cx="684.6" cy="1301.3" r="2.5" fill="#3a5fcf" opacity="0.9"/><circle cx="687.9" cy="1056.3" r="1.8" fill="#3a5fcf" opacity="0.9"/><circle cx="684.2" cy="1078" r="2.2" fill="#3a5fcf" opacity="0.9"/><circle cx="671.1" cy="1313.7" r="1.6" fill="#3a5fcf" opacity="0.9"/><circle cx="698.4" cy="1339.8" r="1.4" fill="#3a5fcf" opacity="0.9"/><circle cx="673.8" cy="1287.7" r="1.9" fill="#3a5fcf" opacity="0.9"/><circle cx="701.2" cy="1032.5" r="1.8" fill="#3a5fcf" opacity="0.9"/><circle cx="673.3" cy="1181.7" r="1.8" fill="#3a5fcf" opacity="0.9"/><circle cx="666.1" cy="1213.5" r="1.4" fill="#3a5fcf" opacity="0.9"/><circle cx="668.3" cy="1143.5" r="2" fill="#3a5fcf" opacity="0.9"/><circle cx="670.6" cy="1206.8" r="1.9" fill="#3a5fcf" opacity="0.9"/><circle cx="702.7" cy="1039.2" r="1.5" fill="#3a5fcf" opacity="0.9"/><circle cx="673.8" cy="1198.5" r="1.9" fill="#3a5fcf" opacity="0.9"/><circle cx="664.5" cy="1229.5" r="2.4" fill="#3a5fcf" opacity="0.9"/><circle cx="674.1" cy="1117.1" r="2.3" fill="#3a5fcf" opacity="0.9"/><circle cx="672.3" cy="1229.2" r="2.5" fill="#3a5fcf" opacity="0.9"/><circle cx="674" cy="1099.8" r="1.9" fill="#3a5fcf" opacity="0.9"/><circle cx="695.4" cy="1061.4" r="2" fill="#3a5fcf" opacity="0.9"/><circle cx="694.2" cy="1049.4" r="2.2" fill="#3a5fcf" opacity="0.9"/><circle cx="682.3" cy="1332.7" r="1.3" fill="#3a5fcf" opacity="0.9"/><circle cx="663" cy="1140.4" r="1.4" fill="#3a5fcf" opacity="0.9"/><circle cx="673" cy="1159.8" r="1.5" fill="#3a5fcf" opacity="0.9"/><circle cx="663.5" cy="1260" r="1.8" fill="#3a5fcf" opacity="0.9"/><circle cx="674.4" cy="1231.2" r="1.9" fill="#3a5fcf" opacity="0.9"/><circle cx="665.6" cy="1144.6" r="1.9" fill="#3a5fcf" opacity="0.9"/><circle cx="668.4" cy="1274.4" r="2" fill="#3a5fcf" opacity="0.9"/><circle cx="669.4" cy="1141.3" r="1.5" fill="#3a5fcf" opacity="0.9"/><circle cx="686.2" cy="1067.2" r="1.5" fill="#3a5fcf" opacity="0.9"/><circle cx="653.8" cy="1225.6" r="1.6" fill="#3a5fcf" opacity="0.9"/><circle cx="658.3" cy="1159.1" r="1.9" fill="#3a5fcf" opacity="0.9"/><circle cx="706.1" cy="1022.6" r="2.4" fill="#3a5fcf" opacity="0.9"/><circle cx="666.7" cy="1165.9" r="2.3" fill="#3a5fcf" opacity="0.9"/><circle cx="666.1" cy="1272.7" r="1.6" fill="#3a5fcf" opacity="0.9"/><circle cx="662.2" cy="1136.5" r="1.6" fill="#3a5fcf" opacity="0.9"/><circle cx="673" cy="1074.4" r="1.4" fill="#3a5fcf" opacity="0.9"/><circle cx="658.1" cy="1139.1" r="1.4" fill="#3a5fcf" opacity="0.9"/><circle cx="682" cy="1066.8" r="2.4" fill="#3a5fcf" opacity="0.9"/><circle cx="666.7" cy="1128.2" r="1.5" fill="#3a5fcf" opacity="0.9"/><circle cx="696.8" cy="1357.5" r="2.3" fill="#3a5fcf" opacity="0.9"/><circle cx="685.9" cy="1055.6" r="1.3" fill="#3a5fcf" opacity="0.9"/><circle cx="658.3" cy="1221.6" r="1.8" fill="#3a5fcf" opacity="0.9"/><circle cx="655.1" cy="1205" r="1.5" fill="#3a5fcf" opacity="0.9"/><circle cx="673.9" cy="1282.3" r="1.8" fill="#3a5fcf" opacity="0.9"/><circle cx="687.2" cy="1047" r="1.5" fill="#3a5fcf" opacity="0.9"/><circle cx="673.6" cy="1198.1" r="2.5" fill="#3a5fcf" opacity="0.9"/><circle cx="673.4" cy="1277.9" r="2.4" fill="#3a5fcf" opacity="0.9"/><circle cx="703.2" cy="1025.2" r="1.4" fill="#3a5fcf" opacity="0.9"/><circle cx="681.6" cy="1292.4" r="1.4" fill="#3a5fcf" opacity="0.9"/><circle cx="676.9" cy="1258.8" r="1.9" fill="#3a5fcf" opacity="0.9"/><circle cx="684.7" cy="1290.1" r="2.2" fill="#3a5fcf" opacity="0.9"/><circle cx="667.7" cy="1263.6" r="2.4" fill="#3a5fcf" opacity="0.9"/><circle cx="657.5" cy="1208.5" r="1.5" fill="#3a5fcf" opacity="0.9"/><circle cx="693.5" cy="1043" r="1.4" fill="#3a5fcf" opacity="0.9"/><circle cx="685.3" cy="1083.8" r="2.1" fill="#3a5fcf" opacity="0.9"/><circle cx="682.7" cy="1090.3" r="1.9" fill="#3a5fcf" opacity="0.9"/><circle cx="688.4" cy="1062.2" r="1.4" fill="#3a5fcf" opacity="0.9"/><circle cx="674.5" cy="1283.2" r="1.4" fill="#3a5fcf" opacity="0.9"/><circle cx="673.4" cy="1186.1" r="1.6" fill="#3a5fcf" opacity="0.9"/><circle cx="674.9" cy="1244.5" r="1.6" fill="#3a5fcf" opacity="0.9"/><circle cx="683" cy="1060" r="1.7" fill="#3a5fcf" opacity="0.9"/><circle cx="708.2" cy="1026.2" r="1.7" fill="#3a5fcf" opacity="0.9"/><circle cx="692.7" cy="1336.3" r="1.7" fill="#3a5fcf" opacity="0.9"/><circle cx="676.2" cy="1115.3" r="2.5" fill="#3a5fcf" opacity="0.9"/><circle cx="678.3" cy="1332.1" r="2" fill="#3a5fcf" opacity="0.9"/><circle cx="696.9" cy="1343" r="1.6" fill="#3a5fcf" opacity="0.9"/><circle cx="669.8" cy="1295.2" r="1.5" fill="#3a5fcf" opacity="0.9"/><circle cx="682.2" cy="1295.1" r="1.4" fill="#3a5fcf" opacity="0.9"/><circle cx="705.5" cy="1020.2" r="2" fill="#3a5fcf" opacity="0.9"/><circle cx="662" cy="1281.1" r="1.5" fill="#3a5fcf" opacity="0.9"/><circle cx="682.6" cy="1327.6" r="1.9" fill="#3a5fcf" opacity="0.9"/><circle cx="684.5" cy="1072.9" r="2" fill="#3a5fcf" opacity="0.9"/><circle cx="681" cy="1272.1" r="2.5" fill="#3a5fcf" opacity="0.9"/><circle cx="668.3" cy="1108.7" r="2.5" fill="#3a5fcf" opacity="0.9"/><circle cx="663.1" cy="1266.3" r="2.1" fill="#3a5fcf" opacity="0.9"/><circle cx="693.6" cy="1344.7" r="2.2" fill="#3a5fcf" opacity="0.9"/><circle cx="663.7" cy="1190.8" r="1.8" fill="#3a5fcf" opacity="0.9"/><circle cx="683" cy="1075.9" r="1.5" fill="#3a5fcf" opacity="0.9"/><circle cx="682" cy="1107.8" r="1.8" fill="#3a5fcf" opacity="0.9"/><circle cx="698.9" cy="1025.2" r="1.6" fill="#3a5fcf" opacity="0.9"/><circle cx="701.6" cy="1028.6" r="1.5" fill="#3a5fcf" opacity="0.9"/><circle cx="655.9" cy="1152.1" r="2.4" fill="#3a5fcf" opacity="0.9"/><circle cx="696.6" cy="1345" r="1.5" fill="#3a5fcf" opacity="0.9"/><circle cx="652.8" cy="1196.9" r="2" fill="#3a5fcf" opacity="0.9"/><circle cx="664.1" cy="1194.1" r="2.4" fill="#3a5fcf" opacity="0.9"/><circle cx="672" cy="1186.5" r="1.7" fill="#3a5fcf" opacity="0.9"/><circle cx="681.6" cy="1111.8" r="2.1" fill="#3a5fcf" opacity="0.9"/><circle cx="681.4" cy="1079.4" r="2.4" fill="#3a5fcf" opacity="0.9"/><circle cx="673.8" cy="1118.7" r="1.7" fill="#3a5fcf" opacity="0.9"/><circle cx="701" cy="1038.8" r="1.8" fill="#3a5fcf" opacity="0.9"/><circle cx="689.1" cy="1069" r="2" fill="#3a5fcf" opacity="0.9"/><circle cx="674.1" cy="1157.8" r="1.9" fill="#3a5fcf" opacity="0.9"/><circle cx="665.3" cy="1165.8" r="2.1" fill="#3a5fcf" opacity="0.9"/><circle cx="698.8" cy="1351.9" r="1.3" fill="#3a5fcf" opacity="0.9"/><circle cx="687.3" cy="1047.7" r="1.8" fill="#3a5fcf" opacity="0.9"/><circle cx="691" cy="1044.5" r="2" fill="#3a5fcf" opacity="0.9"/><circle cx="660" cy="1236" r="2.2" fill="#3a5fcf" opacity="0.9"/><circle cx="662" cy="1259.9" r="2.4" fill="#3a5fcf" opacity="0.9"/><circle cx="679.4" cy="1264.9" r="1.4" fill="#3a5fcf" opacity="0.9"/><circle cx="667.5" cy="1101.1" r="1.6" fill="#3a5fcf" opacity="0.9"/><circle cx="675" cy="1311.8" r="1.8" fill="#3a5fcf" opacity="0.9"/><circle cx="689.6" cy="1078.3" r="2.4" fill="#3a5fcf" opacity="0.9"/><circle cx="692" cy="1045.2" r="1.4" fill="#3a5fcf" opacity="0.9"/><circle cx="673" cy="1244.8" r="2.2" fill="#3a5fcf" opacity="0.9"/><circle cx="663.7" cy="1134.9" r="2.3" fill="#3a5fcf" opacity="0.9"/><circle cx="671" cy="1273.7" r="1.4" fill="#3a5fcf" opacity="0.9"/><circle cx="664.7" cy="1200.2" r="2" fill="#3a5fcf" opacity="0.9"/><circle cx="659.9" cy="1117.5" r="2.1" fill="#3a5fcf" opacity="0.9"/><circle cx="669.7" cy="1308.1" r="2.4" fill="#3a5fcf" opacity="0.9"/><circle cx="680.5" cy="1276.2" r="2.1" fill="#3a5fcf" opacity="0.9"/><circle cx="686.9" cy="1332.8" r="2.5" fill="#3a5fcf" opacity="0.9"/><circle cx="685.4" cy="1308.6" r="1.7" fill="#3a5fcf" opacity="0.9"/><circle cx="674.1" cy="1264.5" r="2.2" fill="#3a5fcf" opacity="0.9"/><circle cx="681.2" cy="1054" r="2" fill="#3a5fcf" opacity="0.9"/><circle cx="696" cy="1343.6" r="1.5" fill="#3a5fcf" opacity="0.9"/><circle cx="673" cy="1294" r="1.8" fill="#3a5fcf" opacity="0.9"/><circle cx="663.3" cy="1114.1" r="2.1" fill="#3a5fcf" opacity="0.9"/><circle cx="673.7" cy="1201.4" r="1.6" fill="#3a5fcf" opacity="0.9"/><circle cx="678.5" cy="1257.5" r="2.3" fill="#3a5fcf" opacity="0.9"/><circle cx="668.9" cy="1200.2" r="1.6" fill="#3a5fcf" opacity="0.9"/><circle cx="656.3" cy="1188" r="1.6" fill="#3a5fcf" opacity="0.9"/><circle cx="694.4" cy="1353.8" r="2.3" fill="#3a5fcf" opacity="0.9"/><circle cx="658.7" cy="1209.9" r="2.3" fill="#3a5fcf" opacity="0.9"/><circle cx="654.1" cy="1190.9" r="1.5" fill="#3a5fcf" opacity="0.9"/><circle cx="660.4" cy="1255.6" r="2.4" fill="#3a5fcf" opacity="0.9"/><circle cx="663.5" cy="1220.5" r="1.9" fill="#3a5fcf" opacity="0.9"/><circle cx="674.2" cy="1098.5" r="1.4" fill="#3a5fcf" opacity="0.9"/><circle cx="667.7" cy="1154.3" r="1.4" fill="#3a5fcf" opacity="0.9"/><circle cx="675.9" cy="1141.9" r="2.3" fill="#3a5fcf" opacity="0.9"/><circle cx="667.8" cy="1257" r="1.8" fill="#3a5fcf" opacity="0.9"/><circle cx="669.9" cy="1287.9" r="1.7" fill="#3a5fcf" opacity="0.9"/><circle cx="667.4" cy="1182.8" r="2.5" fill="#3a5fcf" opacity="0.9"/><circle cx="654.9" cy="1149.4" r="2.1" fill="#3a5fcf" opacity="0.9"/><circle cx="684.1" cy="1296.2" r="1.7" fill="#3a5fcf" opacity="0.9"/><circle cx="654.2" cy="1228.7" r="1.5" fill="#3a5fcf" opacity="0.9"/><circle cx="659.8" cy="1220.7" r="2" fill="#3a5fcf" opacity="0.9"/><circle cx="680.2" cy="1108.1" r="2.3" fill="#3a5fcf" opacity="0.9"/><circle cx="668" cy="1173.6" r="2.1" fill="#3a5fcf" opacity="0.9"/><circle cx="684.6" cy="1296.7" r="1.9" fill="#3a5fcf" opacity="0.9"/><circle cx="664.8" cy="1257.3" r="1.4" fill="#3a5fcf" opacity="0.9"/><circle cx="675.7" cy="1325.7" r="1.8" fill="#3a5fcf" opacity="0.9"/><circle cx="711.1" cy="1020.4" r="1.4" fill="#3a5fcf" opacity="0.9"/><circle cx="660.2" cy="1163.8" r="1.8" fill="#3a5fcf" opacity="0.9"/><circle cx="678.8" cy="1115.3" r="2.5" fill="#3a5fcf" opacity="0.9"/><circle cx="670.8" cy="1175.7" r="1.7" fill="#3a5fcf" opacity="0.9"/><circle cx="665" cy="1200" r="1.7" fill="#3a5fcf" opacity="0.9"/><circle cx="678.3" cy="1279.9" r="2.3" fill="#3a5fcf" opacity="0.9"/><circle cx="672.6" cy="1195.6" r="2.3" fill="#3a5fcf" opacity="0.9"/><circle cx="669.9" cy="1254.1" r="2" fill="#3a5fcf" opacity="0.9"/><circle cx="669" cy="1167.1" r="2.2" fill="#3a5fcf" opacity="0.9"/><circle cx="669.1" cy="1158.8" r="1.9" fill="#3a5fcf" opacity="0.9"/><circle cx="658.6" cy="1140.4" r="1.5" fill="#3a5fcf" opacity="0.9"/><circle cx="701.2" cy="1037.2" r="2.4" fill="#3a5fcf" opacity="0.9"/><circle cx="668.2" cy="1244.2" r="2.2" fill="#3a5fcf" opacity="0.9"/><circle cx="673.4" cy="1241.7" r="1.7" fill="#3a5fcf" opacity="0.9"/><circle cx="708.5" cy="1020.5" r="2.3" fill="#3a5fcf" opacity="0.9"/><circle cx="674.1" cy="1089.2" r="2.2" fill="#3a5fcf" opacity="0.9"/><circle cx="690.6" cy="1323.9" r="1.8" fill="#3a5fcf" opacity="0.9"/><circle cx="700.5" cy="1018.6" r="1.3" fill="#3a5fcf" opacity="0.9"/><circle cx="685.1" cy="1096.1" r="2.3" fill="#3a5fcf" opacity="0.9"/><circle cx="661" cy="1233.4" r="2" fill="#3a5fcf" opacity="0.9"/><circle cx="660.5" cy="1237.1" r="1.6" fill="#3a5fcf" opacity="0.9"/><circle cx="663.3" cy="1285.6" r="1.5" fill="#3a5fcf" opacity="0.9"/><circle cx="683.6" cy="1102.9" r="2.3" fill="#3a5fcf" opacity="0.9"/><circle cx="676.8" cy="1264.1" r="2.3" fill="#3a5fcf" opacity="0.9"/><circle cx="693.3" cy="1030.9" r="1.4" fill="#3a5fcf" opacity="0.9"/><circle cx="692.4" cy="1070" r="2.1" fill="#3a5fcf" opacity="0.9"/><circle cx="689.8" cy="1047.4" r="1.7" fill="#3a5fcf" opacity="0.9"/><circle cx="688.6" cy="1305.5" r="1.6" fill="#3a5fcf" opacity="0.9"/><circle cx="679" cy="1320.2" r="1.3" fill="#3a5fcf" opacity="0.9"/><circle cx="672.5" cy="1205" r="2.2" fill="#3a5fcf" opacity="0.9"/><circle cx="696.6" cy="1347.8" r="2.1" fill="#3a5fcf" opacity="0.9"/><circle cx="671.8" cy="1290.9" r="1.4" fill="#3a5fcf" opacity="0.9"/><circle cx="681.4" cy="1060.7" r="2" fill="#3a5fcf" opacity="0.9"/><circle cx="678" cy="1266.2" r="1.9" fill="#3a5fcf" opacity="0.9"/><circle cx="696.8" cy="1333.3" r="1.6" fill="#3a5fcf" opacity="0.9"/><circle cx="668.3" cy="1179.3" r="1.8" fill="#3a5fcf" opacity="0.9"/><circle cx="676.6" cy="1073.7" r="2" fill="#3a5fcf" opacity="0.9"/><circle cx="690.4" cy="1317.1" r="1.8" fill="#3a5fcf" opacity="0.9"/><circle cx="690.3" cy="1351.3" r="1.8" fill="#3a5fcf" opacity="0.9"/><circle cx="686.8" cy="1355.4" r="1.5" fill="#3a5fcf" opacity="0.9"/><circle cx="671.1" cy="1186.7" r="2.3" fill="#3a5fcf" opacity="0.9"/><circle cx="696.8" cy="1028" r="2.3" fill="#3a5fcf" opacity="0.9"/><circle cx="674.4" cy="1091.3" r="1.6" fill="#3a5fcf" opacity="0.9"/><circle cx="673" cy="1192.7" r="1.6" fill="#3a5fcf" opacity="0.9"/><circle cx="681.7" cy="1051.5" r="1.8" fill="#3a5fcf" opacity="0.9"/><circle cx="683.2" cy="1329.8" r="1.9" fill="#3a5fcf" opacity="0.9"/><circle cx="683.8" cy="1049.5" r="1.3" fill="#3a5fcf" opacity="0.9"/><circle cx="673.4" cy="1080.1" r="1.7" fill="#3a5fcf" opacity="0.9"/><circle cx="684.3" cy="1067.6" r="2" fill="#3a5fcf" opacity="0.9"/><polygon points="706.5,1029 703.3,1037.1 700.3,1045.2 697.4,1053.3 694.7,1061.4 692.1,1069.5 689.7,1077.6 687.5,1085.7 685.4,1093.8 683.5,1101.9 681.7,1110 680.1,1118.1 678.7,1126.2 677.4,1134.3 676.3,1142.4 675.3,1150.5 674.5,1158.6 673.9,1166.7 673.4,1174.8 673.1,1182.9 672.9,1191 672.9,1199.1 673.1,1207.2 673.4,1215.3 673.8,1223.4 674.5,1231.5 675.3,1239.6 676.2,1247.7 677.3,1255.8 678.6,1263.9 680,1272 681.6,1280.1 683.3,1288.2 685.2,1296.3 687.3,1304.4 689.5,1312.5 691.9,1320.6 694.4,1328.7 697.1,1336.8 700,1344.9 703,1353 716.5,1353 713.5,1344.9 710.6,1336.8 707.9,1328.7 705.4,1320.6 703,1312.5 700.8,1304.4 698.7,1296.3 696.8,1288.2 695.1,1280.1 693.5,1272 692.1,1263.9 690.8,1255.8 689.7,1247.7 688.8,1239.6 688,1231.5 687.3,1223.4 686.9,1215.3 686.6,1207.2 686.4,1199.1 686.4,1191 686.6,1182.9 686.9,1174.8 687.4,1166.7 688,1158.6 688.8,1150.5 689.8,1142.4 690.9,1134.3 692.2,1126.2 693.6,1118.1 695.2,1110 697,1101.9 698.9,1093.8 701,1085.7 703.2,1077.6 705.6,1069.5 708.2,1061.4 710.9,1053.3 713.8,1045.2 716.8,1037.1 720,1029" fill="#fcd58e"/><path d="M721 1029L717.8 1037.1L714.8 1045.2L711.9 1053.3L709.2 1061.4L706.6 1069.5L704.2 1077.6L702 1085.7L699.9 1093.8L698 1101.9L696.2 1110L694.6 1118.1L693.2 1126.2L691.9 1134.3L690.8 1142.4L689.8 1150.5L689 1158.6L688.4 1166.7L687.9 1174.8L687.6 1182.9L687.4 1191L687.4 1199.1L687.6 1207.2L687.9 1215.3L688.3 1223.4L689 1231.5L689.8 1239.6L690.7 1247.7L691.8 1255.8L693.1 1263.9L694.5 1272L696.1 1280.1L697.8 1288.2L699.7 1296.3L701.8 1304.4L704 1312.5L706.4 1320.6L708.9 1328.7L711.6 1336.8L714.5 1344.9L717.5 1353" stroke="#e8a77c" stroke-width="1.5" fill="none"/><g filter="url(#glowY)"><path d="M1048.5 1226.3L1067.5 1226.3M1081 1234L1090.5 1250.5M1077.2 1235.5L1084.5 1248.1M1090.5 1250.5L1081 1267M1067.5 1274.7L1048.5 1274.7M1068.1 1270.7L1053.5 1270.7M1048.5 1274.7L1039 1258.3M1039 1242.7L1048.5 1226.3M1042.2 1245.2L1049.4 1232.6M1006.5 1153.5L1034.5 1153.5M1011.5 1157.5L1029.5 1157.5M1034.5 1153.5L1048.5 1177.8M1048.5 1177.8L1034.5 1202M1042.5 1180.1L1033.6 1195.6M1034.5 1202L1006.5 1202M1006.5 1202L992.5 1177.8M1007.4 1195.6L998.5 1180.1M992.5 1177.8L1006.5 1153.5M1048.5 1226.3L1034.5 1202M1006.5 1153.5L999.5 1141.4M1006.5 1299L1034.5 1299M1034.5 1299L1048.5 1323.2M1033.6 1305.4L1042.5 1320.9M1048.5 1323.2L1034.5 1347.5M1034.5 1347.5L1006.5 1347.5M1029.5 1343.5L1011.5 1343.5M1006.5 1347.5L992.5 1323.2M992.5 1323.2L1006.5 1299M998.5 1320.9L1007.4 1305.4M1048.5 1274.7L1034.5 1299M1006.5 1347.5L999.5 1359.6M1132.5 1226.3L1160.5 1226.3M1160.5 1226.3L1174.5 1250.5M1159.6 1232.6L1168.5 1248.1M1174.5 1250.5L1160.5 1274.7M1160.5 1274.7L1132.5 1274.7M1155.5 1270.7L1137.5 1270.7M1132.5 1274.7L1118.5 1250.5M1118.5 1250.5L1132.5 1226.3M1124.5 1248.1L1133.4 1232.6M1090.5 1250.5L1118.5 1250.5M1174.5 1250.5L1193.5 1250.5M1207 1242.7L1216.5 1226.2M1258.5 1202L1286.5 1202M1286.5 1202L1300.5 1226.2M1300.5 1226.2L1286.5 1250.5M1286.5 1250.5L1258.5 1250.5M1258.5 1250.5L1244.5 1226.2M1244.5 1226.2L1258.5 1202M1216.5 1226.2L1244.5 1226.2M1220.7 1222.2L1240.3 1222.2M1260.2 1201L1250.7 1184.5M1256.8 1203L1247.3 1186.5M1256.8 1249.5L1247.3 1266M1260.2 1251.5L1250.7 1268M1300.5 1228.2L1319.5 1228.2M1300.5 1224.2L1319.5 1224.2M1286.5 1202L1300.5 1177.8M1292.1 1200.4L1301.9 1183.4M1300.5 1177.8L1291 1161.3M1300.5 1080.8L1328.5 1080.8M1305.5 1084.8L1323.5 1084.8M1328.5 1080.8L1342.5 1105M1342.5 1105L1328.5 1129.2M1336.5 1107.4L1327.6 1122.9M1328.5 1129.2L1300.5 1129.2M1300.5 1129.2L1286.5 1105M1301.4 1122.9L1292.5 1107.4M1286.5 1105L1300.5 1080.8M1291 1145.7L1300.5 1129.2M1328.5 1080.8L1339 1062.6M1286.5 1250.5L1300.5 1274.8M1292.1 1252.1L1301.9 1269.1M1300.5 1274.8L1319.5 1274.8M1342.5 1299L1370.5 1299M1347.5 1303L1365.5 1303M1370.5 1299L1384.5 1323.2M1384.5 1323.2L1370.5 1347.5M1378.5 1325.6L1369.6 1341.1M1370.5 1347.5L1342.5 1347.5M1342.5 1347.5L1328.5 1323.2M1343.4 1341.1L1334.5 1325.6M1328.5 1323.2L1342.5 1299M1333 1282.5L1342.5 1299M1370.5 1347.5L1377.5 1359.6M1008.9 1141.5L995.1 1149.5M995.1 1351.5L1008.9 1359.5M1344.4 1069.2L1330.6 1061.2M1368.1 1359.5L1381.9 1351.5" stroke="#f9cf45" stroke-width="22" stroke-linecap="round" stroke-linejoin="round" fill="none"/><circle cx="1076.5" cy="1226.3" r="14" fill="#f9cf45"/><circle cx="1076.5" cy="1274.7" r="14" fill="#f9cf45"/><circle cx="1034.5" cy="1250.5" r="14" fill="#f9cf45"/><circle cx="1210.5" cy="1250.5" r="14" fill="#f9cf45"/><circle cx="1244.5" cy="1177.8" r="14" fill="#f9cf45"/><circle cx="1244.5" cy="1274.8" r="14" fill="#f9cf45"/><circle cx="1328.5" cy="1226.2" r="14" fill="#f9cf45"/><circle cx="1278.5" cy="1153.5" r="14" fill="#f9cf45"/><circle cx="1336.5" cy="1274.8" r="14" fill="#f9cf45"/></g><path d="M1048.5 1226.3L1067.5 1226.3M1081 1234L1090.5 1250.5M1077.2 1235.5L1084.5 1248.1M1090.5 1250.5L1081 1267M1067.5 1274.7L1048.5 1274.7M1068.1 1270.7L1053.5 1270.7M1048.5 1274.7L1039 1258.3M1039 1242.7L1048.5 1226.3M1042.2 1245.2L1049.4 1232.6M1006.5 1153.5L1034.5 1153.5M1011.5 1157.5L1029.5 1157.5M1034.5 1153.5L1048.5 1177.8M1048.5 1177.8L1034.5 1202M1042.5 1180.1L1033.6 1195.6M1034.5 1202L1006.5 1202M1006.5 1202L992.5 1177.8M1007.4 1195.6L998.5 1180.1M992.5 1177.8L1006.5 1153.5M1048.5 1226.3L1034.5 1202M1006.5 1153.5L999.5 1141.4M1006.5 1299L1034.5 1299M1034.5 1299L1048.5 1323.2M1033.6 1305.4L1042.5 1320.9M1048.5 1323.2L1034.5 1347.5M1034.5 1347.5L1006.5 1347.5M1029.5 1343.5L1011.5 1343.5M1006.5 1347.5L992.5 1323.2M992.5 1323.2L1006.5 1299M998.5 1320.9L1007.4 1305.4M1048.5 1274.7L1034.5 1299M1006.5 1347.5L999.5 1359.6M1132.5 1226.3L1160.5 1226.3M1160.5 1226.3L1174.5 1250.5M1159.6 1232.6L1168.5 1248.1M1174.5 1250.5L1160.5 1274.7M1160.5 1274.7L1132.5 1274.7M1155.5 1270.7L1137.5 1270.7M1132.5 1274.7L1118.5 1250.5M1118.5 1250.5L1132.5 1226.3M1124.5 1248.1L1133.4 1232.6M1090.5 1250.5L1118.5 1250.5M1174.5 1250.5L1193.5 1250.5M1207 1242.7L1216.5 1226.2M1258.5 1202L1286.5 1202M1286.5 1202L1300.5 1226.2M1300.5 1226.2L1286.5 1250.5M1286.5 1250.5L1258.5 1250.5M1258.5 1250.5L1244.5 1226.2M1244.5 1226.2L1258.5 1202M1216.5 1226.2L1244.5 1226.2M1220.7 1222.2L1240.3 1222.2M1260.2 1201L1250.7 1184.5M1256.8 1203L1247.3 1186.5M1256.8 1249.5L1247.3 1266M1260.2 1251.5L1250.7 1268M1300.5 1228.2L1319.5 1228.2M1300.5 1224.2L1319.5 1224.2M1286.5 1202L1300.5 1177.8M1292.1 1200.4L1301.9 1183.4M1300.5 1177.8L1291 1161.3M1300.5 1080.8L1328.5 1080.8M1305.5 1084.8L1323.5 1084.8M1328.5 1080.8L1342.5 1105M1342.5 1105L1328.5 1129.2M1336.5 1107.4L1327.6 1122.9M1328.5 1129.2L1300.5 1129.2M1300.5 1129.2L1286.5 1105M1301.4 1122.9L1292.5 1107.4M1286.5 1105L1300.5 1080.8M1291 1145.7L1300.5 1129.2M1328.5 1080.8L1339 1062.6M1286.5 1250.5L1300.5 1274.8M1292.1 1252.1L1301.9 1269.1M1300.5 1274.8L1319.5 1274.8M1342.5 1299L1370.5 1299M1347.5 1303L1365.5 1303M1370.5 1299L1384.5 1323.2M1384.5 1323.2L1370.5 1347.5M1378.5 1325.6L1369.6 1341.1M1370.5 1347.5L1342.5 1347.5M1342.5 1347.5L1328.5 1323.2M1343.4 1341.1L1334.5 1325.6M1328.5 1323.2L1342.5 1299M1333 1282.5L1342.5 1299M1370.5 1347.5L1377.5 1359.6M1008.9 1141.5L995.1 1149.5M995.1 1351.5L1008.9 1359.5M1344.4 1069.2L1330.6 1061.2M1368.1 1359.5L1381.9 1351.5" stroke="#3a3320" stroke-width="2" fill="none" stroke-linecap="round"/><g font-family="'Liberation Sans', sans-serif" font-size="20" fill="#1b1808" text-anchor="middle"><text x="1076.5" y="1233.5">N</text><text x="1076.5" y="1281.9">N</text><text x="1034.5" y="1257.7">N</text><text x="1210.5" y="1257.7">NH</text><text x="1244.5" y="1185">O</text><text x="1244.5" y="1282">O</text><text x="1328.5" y="1233.5">O</text><text x="1278.5" y="1160.7">HN</text><text x="1336.5" y="1282">NH</text></g><g filter="url(#glowG)" opacity="0.55"><path d="M1601.5 1225.3L1620.5 1225.3M1634 1233L1643.5 1249.5M1630.2 1234.5L1637.5 1247.1M1643.5 1249.5L1634 1266M1620.5 1273.7L1601.5 1273.7M1621.1 1269.7L1606.5 1269.7M1601.5 1273.7L1592 1257.3M1592 1241.7L1601.5 1225.3M1595.2 1244.2L1602.4 1231.6M1559.5 1152.5L1587.5 1152.5M1564.5 1156.5L1582.5 1156.5M1587.5 1152.5L1601.5 1176.8M1601.5 1176.8L1587.5 1201M1595.5 1179.1L1586.6 1194.6M1587.5 1201L1559.5 1201M1559.5 1201L1545.5 1176.8M1560.4 1194.6L1551.5 1179.1M1545.5 1176.8L1559.5 1152.5M1601.5 1225.3L1587.5 1201M1559.5 1152.5L1552.5 1140.4M1559.5 1298L1587.5 1298M1587.5 1298L1601.5 1322.2M1586.6 1304.4L1595.5 1319.9M1601.5 1322.2L1587.5 1346.5M1587.5 1346.5L1559.5 1346.5M1582.5 1342.5L1564.5 1342.5M1559.5 1346.5L1545.5 1322.2M1545.5 1322.2L1559.5 1298M1551.5 1319.9L1560.4 1304.4M1601.5 1273.7L1587.5 1298M1559.5 1346.5L1552.5 1358.6M1685.5 1225.3L1713.5 1225.3M1713.5 1225.3L1727.5 1249.5M1712.6 1231.6L1721.5 1247.1M1727.5 1249.5L1713.5 1273.7M1713.5 1273.7L1685.5 1273.7M1708.5 1269.7L1690.5 1269.7M1685.5 1273.7L1671.5 1249.5M1671.5 1249.5L1685.5 1225.3M1677.5 1247.1L1686.4 1231.6M1643.5 1249.5L1671.5 1249.5M1727.5 1249.5L1746.5 1249.5M1760 1241.7L1769.5 1225.2M1811.5 1201L1839.5 1201M1839.5 1201L1853.5 1225.2M1853.5 1225.2L1839.5 1249.5M1839.5 1249.5L1811.5 1249.5M1811.5 1249.5L1797.5 1225.2M1797.5 1225.2L1811.5 1201M1769.5 1225.2L1797.5 1225.2M1773.7 1221.2L1793.3 1221.2M1813.2 1200L1803.7 1183.5M1809.8 1202L1800.3 1185.5M1809.8 1248.5L1800.3 1265M1813.2 1250.5L1803.7 1267M1853.5 1227.2L1872.5 1227.2M1853.5 1223.2L1872.5 1223.2M1839.5 1201L1853.5 1176.8M1845.1 1199.4L1854.9 1182.4M1853.5 1176.8L1844 1160.3M1853.5 1079.8L1881.5 1079.8M1858.5 1083.8L1876.5 1083.8M1881.5 1079.8L1895.5 1104M1895.5 1104L1881.5 1128.2M1889.5 1106.4L1880.6 1121.9M1881.5 1128.2L1853.5 1128.2M1853.5 1128.2L1839.5 1104M1854.4 1121.9L1845.5 1106.4M1839.5 1104L1853.5 1079.8M1844 1144.7L1853.5 1128.2M1881.5 1079.8L1892 1061.6M1839.5 1249.5L1853.5 1273.8M1845.1 1251.1L1854.9 1268.1M1853.5 1273.8L1872.5 1273.8M1895.5 1298L1923.5 1298M1900.5 1302L1918.5 1302M1923.5 1298L1937.5 1322.2M1937.5 1322.2L1923.5 1346.5M1931.5 1324.6L1922.6 1340.1M1923.5 1346.5L1895.5 1346.5M1895.5 1346.5L1881.5 1322.2M1896.4 1340.1L1887.5 1324.6M1881.5 1322.2L1895.5 1298M1886 1281.5L1895.5 1298M1923.5 1346.5L1930.5 1358.6M1561.9 1140.5L1548.1 1148.5M1548.1 1350.5L1561.9 1358.5M1897.4 1068.2L1883.6 1060.2M1921.1 1358.5L1934.9 1350.5" stroke="#9a9a9a" stroke-width="16" stroke-linecap="round" stroke-linejoin="round" fill="none"/><circle cx="1629.5" cy="1225.3" r="12" fill="#9a9a9a"/><circle cx="1629.5" cy="1273.7" r="12" fill="#9a9a9a"/><circle cx="1587.5" cy="1249.5" r="12" fill="#9a9a9a"/><circle cx="1763.5" cy="1249.5" r="12" fill="#9a9a9a"/><circle cx="1797.5" cy="1176.8" r="12" fill="#9a9a9a"/><circle cx="1797.5" cy="1273.8" r="12" fill="#9a9a9a"/><circle cx="1881.5" cy="1225.2" r="12" fill="#9a9a9a"/><circle cx="1831.5" cy="1152.5" r="12" fill="#9a9a9a"/><circle cx="1889.5" cy="1273.8" r="12" fill="#9a9a9a"/></g><path d="M1601.5 1225.3L1620.5 1225.3M1634 1233L1643.5 1249.5M1630.2 1234.5L1637.5 1247.1M1643.5 1249.5L1634 1266M1620.5 1273.7L1601.5 1273.7M1621.1 1269.7L1606.5 1269.7M1601.5 1273.7L1592 1257.3M1592 1241.7L1601.5 1225.3M1595.2 1244.2L1602.4 1231.6M1559.5 1152.5L1587.5 1152.5M1564.5 1156.5L1582.5 1156.5M1587.5 1152.5L1601.5 1176.8M1601.5 1176.8L1587.5 1201M1595.5 1179.1L1586.6 1194.6M1587.5 1201L1559.5 1201M1559.5 1201L1545.5 1176.8M1560.4 1194.6L1551.5 1179.1M1545.5 1176.8L1559.5 1152.5M1601.5 1225.3L1587.5 1201M1559.5 1152.5L1552.5 1140.4M1559.5 1298L1587.5 1298M1587.5 1298L1601.5 1322.2M1586.6 1304.4L1595.5 1319.9M1601.5 1322.2L1587.5 1346.5M1587.5 1346.5L1559.5 1346.5M1582.5 1342.5L1564.5 1342.5M1559.5 1346.5L1545.5 1322.2M1545.5 1322.2L1559.5 1298M1551.5 1319.9L1560.4 1304.4M1601.5 1273.7L1587.5 1298M1559.5 1346.5L1552.5 1358.6M1685.5 1225.3L1713.5 1225.3M1713.5 1225.3L1727.5 1249.5M1712.6 1231.6L1721.5 1247.1M1727.5 1249.5L1713.5 1273.7M1713.5 1273.7L1685.5 1273.7M1708.5 1269.7L1690.5 1269.7M1685.5 1273.7L1671.5 1249.5M1671.5 1249.5L1685.5 1225.3M1677.5 1247.1L1686.4 1231.6M1643.5 1249.5L1671.5 1249.5M1727.5 1249.5L1746.5 1249.5M1760 1241.7L1769.5 1225.2M1811.5 1201L1839.5 1201M1839.5 1201L1853.5 1225.2M1853.5 1225.2L1839.5 1249.5M1839.5 1249.5L1811.5 1249.5M1811.5 1249.5L1797.5 1225.2M1797.5 1225.2L1811.5 1201M1769.5 1225.2L1797.5 1225.2M1773.7 1221.2L1793.3 1221.2M1813.2 1200L1803.7 1183.5M1809.8 1202L1800.3 1185.5M1809.8 1248.5L1800.3 1265M1813.2 1250.5L1803.7 1267M1853.5 1227.2L1872.5 1227.2M1853.5 1223.2L1872.5 1223.2M1839.5 1201L1853.5 1176.8M1845.1 1199.4L1854.9 1182.4M1853.5 1176.8L1844 1160.3M1853.5 1079.8L1881.5 1079.8M1858.5 1083.8L1876.5 1083.8M1881.5 1079.8L1895.5 1104M1895.5 1104L1881.5 1128.2M1889.5 1106.4L1880.6 1121.9M1881.5 1128.2L1853.5 1128.2M1853.5 1128.2L1839.5 1104M1854.4 1121.9L1845.5 1106.4M1839.5 1104L1853.5 1079.8M1844 1144.7L1853.5 1128.2M1881.5 1079.8L1892 1061.6M1839.5 1249.5L1853.5 1273.8M1845.1 1251.1L1854.9 1268.1M1853.5 1273.8L1872.5 1273.8M1895.5 1298L1923.5 1298M1900.5 1302L1918.5 1302M1923.5 1298L1937.5 1322.2M1937.5 1322.2L1923.5 1346.5M1931.5 1324.6L1922.6 1340.1M1923.5 1346.5L1895.5 1346.5M1895.5 1346.5L1881.5 1322.2M1896.4 1340.1L1887.5 1324.6M1881.5 1322.2L1895.5 1298M1886 1281.5L1895.5 1298M1923.5 1346.5L1930.5 1358.6M1561.9 1140.5L1548.1 1148.5M1548.1 1350.5L1561.9 1358.5M1897.4 1068.2L1883.6 1060.2M1921.1 1358.5L1934.9 1350.5" stroke="#444" stroke-width="2" fill="none" stroke-linecap="round"/><g font-family="'Liberation Sans', sans-serif" font-size="20" fill="#111" text-anchor="middle"><text x="1629.5" y="1232.5">N</text><text x="1629.5" y="1280.9">N</text><text x="1587.5" y="1256.7">N</text><text x="1763.5" y="1256.7">NH</text><text x="1797.5" y="1184">O</text><text x="1797.5" y="1281">O</text><text x="1881.5" y="1232.5">O</text><text x="1831.5" y="1159.7">HN</text><text x="1889.5" y="1281">NH</text></g><path d="M1771.6 1131L1787.4 1160M1897 1224.6L1936.4 1219.3M1790 1293L1775.5 1323.4" stroke="#e0242a" stroke-width="3.2" stroke-dasharray="3 3" fill="none"/><circle cx="1747" cy="1106" r="7" fill="url(#hG)"/><circle cx="1765.5" cy="1121" r="7" fill="url(#hG)"/><circle cx="1761" cy="1107.5" r="10.5" fill="url(#oG)"/><circle cx="1951" cy="1213.5" r="7" fill="url(#hG)"/><circle cx="1972" cy="1208.5" r="7" fill="url(#hG)"/><circle cx="1962.7" cy="1219.3" r="10.5" fill="url(#oG)"/><circle cx="1771.6" cy="1334" r="7" fill="url(#hG)"/><circle cx="1763.7" cy="1357" r="7" fill="url(#hG)"/><circle cx="1775.5" cy="1348.5" r="10.5" fill="url(#oG)"/><g font-family="'Liberation Sans', sans-serif" fill="#111"><text transform="matrix(0.817 0 0 1 1411.2 1210)" font-size="55.5" stroke="#fefefe" stroke-width="1">H</text><text transform="matrix(1.38 0 0 1 1443 1214.7)" font-size="24.6" stroke="#111" stroke-width="0.5">2</text><text transform="matrix(1.04 0 0 1 1460.1 1203.4)" font-size="35.8">O</text></g></svg></body></html>
